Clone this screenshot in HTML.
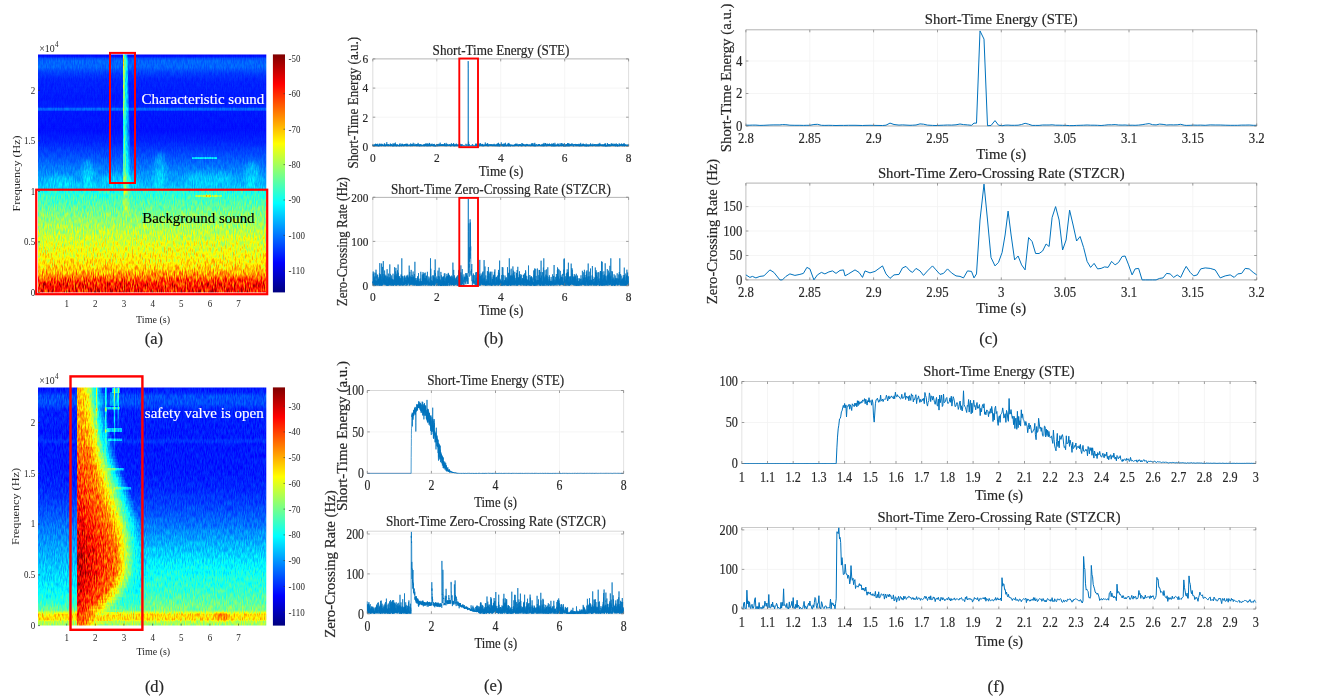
<!DOCTYPE html>
<html lang="en"><head><meta charset="utf-8"><title>Figure</title>
<style>
html,body{margin:0;padding:0;background:#fff;}
svg{display:block;font-family:"Liberation Serif","Times New Roman",serif;}
text{fill:#262626;stroke:#262626;stroke-width:.18px;}
text.s{stroke:none;}
</style></head><body>
<svg width="1320" height="700" viewBox="0 0 1320 700">
<rect width="1320" height="700" fill="#fff"/>

<defs>
<filter id="jet" x="0" y="0" width="1" height="1" color-interpolation-filters="sRGB">
<feTurbulence type="fractalNoise" baseFrequency="0.9 0.17" numOctaves="2" seed="5" result="n0"/>
<feColorMatrix in="n0" type="matrix" values="2 0 0 0 -0.5 2 0 0 0 -0.5 2 0 0 0 -0.5 0 0 0 0 1" result="n"/>
<feComposite in="SourceGraphic" in2="n" operator="arithmetic" k1="0.32" k2="0.84" k3="-0.03" k4="0.015" result="v"/>
<feComponentTransfer in="v">
<feFuncR type="table" tableValues="0 0 0 0 .5 1 1 1 .5"/>
<feFuncG type="table" tableValues="0 0 .5 1 1 1 .5 0 0"/>
<feFuncB type="table" tableValues=".5 1 1 1 .5 0 0 0 0"/>
<feFuncA type="discrete" tableValues="1 1"/>
</feComponentTransfer>
</filter>
<filter id="jetd" x="0" y="0" width="1" height="1" color-interpolation-filters="sRGB">
<feTurbulence type="fractalNoise" baseFrequency="0.9 0.17" numOctaves="2" seed="11" result="n0"/>
<feColorMatrix in="n0" type="matrix" values="2 0 0 0 -0.5 2 0 0 0 -0.5 2 0 0 0 -0.5 0 0 0 0 1" result="n"/>
<feComposite in="SourceGraphic" in2="n" operator="arithmetic" k1="0.20" k2="0.90" k3="0.02" k4="-0.01" result="v"/>
<feComponentTransfer in="v">
<feFuncR type="table" tableValues="0 0 0 0 .5 1 1 1 .5"/>
<feFuncG type="table" tableValues="0 0 .5 1 1 1 .5 0 0"/>
<feFuncB type="table" tableValues=".5 1 1 1 .5 0 0 0 0"/>
<feFuncA type="discrete" tableValues="1 1"/>
</feComponentTransfer>
</filter>
<filter id="bl2" x="-0.2" y="-0.2" width="1.4" height="1.4"><feGaussianBlur stdDeviation="2"/></filter>
<filter id="bl1" x="-0.2" y="-0.2" width="1.4" height="1.4"><feGaussianBlur stdDeviation="1"/></filter>
<linearGradient id="cbar" x1="0" y1="1" x2="0" y2="0">
<stop offset="0" stop-color="#00007f"/><stop offset=".125" stop-color="#0000ff"/><stop offset=".375" stop-color="#00ffff"/>
<stop offset=".625" stop-color="#ffff00"/><stop offset=".875" stop-color="#ff0000"/><stop offset="1" stop-color="#7f0000"/>
</linearGradient>

<linearGradient id="ga" gradientUnits="userSpaceOnUse" x1="0" y1="54.4" x2="0" y2="292.4"><stop offset="0.0000" stop-color="#212121"/><stop offset="0.0080" stop-color="#242424"/><stop offset="0.0172" stop-color="#333333"/><stop offset="0.0277" stop-color="#393939"/><stop offset="0.0529" stop-color="#393939"/><stop offset="0.0782" stop-color="#2f2f2f"/><stop offset="0.1076" stop-color="#292929"/><stop offset="0.1916" stop-color="#262626"/><stop offset="0.2210" stop-color="#282828"/><stop offset="0.2273" stop-color="#393939"/><stop offset="0.2336" stop-color="#393939"/><stop offset="0.2399" stop-color="#262626"/><stop offset="0.3176" stop-color="#242424"/><stop offset="0.3681" stop-color="#292929"/><stop offset="0.4227" stop-color="#333333"/><stop offset="0.4857" stop-color="#404040"/><stop offset="0.5361" stop-color="#4b4b4b"/><stop offset="0.5655" stop-color="#545454"/><stop offset="0.5718" stop-color="#666666"/><stop offset="0.6118" stop-color="#707070"/><stop offset="0.6622" stop-color="#7d7d7d"/><stop offset="0.7168" stop-color="#888888"/><stop offset="0.7714" stop-color="#939393"/><stop offset="0.8303" stop-color="#9c9c9c"/><stop offset="0.8723" stop-color="#a3a3a3"/><stop offset="0.8975" stop-color="#aaaaaa"/><stop offset="0.9185" stop-color="#b5b5b5"/><stop offset="0.9353" stop-color="#c2c2c2"/><stop offset="0.9521" stop-color="#d1d1d1"/><stop offset="0.9689" stop-color="#dbdbdb"/><stop offset="1.0000" stop-color="#dbdbdb"/></linearGradient>
<linearGradient id="gd" gradientUnits="userSpaceOnUse" x1="0" y1="387.4" x2="0" y2="625.6"><stop offset="0.0000" stop-color="#262626"/><stop offset="0.0193" stop-color="#282828"/><stop offset="0.0361" stop-color="#333333"/><stop offset="0.0697" stop-color="#333333"/><stop offset="0.0949" stop-color="#282828"/><stop offset="0.2124" stop-color="#262626"/><stop offset="0.2208" stop-color="#2c2c2c"/><stop offset="0.2292" stop-color="#2c2c2c"/><stop offset="0.2376" stop-color="#262626"/><stop offset="0.3468" stop-color="#262626"/><stop offset="0.4307" stop-color="#2a2a2a"/><stop offset="0.5147" stop-color="#333333"/><stop offset="0.5987" stop-color="#404040"/><stop offset="0.6826" stop-color="#4a4a4a"/><stop offset="0.7666" stop-color="#545454"/><stop offset="0.8505" stop-color="#5e5e5e"/><stop offset="0.9051" stop-color="#6b6b6b"/><stop offset="0.9345" stop-color="#787878"/><stop offset="0.9450" stop-color="#949494"/><stop offset="0.9534" stop-color="#a7a7a7"/><stop offset="0.9744" stop-color="#a7a7a7"/><stop offset="0.9828" stop-color="#8f8f8f"/><stop offset="1.0000" stop-color="#858585"/></linearGradient>
<clipPath id="cpa"><rect x="38.0" y="54.4" width="228.3" height="237.99999999999997"/></clipPath>
<clipPath id="cpd"><rect x="38.0" y="387.4" width="228.3" height="238.20000000000005"/></clipPath>
</defs>
<g clip-path="url(#cpa)"><g filter="url(#jet)"><rect x="36.0" y="52.4" width="232.3" height="241.99999999999997" fill="url(#ga)"/>
<g filter="url(#bl2)" fill="#fff">
<ellipse cx="88" cy="174" rx="6" ry="14" opacity="0.08"/>
<ellipse cx="160" cy="170" rx="6" ry="18" opacity="0.08"/>
<ellipse cx="252" cy="174" rx="7" ry="14" opacity="0.07"/>
<ellipse cx="120" cy="180" rx="20" ry="7" opacity="0.05"/>
<ellipse cx="210" cy="178" rx="25" ry="7" opacity="0.05"/>
<ellipse cx="60" cy="181" rx="14" ry="6" opacity="0.05"/>
</g>
<rect x="192" y="157.2" width="25" height="1.7" fill="#fff" opacity=".2"/>
<rect x="195" y="195" width="27" height="2" fill="#fff" opacity=".2"/><rect x="205.5" y="194.6" width="5" height="2.8" fill="#fff" opacity=".3"/>
<linearGradient id="stk" x1="0" y1="0" x2="1" y2="0"><stop offset="0" stop-color="#fff" stop-opacity=".34"/><stop offset=".45" stop-color="#fff" stop-opacity=".2"/><stop offset="1" stop-color="#fff" stop-opacity="0"/></linearGradient>
<linearGradient id="stkm" x1="0" y1="0" x2="0" y2="1"><stop offset="0" stop-color="#fff"/><stop offset=".75" stop-color="#fff"/><stop offset=".93" stop-color="#fff" stop-opacity=".5"/><stop offset="1" stop-color="#fff" stop-opacity="0"/></linearGradient>
<linearGradient id="stkl" x1="0" y1="0" x2="0" y2="1"><stop offset="0" stop-color="#fff" stop-opacity=".55"/><stop offset=".3" stop-color="#fff" stop-opacity=".48"/><stop offset=".42" stop-color="#fff" stop-opacity=".3"/><stop offset=".7" stop-color="#fff" stop-opacity=".24"/><stop offset="1" stop-color="#fff" stop-opacity=".12"/></linearGradient>
<mask id="mstk"><rect x="120" y="54" width="14" height="166" fill="url(#stkm)"/></mask>
<g mask="url(#mstk)"><path d="M123.9 54.4h3.4l3.6 110v56h-7z" fill="url(#stk)"/>
<rect x="123.1" y="54.4" width="1.1" height="166" fill="url(#stkl)"/></g>
</g></g>
<g clip-path="url(#cpd)"><g filter="url(#jetd)"><rect x="36.0" y="385.4" width="232.3" height="242.20000000000005" fill="url(#gd)"/>
<g filter="url(#bl2)" fill="#fff">
<rect x="216" y="613.5" width="13" height="7" opacity=".3"/>
</g>
<linearGradient id="lift" gradientUnits="userSpaceOnUse" x1="0" y1="525" x2="0" y2="613"><stop offset="0" stop-color="#fff" stop-opacity="0"/><stop offset=".55" stop-color="#fff" stop-opacity=".085"/><stop offset=".93" stop-color="#fff" stop-opacity=".085"/><stop offset="1" stop-color="#fff" stop-opacity="0"/></linearGradient><rect x="140" y="525" width="130" height="88" fill="url(#lift)"/>
<g shape-rendering="crispEdges">
<linearGradient id="r0" gradientUnits="userSpaceOnUse" x1="77.3" x2="104.2" y1="0" y2="0"><stop offset="0.000" stop-color="#b0b0b0"/><stop offset="0.145" stop-color="#a9a9a9"/><stop offset="0.368" stop-color="#9e9e9e"/><stop offset="0.626" stop-color="#666666"/><stop offset="1.000" stop-color="#272727"/></linearGradient><linearGradient id="r1" gradientUnits="userSpaceOnUse" x1="77.3" x2="104.6" y1="0" y2="0"><stop offset="0.000" stop-color="#b1b1b1"/><stop offset="0.158" stop-color="#a9a9a9"/><stop offset="0.377" stop-color="#9e9e9e"/><stop offset="0.628" stop-color="#666666"/><stop offset="1.000" stop-color="#272727"/></linearGradient><linearGradient id="r2" gradientUnits="userSpaceOnUse" x1="77.3" x2="105.0" y1="0" y2="0"><stop offset="0.000" stop-color="#b2b2b2"/><stop offset="0.170" stop-color="#aaaaaa"/><stop offset="0.386" stop-color="#9e9e9e"/><stop offset="0.630" stop-color="#666666"/><stop offset="1.000" stop-color="#2f2f2f"/></linearGradient><linearGradient id="r3" gradientUnits="userSpaceOnUse" x1="77.3" x2="105.4" y1="0" y2="0"><stop offset="0.000" stop-color="#b3b3b3"/><stop offset="0.181" stop-color="#ababab"/><stop offset="0.395" stop-color="#9e9e9e"/><stop offset="0.632" stop-color="#666666"/><stop offset="1.000" stop-color="#333333"/></linearGradient><linearGradient id="r4" gradientUnits="userSpaceOnUse" x1="77.3" x2="105.8" y1="0" y2="0"><stop offset="0.000" stop-color="#b3b3b3"/><stop offset="0.193" stop-color="#acacac"/><stop offset="0.404" stop-color="#9e9e9e"/><stop offset="0.633" stop-color="#666666"/><stop offset="1.000" stop-color="#333333"/></linearGradient><linearGradient id="r5" gradientUnits="userSpaceOnUse" x1="77.3" x2="106.2" y1="0" y2="0"><stop offset="0.000" stop-color="#b4b4b4"/><stop offset="0.204" stop-color="#adadad"/><stop offset="0.412" stop-color="#9e9e9e"/><stop offset="0.635" stop-color="#666666"/><stop offset="1.000" stop-color="#333333"/></linearGradient><linearGradient id="r6" gradientUnits="userSpaceOnUse" x1="77.3" x2="106.6" y1="0" y2="0"><stop offset="0.000" stop-color="#b5b5b5"/><stop offset="0.215" stop-color="#adadad"/><stop offset="0.420" stop-color="#9e9e9e"/><stop offset="0.637" stop-color="#666666"/><stop offset="1.000" stop-color="#2e2e2e"/></linearGradient><linearGradient id="r7" gradientUnits="userSpaceOnUse" x1="77.3" x2="107.0" y1="0" y2="0"><stop offset="0.000" stop-color="#b6b6b6"/><stop offset="0.226" stop-color="#aeaeae"/><stop offset="0.428" stop-color="#9e9e9e"/><stop offset="0.638" stop-color="#666666"/><stop offset="1.000" stop-color="#282828"/></linearGradient><linearGradient id="r8" gradientUnits="userSpaceOnUse" x1="77.3" x2="107.4" y1="0" y2="0"><stop offset="0.000" stop-color="#b6b6b6"/><stop offset="0.236" stop-color="#afafaf"/><stop offset="0.435" stop-color="#9e9e9e"/><stop offset="0.640" stop-color="#666666"/><stop offset="1.000" stop-color="#272727"/></linearGradient><linearGradient id="r9" gradientUnits="userSpaceOnUse" x1="77.3" x2="107.8" y1="0" y2="0"><stop offset="0.000" stop-color="#b7b7b7"/><stop offset="0.246" stop-color="#b0b0b0"/><stop offset="0.443" stop-color="#9e9e9e"/><stop offset="0.641" stop-color="#666666"/><stop offset="1.000" stop-color="#272727"/></linearGradient><linearGradient id="r10" gradientUnits="userSpaceOnUse" x1="77.3" x2="108.3" y1="0" y2="0"><stop offset="0.000" stop-color="#b8b8b8"/><stop offset="0.253" stop-color="#b0b0b0"/><stop offset="0.449" stop-color="#9e9e9e"/><stop offset="0.645" stop-color="#666666"/><stop offset="1.000" stop-color="#272727"/></linearGradient><linearGradient id="r11" gradientUnits="userSpaceOnUse" x1="77.3" x2="109.0" y1="0" y2="0"><stop offset="0.000" stop-color="#b9b9b9"/><stop offset="0.258" stop-color="#b2b2b2"/><stop offset="0.456" stop-color="#9e9e9e"/><stop offset="0.653" stop-color="#666666"/><stop offset="1.000" stop-color="#272727"/></linearGradient><linearGradient id="r12" gradientUnits="userSpaceOnUse" x1="77.3" x2="109.6" y1="0" y2="0"><stop offset="0.000" stop-color="#bababa"/><stop offset="0.263" stop-color="#b3b3b3"/><stop offset="0.461" stop-color="#9e9e9e"/><stop offset="0.660" stop-color="#666666"/><stop offset="1.000" stop-color="#272727"/></linearGradient><linearGradient id="r13" gradientUnits="userSpaceOnUse" x1="77.3" x2="110.3" y1="0" y2="0"><stop offset="0.000" stop-color="#bbbbbb"/><stop offset="0.268" stop-color="#b4b4b4"/><stop offset="0.467" stop-color="#9e9e9e"/><stop offset="0.666" stop-color="#666666"/><stop offset="1.000" stop-color="#272727"/></linearGradient><linearGradient id="r14" gradientUnits="userSpaceOnUse" x1="77.3" x2="110.9" y1="0" y2="0"><stop offset="0.000" stop-color="#bcbcbc"/><stop offset="0.272" stop-color="#b5b5b5"/><stop offset="0.473" stop-color="#9e9e9e"/><stop offset="0.673" stop-color="#666666"/><stop offset="1.000" stop-color="#272727"/></linearGradient><linearGradient id="r15" gradientUnits="userSpaceOnUse" x1="77.3" x2="111.6" y1="0" y2="0"><stop offset="0.000" stop-color="#bdbdbd"/><stop offset="0.277" stop-color="#b6b6b6"/><stop offset="0.478" stop-color="#9e9e9e"/><stop offset="0.679" stop-color="#666666"/><stop offset="1.000" stop-color="#262626"/></linearGradient><linearGradient id="r16" gradientUnits="userSpaceOnUse" x1="77.3" x2="112.2" y1="0" y2="0"><stop offset="0.000" stop-color="#bebebe"/><stop offset="0.281" stop-color="#b7b7b7"/><stop offset="0.483" stop-color="#9e9e9e"/><stop offset="0.685" stop-color="#666666"/><stop offset="1.000" stop-color="#262626"/></linearGradient><linearGradient id="r17" gradientUnits="userSpaceOnUse" x1="77.3" x2="112.9" y1="0" y2="0"><stop offset="0.000" stop-color="#bfbfbf"/><stop offset="0.285" stop-color="#b8b8b8"/><stop offset="0.488" stop-color="#9e9e9e"/><stop offset="0.691" stop-color="#666666"/><stop offset="1.000" stop-color="#2a2a2a"/></linearGradient><linearGradient id="r18" gradientUnits="userSpaceOnUse" x1="77.3" x2="113.5" y1="0" y2="0"><stop offset="0.000" stop-color="#c0c0c0"/><stop offset="0.289" stop-color="#b9b9b9"/><stop offset="0.492" stop-color="#9e9e9e"/><stop offset="0.696" stop-color="#666666"/><stop offset="1.000" stop-color="#2a2a2a"/></linearGradient><linearGradient id="r19" gradientUnits="userSpaceOnUse" x1="77.3" x2="114.2" y1="0" y2="0"><stop offset="0.000" stop-color="#c1c1c1"/><stop offset="0.292" stop-color="#bababa"/><stop offset="0.497" stop-color="#9e9e9e"/><stop offset="0.702" stop-color="#666666"/><stop offset="1.000" stop-color="#262626"/></linearGradient><linearGradient id="r20" gradientUnits="userSpaceOnUse" x1="77.3" x2="114.8" y1="0" y2="0"><stop offset="0.000" stop-color="#c2c2c2"/><stop offset="0.296" stop-color="#c2c2c2"/><stop offset="0.501" stop-color="#9e9e9e"/><stop offset="0.707" stop-color="#666666"/><stop offset="1.000" stop-color="#262626"/></linearGradient><linearGradient id="r21" gradientUnits="userSpaceOnUse" x1="77.3" x2="115.5" y1="0" y2="0"><stop offset="0.000" stop-color="#c3c3c3"/><stop offset="0.300" stop-color="#c2c2c2"/><stop offset="0.506" stop-color="#9e9e9e"/><stop offset="0.712" stop-color="#666666"/><stop offset="1.000" stop-color="#262626"/></linearGradient><linearGradient id="r22" gradientUnits="userSpaceOnUse" x1="77.3" x2="116.2" y1="0" y2="0"><stop offset="0.000" stop-color="#c5c5c5"/><stop offset="0.304" stop-color="#c2c2c2"/><stop offset="0.510" stop-color="#9e9e9e"/><stop offset="0.717" stop-color="#666666"/><stop offset="1.000" stop-color="#262626"/></linearGradient><linearGradient id="r23" gradientUnits="userSpaceOnUse" x1="77.3" x2="117.3" y1="0" y2="0"><stop offset="0.000" stop-color="#c6c6c6"/><stop offset="0.311" stop-color="#c2c2c2"/><stop offset="0.518" stop-color="#9e9e9e"/><stop offset="0.728" stop-color="#666666"/><stop offset="1.000" stop-color="#262626"/></linearGradient><linearGradient id="r24" gradientUnits="userSpaceOnUse" x1="77.3" x2="118.5" y1="0" y2="0"><stop offset="0.000" stop-color="#c7c7c7"/><stop offset="0.318" stop-color="#c2c2c2"/><stop offset="0.526" stop-color="#9e9e9e"/><stop offset="0.737" stop-color="#666666"/><stop offset="1.000" stop-color="#262626"/></linearGradient><linearGradient id="r25" gradientUnits="userSpaceOnUse" x1="77.3" x2="119.6" y1="0" y2="0"><stop offset="0.000" stop-color="#c9c9c9"/><stop offset="0.325" stop-color="#c2c2c2"/><stop offset="0.533" stop-color="#9e9e9e"/><stop offset="0.746" stop-color="#666666"/><stop offset="1.000" stop-color="#262626"/></linearGradient><linearGradient id="r26" gradientUnits="userSpaceOnUse" x1="77.3" x2="120.7" y1="0" y2="0"><stop offset="0.000" stop-color="#cacaca"/><stop offset="0.332" stop-color="#c2c2c2"/><stop offset="0.539" stop-color="#9e9e9e"/><stop offset="0.754" stop-color="#666666"/><stop offset="1.000" stop-color="#262626"/></linearGradient><linearGradient id="r27" gradientUnits="userSpaceOnUse" x1="77.3" x2="121.9" y1="0" y2="0"><stop offset="0.000" stop-color="#cccccc"/><stop offset="0.338" stop-color="#c2c2c2"/><stop offset="0.545" stop-color="#9e9e9e"/><stop offset="0.763" stop-color="#666666"/><stop offset="1.000" stop-color="#262626"/></linearGradient><linearGradient id="r28" gradientUnits="userSpaceOnUse" x1="77.3" x2="123.0" y1="0" y2="0"><stop offset="0.000" stop-color="#cdcdcd"/><stop offset="0.344" stop-color="#c2c2c2"/><stop offset="0.551" stop-color="#9e9e9e"/><stop offset="0.770" stop-color="#666666"/><stop offset="1.000" stop-color="#272727"/></linearGradient><linearGradient id="r29" gradientUnits="userSpaceOnUse" x1="77.3" x2="124.1" y1="0" y2="0"><stop offset="0.000" stop-color="#cfcfcf"/><stop offset="0.349" stop-color="#c2c2c2"/><stop offset="0.557" stop-color="#9e9e9e"/><stop offset="0.778" stop-color="#666666"/><stop offset="1.000" stop-color="#272727"/></linearGradient><linearGradient id="r30" gradientUnits="userSpaceOnUse" x1="77.3" x2="125.3" y1="0" y2="0"><stop offset="0.000" stop-color="#d0d0d0"/><stop offset="0.354" stop-color="#c2c2c2"/><stop offset="0.563" stop-color="#9e9e9e"/><stop offset="0.784" stop-color="#666666"/><stop offset="1.000" stop-color="#282828"/></linearGradient><linearGradient id="r31" gradientUnits="userSpaceOnUse" x1="77.3" x2="126.4" y1="0" y2="0"><stop offset="0.000" stop-color="#d2d2d2"/><stop offset="0.359" stop-color="#c2c2c2"/><stop offset="0.568" stop-color="#9e9e9e"/><stop offset="0.791" stop-color="#666666"/><stop offset="1.000" stop-color="#282828"/></linearGradient><linearGradient id="r32" gradientUnits="userSpaceOnUse" x1="77.3" x2="127.5" y1="0" y2="0"><stop offset="0.000" stop-color="#d3d3d3"/><stop offset="0.364" stop-color="#c2c2c2"/><stop offset="0.573" stop-color="#9e9e9e"/><stop offset="0.797" stop-color="#666666"/><stop offset="1.000" stop-color="#292929"/></linearGradient><linearGradient id="r33" gradientUnits="userSpaceOnUse" x1="77.3" x2="128.7" y1="0" y2="0"><stop offset="0.000" stop-color="#d5d5d5"/><stop offset="0.369" stop-color="#c2c2c2"/><stop offset="0.577" stop-color="#9e9e9e"/><stop offset="0.804" stop-color="#666666"/><stop offset="1.000" stop-color="#2a2a2a"/></linearGradient><linearGradient id="r34" gradientUnits="userSpaceOnUse" x1="77.3" x2="129.8" y1="0" y2="0"><stop offset="0.000" stop-color="#d6d6d6"/><stop offset="0.373" stop-color="#c2c2c2"/><stop offset="0.582" stop-color="#9e9e9e"/><stop offset="0.809" stop-color="#666666"/><stop offset="1.000" stop-color="#2a2a2a"/></linearGradient><linearGradient id="r35" gradientUnits="userSpaceOnUse" x1="77.3" x2="130.8" y1="0" y2="0"><stop offset="0.000" stop-color="#d7d7d7"/><stop offset="0.385" stop-color="#c2c2c2"/><stop offset="0.591" stop-color="#9e9e9e"/><stop offset="0.812" stop-color="#666666"/><stop offset="1.000" stop-color="#2c2c2c"/></linearGradient><linearGradient id="r36" gradientUnits="userSpaceOnUse" x1="77.3" x2="131.8" y1="0" y2="0"><stop offset="0.000" stop-color="#d8d8d8"/><stop offset="0.398" stop-color="#c2c2c2"/><stop offset="0.600" stop-color="#9e9e9e"/><stop offset="0.813" stop-color="#666666"/><stop offset="1.000" stop-color="#2d2d2d"/></linearGradient><linearGradient id="r37" gradientUnits="userSpaceOnUse" x1="77.3" x2="132.8" y1="0" y2="0"><stop offset="0.000" stop-color="#d9d9d9"/><stop offset="0.411" stop-color="#c2c2c2"/><stop offset="0.609" stop-color="#9e9e9e"/><stop offset="0.815" stop-color="#666666"/><stop offset="1.000" stop-color="#2e2e2e"/></linearGradient><linearGradient id="r38" gradientUnits="userSpaceOnUse" x1="77.3" x2="133.8" y1="0" y2="0"><stop offset="0.000" stop-color="#dadada"/><stop offset="0.423" stop-color="#c2c2c2"/><stop offset="0.618" stop-color="#9e9e9e"/><stop offset="0.816" stop-color="#666666"/><stop offset="1.000" stop-color="#303030"/></linearGradient><linearGradient id="r39" gradientUnits="userSpaceOnUse" x1="77.3" x2="134.8" y1="0" y2="0"><stop offset="0.000" stop-color="#dbdbdb"/><stop offset="0.435" stop-color="#c2c2c2"/><stop offset="0.626" stop-color="#9e9e9e"/><stop offset="0.818" stop-color="#666666"/><stop offset="1.000" stop-color="#313131"/></linearGradient><linearGradient id="r40" gradientUnits="userSpaceOnUse" x1="77.3" x2="135.8" y1="0" y2="0"><stop offset="0.000" stop-color="#dcdcdc"/><stop offset="0.446" stop-color="#c2c2c2"/><stop offset="0.634" stop-color="#9e9e9e"/><stop offset="0.819" stop-color="#666666"/><stop offset="1.000" stop-color="#323232"/></linearGradient><linearGradient id="r41" gradientUnits="userSpaceOnUse" x1="77.3" x2="136.8" y1="0" y2="0"><stop offset="0.000" stop-color="#dddddd"/><stop offset="0.457" stop-color="#c2c2c2"/><stop offset="0.642" stop-color="#9e9e9e"/><stop offset="0.821" stop-color="#666666"/><stop offset="1.000" stop-color="#343434"/></linearGradient><linearGradient id="r42" gradientUnits="userSpaceOnUse" x1="77.3" x2="137.8" y1="0" y2="0"><stop offset="0.000" stop-color="#dedede"/><stop offset="0.468" stop-color="#c2c2c2"/><stop offset="0.650" stop-color="#9e9e9e"/><stop offset="0.822" stop-color="#666666"/><stop offset="1.000" stop-color="#363636"/></linearGradient><linearGradient id="r43" gradientUnits="userSpaceOnUse" x1="77.3" x2="138.8" y1="0" y2="0"><stop offset="0.000" stop-color="#dfdfdf"/><stop offset="0.478" stop-color="#c2c2c2"/><stop offset="0.657" stop-color="#9e9e9e"/><stop offset="0.823" stop-color="#666666"/><stop offset="1.000" stop-color="#383838"/></linearGradient><linearGradient id="r44" gradientUnits="userSpaceOnUse" x1="77.3" x2="139.8" y1="0" y2="0"><stop offset="0.000" stop-color="#e0e0e0"/><stop offset="0.488" stop-color="#c2c2c2"/><stop offset="0.664" stop-color="#9e9e9e"/><stop offset="0.824" stop-color="#666666"/><stop offset="1.000" stop-color="#3a3a3a"/></linearGradient><linearGradient id="r45" gradientUnits="userSpaceOnUse" x1="77.3" x2="140.5" y1="0" y2="0"><stop offset="0.000" stop-color="#e2e2e2"/><stop offset="0.498" stop-color="#c2c2c2"/><stop offset="0.666" stop-color="#9e9e9e"/><stop offset="0.826" stop-color="#666666"/><stop offset="1.000" stop-color="#3c3c3c"/></linearGradient><linearGradient id="r46" gradientUnits="userSpaceOnUse" x1="77.3" x2="141.1" y1="0" y2="0"><stop offset="0.000" stop-color="#e3e3e3"/><stop offset="0.508" stop-color="#c2c2c2"/><stop offset="0.667" stop-color="#9e9e9e"/><stop offset="0.827" stop-color="#666666"/><stop offset="1.000" stop-color="#3e3e3e"/></linearGradient><linearGradient id="r47" gradientUnits="userSpaceOnUse" x1="77.3" x2="141.6" y1="0" y2="0"><stop offset="0.000" stop-color="#e5e5e5"/><stop offset="0.518" stop-color="#c2c2c2"/><stop offset="0.669" stop-color="#9e9e9e"/><stop offset="0.829" stop-color="#666666"/><stop offset="1.000" stop-color="#3f3f3f"/></linearGradient><linearGradient id="r48" gradientUnits="userSpaceOnUse" x1="77.3" x2="142.2" y1="0" y2="0"><stop offset="0.000" stop-color="#e6e6e6"/><stop offset="0.527" stop-color="#c2c2c2"/><stop offset="0.670" stop-color="#9e9e9e"/><stop offset="0.831" stop-color="#666666"/><stop offset="1.000" stop-color="#414141"/></linearGradient><linearGradient id="r49" gradientUnits="userSpaceOnUse" x1="77.3" x2="142.8" y1="0" y2="0"><stop offset="0.000" stop-color="#e8e8e8"/><stop offset="0.537" stop-color="#c2c2c2"/><stop offset="0.671" stop-color="#9e9e9e"/><stop offset="0.832" stop-color="#666666"/><stop offset="1.000" stop-color="#434343"/></linearGradient><linearGradient id="r50" gradientUnits="userSpaceOnUse" x1="77.3" x2="143.4" y1="0" y2="0"><stop offset="0.000" stop-color="#e9e9e9"/><stop offset="0.546" stop-color="#c2c2c2"/><stop offset="0.672" stop-color="#9e9e9e"/><stop offset="0.833" stop-color="#666666"/><stop offset="1.000" stop-color="#444444"/></linearGradient><linearGradient id="r51" gradientUnits="userSpaceOnUse" x1="77.3" x2="143.9" y1="0" y2="0"><stop offset="0.000" stop-color="#eaeaea"/><stop offset="0.555" stop-color="#c2c2c2"/><stop offset="0.673" stop-color="#9e9e9e"/><stop offset="0.835" stop-color="#666666"/><stop offset="1.000" stop-color="#464646"/></linearGradient><linearGradient id="r52" gradientUnits="userSpaceOnUse" x1="77.3" x2="144.5" y1="0" y2="0"><stop offset="0.000" stop-color="#ececec"/><stop offset="0.564" stop-color="#c2c2c2"/><stop offset="0.674" stop-color="#9e9e9e"/><stop offset="0.836" stop-color="#666666"/><stop offset="1.000" stop-color="#474747"/></linearGradient><linearGradient id="r53" gradientUnits="userSpaceOnUse" x1="77.3" x2="145.0" y1="0" y2="0"><stop offset="0.000" stop-color="#ededed"/><stop offset="0.572" stop-color="#c2c2c2"/><stop offset="0.675" stop-color="#9e9e9e"/><stop offset="0.837" stop-color="#666666"/><stop offset="1.000" stop-color="#494949"/></linearGradient><linearGradient id="r54" gradientUnits="userSpaceOnUse" x1="77.3" x2="145.1" y1="0" y2="0"><stop offset="0.000" stop-color="#ededed"/><stop offset="0.572" stop-color="#c2c2c2"/><stop offset="0.674" stop-color="#9e9e9e"/><stop offset="0.836" stop-color="#666666"/><stop offset="1.000" stop-color="#4a4a4a"/></linearGradient><linearGradient id="r55" gradientUnits="userSpaceOnUse" x1="77.3" x2="145.2" y1="0" y2="0"><stop offset="0.000" stop-color="#ededed"/><stop offset="0.573" stop-color="#c2c2c2"/><stop offset="0.673" stop-color="#9e9e9e"/><stop offset="0.834" stop-color="#666666"/><stop offset="1.000" stop-color="#4c4c4c"/></linearGradient><linearGradient id="r56" gradientUnits="userSpaceOnUse" x1="77.3" x2="145.4" y1="0" y2="0"><stop offset="0.000" stop-color="#ededed"/><stop offset="0.574" stop-color="#c2c2c2"/><stop offset="0.671" stop-color="#9e9e9e"/><stop offset="0.833" stop-color="#666666"/><stop offset="1.000" stop-color="#4d4d4d"/></linearGradient><linearGradient id="r57" gradientUnits="userSpaceOnUse" x1="77.3" x2="145.5" y1="0" y2="0"><stop offset="0.000" stop-color="#ededed"/><stop offset="0.575" stop-color="#c2c2c2"/><stop offset="0.670" stop-color="#9e9e9e"/><stop offset="0.832" stop-color="#666666"/><stop offset="1.000" stop-color="#4f4f4f"/></linearGradient><linearGradient id="r58" gradientUnits="userSpaceOnUse" x1="77.3" x2="145.6" y1="0" y2="0"><stop offset="0.000" stop-color="#ededed"/><stop offset="0.575" stop-color="#c2c2c2"/><stop offset="0.669" stop-color="#9e9e9e"/><stop offset="0.830" stop-color="#666666"/><stop offset="1.000" stop-color="#505050"/></linearGradient><linearGradient id="r59" gradientUnits="userSpaceOnUse" x1="77.3" x2="145.7" y1="0" y2="0"><stop offset="0.000" stop-color="#ededed"/><stop offset="0.576" stop-color="#c2c2c2"/><stop offset="0.668" stop-color="#9e9e9e"/><stop offset="0.829" stop-color="#666666"/><stop offset="1.000" stop-color="#525252"/></linearGradient><linearGradient id="r60" gradientUnits="userSpaceOnUse" x1="77.3" x2="145.8" y1="0" y2="0"><stop offset="0.000" stop-color="#ededed"/><stop offset="0.577" stop-color="#c2c2c2"/><stop offset="0.667" stop-color="#9e9e9e"/><stop offset="0.827" stop-color="#666666"/><stop offset="1.000" stop-color="#535353"/></linearGradient><linearGradient id="r61" gradientUnits="userSpaceOnUse" x1="77.3" x2="145.9" y1="0" y2="0"><stop offset="0.000" stop-color="#ededed"/><stop offset="0.578" stop-color="#c2c2c2"/><stop offset="0.666" stop-color="#9e9e9e"/><stop offset="0.826" stop-color="#666666"/><stop offset="1.000" stop-color="#555555"/></linearGradient><linearGradient id="r62" gradientUnits="userSpaceOnUse" x1="77.3" x2="145.5" y1="0" y2="0"><stop offset="0.000" stop-color="#ededed"/><stop offset="0.570" stop-color="#c2c2c2"/><stop offset="0.661" stop-color="#9e9e9e"/><stop offset="0.824" stop-color="#666666"/><stop offset="1.000" stop-color="#565656"/></linearGradient><linearGradient id="r63" gradientUnits="userSpaceOnUse" x1="77.3" x2="144.4" y1="0" y2="0"><stop offset="0.000" stop-color="#ececec"/><stop offset="0.553" stop-color="#c2c2c2"/><stop offset="0.652" stop-color="#9e9e9e"/><stop offset="0.821" stop-color="#666666"/><stop offset="1.000" stop-color="#585858"/></linearGradient><linearGradient id="r64" gradientUnits="userSpaceOnUse" x1="77.3" x2="143.4" y1="0" y2="0"><stop offset="0.000" stop-color="#ebebeb"/><stop offset="0.537" stop-color="#c2c2c2"/><stop offset="0.642" stop-color="#9e9e9e"/><stop offset="0.818" stop-color="#666666"/><stop offset="1.000" stop-color="#5a5a5a"/></linearGradient><linearGradient id="r65" gradientUnits="userSpaceOnUse" x1="77.3" x2="142.3" y1="0" y2="0"><stop offset="0.000" stop-color="#eaeaea"/><stop offset="0.519" stop-color="#c2c2c2"/><stop offset="0.632" stop-color="#9e9e9e"/><stop offset="0.816" stop-color="#666666"/><stop offset="1.000" stop-color="#5b5b5b"/></linearGradient><linearGradient id="r66" gradientUnits="userSpaceOnUse" x1="77.3" x2="141.3" y1="0" y2="0"><stop offset="0.000" stop-color="#e9e9e9"/><stop offset="0.501" stop-color="#c2c2c2"/><stop offset="0.622" stop-color="#9e9e9e"/><stop offset="0.813" stop-color="#666666"/><stop offset="1.000" stop-color="#5d5d5d"/></linearGradient><linearGradient id="r67" gradientUnits="userSpaceOnUse" x1="77.3" x2="140.3" y1="0" y2="0"><stop offset="0.000" stop-color="#e8e8e8"/><stop offset="0.482" stop-color="#c2c2c2"/><stop offset="0.612" stop-color="#9e9e9e"/><stop offset="0.809" stop-color="#666666"/><stop offset="1.000" stop-color="#5e5e5e"/></linearGradient><linearGradient id="r68" gradientUnits="userSpaceOnUse" x1="77.3" x2="139.2" y1="0" y2="0"><stop offset="0.000" stop-color="#e7e7e7"/><stop offset="0.463" stop-color="#c2c2c2"/><stop offset="0.601" stop-color="#9e9e9e"/><stop offset="0.806" stop-color="#666666"/><stop offset="1.000" stop-color="#616161"/></linearGradient><linearGradient id="r69" gradientUnits="userSpaceOnUse" x1="77.3" x2="138.2" y1="0" y2="0"><stop offset="0.000" stop-color="#e6e6e6"/><stop offset="0.443" stop-color="#c2c2c2"/><stop offset="0.590" stop-color="#9e9e9e"/><stop offset="0.803" stop-color="#666666"/><stop offset="1.000" stop-color="#646464"/></linearGradient><linearGradient id="r70" gradientUnits="userSpaceOnUse" x1="77.3" x2="135.1" y1="0" y2="0"><stop offset="0.000" stop-color="#e4e4e4"/><stop offset="0.421" stop-color="#c2c2c2"/><stop offset="0.577" stop-color="#9e9e9e"/><stop offset="0.799" stop-color="#676767"/><stop offset="1.000" stop-color="#676767"/></linearGradient><linearGradient id="r71" gradientUnits="userSpaceOnUse" x1="77.3" x2="131.7" y1="0" y2="0"><stop offset="0.000" stop-color="#e1e1e1"/><stop offset="0.397" stop-color="#c2c2c2"/><stop offset="0.562" stop-color="#9e9e9e"/><stop offset="0.794" stop-color="#6a6a6a"/><stop offset="1.000" stop-color="#6a6a6a"/></linearGradient><linearGradient id="r72" gradientUnits="userSpaceOnUse" x1="77.3" x2="128.3" y1="0" y2="0"><stop offset="0.000" stop-color="#dfdfdf"/><stop offset="0.369" stop-color="#c2c2c2"/><stop offset="0.545" stop-color="#9e9e9e"/><stop offset="0.788" stop-color="#6e6e6e"/><stop offset="1.000" stop-color="#6e6e6e"/></linearGradient><linearGradient id="r73" gradientUnits="userSpaceOnUse" x1="77.3" x2="124.9" y1="0" y2="0"><stop offset="0.000" stop-color="#dddddd"/><stop offset="0.337" stop-color="#c2c2c2"/><stop offset="0.526" stop-color="#9e9e9e"/><stop offset="0.782" stop-color="#737373"/><stop offset="1.000" stop-color="#737373"/></linearGradient><linearGradient id="r74" gradientUnits="userSpaceOnUse" x1="77.3" x2="121.5" y1="0" y2="0"><stop offset="0.000" stop-color="#dbdbdb"/><stop offset="0.304" stop-color="#c2c2c2"/><stop offset="0.508" stop-color="#9e9e9e"/><stop offset="0.778" stop-color="#7d7d7d"/><stop offset="1.000" stop-color="#7d7d7d"/></linearGradient><linearGradient id="r75" gradientUnits="userSpaceOnUse" x1="77.3" x2="118.5" y1="0" y2="0"><stop offset="0.000" stop-color="#d6d6d6"/><stop offset="0.290" stop-color="#c2c2c2"/><stop offset="0.508" stop-color="#9e9e9e"/><stop offset="0.791" stop-color="#9d9d9d"/><stop offset="1.000" stop-color="#9d9d9d"/></linearGradient><linearGradient id="r76" gradientUnits="userSpaceOnUse" x1="77.3" x2="115.5" y1="0" y2="0"><stop offset="0.000" stop-color="#d1d1d1"/><stop offset="0.274" stop-color="#c2c2c2"/><stop offset="0.509" stop-color="#a7a7a7"/><stop offset="0.806" stop-color="#a7a7a7"/><stop offset="1.000" stop-color="#a7a7a7"/></linearGradient><linearGradient id="r77" gradientUnits="userSpaceOnUse" x1="77.3" x2="112.5" y1="0" y2="0"><stop offset="0.000" stop-color="#cdcdcd"/><stop offset="0.254" stop-color="#c2c2c2"/><stop offset="0.510" stop-color="#a7a7a7"/><stop offset="0.824" stop-color="#a7a7a7"/><stop offset="1.000" stop-color="#a7a7a7"/></linearGradient><linearGradient id="r78" gradientUnits="userSpaceOnUse" x1="77.3" x2="109.5" y1="0" y2="0"><stop offset="0.000" stop-color="#c8c8c8"/><stop offset="0.244" stop-color="#c2c2c2"/><stop offset="0.511" stop-color="#9e9e9e"/><stop offset="0.814" stop-color="#8c8c8c"/><stop offset="1.000" stop-color="#8c8c8c"/></linearGradient><linearGradient id="r79" gradientUnits="userSpaceOnUse" x1="77.3" x2="106.5" y1="0" y2="0"><stop offset="0.000" stop-color="#c3c3c3"/><stop offset="0.235" stop-color="#c2c2c2"/><stop offset="0.512" stop-color="#9e9e9e"/><stop offset="0.795" stop-color="#858585"/><stop offset="1.000" stop-color="#858585"/></linearGradient>
<rect x="77.3" y="387" width="26.9" height="3" fill="url(#r0)"/><rect x="77.3" y="390" width="27.3" height="3" fill="url(#r1)"/><rect x="77.3" y="393" width="27.7" height="3" fill="url(#r2)"/><rect x="77.3" y="396" width="28.1" height="3" fill="url(#r3)"/><rect x="77.3" y="399" width="28.5" height="3" fill="url(#r4)"/><rect x="77.3" y="402" width="28.9" height="3" fill="url(#r5)"/><rect x="77.3" y="405" width="29.3" height="3" fill="url(#r6)"/><rect x="77.3" y="408" width="29.7" height="3" fill="url(#r7)"/><rect x="77.3" y="411" width="30.1" height="3" fill="url(#r8)"/><rect x="77.3" y="414" width="30.5" height="3" fill="url(#r9)"/><rect x="77.3" y="417" width="31.0" height="3" fill="url(#r10)"/><rect x="77.3" y="420" width="31.7" height="3" fill="url(#r11)"/><rect x="77.3" y="423" width="32.3" height="3" fill="url(#r12)"/><rect x="77.3" y="426" width="33.0" height="3" fill="url(#r13)"/><rect x="77.3" y="429" width="33.6" height="3" fill="url(#r14)"/><rect x="77.3" y="432" width="34.3" height="3" fill="url(#r15)"/><rect x="77.3" y="435" width="34.9" height="3" fill="url(#r16)"/><rect x="77.3" y="438" width="35.6" height="3" fill="url(#r17)"/><rect x="77.3" y="441" width="36.2" height="3" fill="url(#r18)"/><rect x="77.3" y="444" width="36.9" height="3" fill="url(#r19)"/><rect x="77.3" y="447" width="37.5" height="3" fill="url(#r20)"/><rect x="77.3" y="450" width="38.2" height="3" fill="url(#r21)"/><rect x="77.3" y="453" width="38.9" height="3" fill="url(#r22)"/><rect x="77.3" y="456" width="40.0" height="3" fill="url(#r23)"/><rect x="77.3" y="459" width="41.2" height="3" fill="url(#r24)"/><rect x="77.3" y="462" width="42.3" height="3" fill="url(#r25)"/><rect x="77.3" y="465" width="43.4" height="3" fill="url(#r26)"/><rect x="77.3" y="468" width="44.6" height="3" fill="url(#r27)"/><rect x="77.3" y="471" width="45.7" height="3" fill="url(#r28)"/><rect x="77.3" y="474" width="46.8" height="3" fill="url(#r29)"/><rect x="77.3" y="477" width="48.0" height="3" fill="url(#r30)"/><rect x="77.3" y="480" width="49.1" height="3" fill="url(#r31)"/><rect x="77.3" y="483" width="50.2" height="3" fill="url(#r32)"/><rect x="77.3" y="486" width="51.4" height="3" fill="url(#r33)"/><rect x="77.3" y="489" width="52.5" height="3" fill="url(#r34)"/><rect x="77.3" y="492" width="53.5" height="3" fill="url(#r35)"/><rect x="77.3" y="495" width="54.5" height="3" fill="url(#r36)"/><rect x="77.3" y="498" width="55.5" height="3" fill="url(#r37)"/><rect x="77.3" y="501" width="56.5" height="3" fill="url(#r38)"/><rect x="77.3" y="504" width="57.5" height="3" fill="url(#r39)"/><rect x="77.3" y="507" width="58.5" height="3" fill="url(#r40)"/><rect x="77.3" y="510" width="59.5" height="3" fill="url(#r41)"/><rect x="77.3" y="513" width="60.5" height="3" fill="url(#r42)"/><rect x="77.3" y="516" width="61.5" height="3" fill="url(#r43)"/><rect x="77.3" y="519" width="62.5" height="3" fill="url(#r44)"/><rect x="77.3" y="522" width="63.2" height="3" fill="url(#r45)"/><rect x="77.3" y="525" width="63.8" height="3" fill="url(#r46)"/><rect x="77.3" y="528" width="64.3" height="3" fill="url(#r47)"/><rect x="77.3" y="531" width="64.9" height="3" fill="url(#r48)"/><rect x="77.3" y="534" width="65.5" height="3" fill="url(#r49)"/><rect x="77.3" y="537" width="66.1" height="3" fill="url(#r50)"/><rect x="77.3" y="540" width="66.6" height="3" fill="url(#r51)"/><rect x="77.3" y="543" width="67.2" height="3" fill="url(#r52)"/><rect x="77.3" y="546" width="67.7" height="3" fill="url(#r53)"/><rect x="77.3" y="549" width="67.8" height="3" fill="url(#r54)"/><rect x="77.3" y="552" width="68.0" height="3" fill="url(#r55)"/><rect x="77.3" y="555" width="68.1" height="3" fill="url(#r56)"/><rect x="77.3" y="558" width="68.2" height="3" fill="url(#r57)"/><rect x="77.3" y="561" width="68.3" height="3" fill="url(#r58)"/><rect x="77.3" y="564" width="68.4" height="3" fill="url(#r59)"/><rect x="77.3" y="567" width="68.5" height="3" fill="url(#r60)"/><rect x="77.3" y="570" width="68.6" height="3" fill="url(#r61)"/><rect x="77.3" y="573" width="68.2" height="3" fill="url(#r62)"/><rect x="77.3" y="576" width="67.1" height="3" fill="url(#r63)"/><rect x="77.3" y="579" width="66.1" height="3" fill="url(#r64)"/><rect x="77.3" y="582" width="65.0" height="3" fill="url(#r65)"/><rect x="77.3" y="585" width="64.0" height="3" fill="url(#r66)"/><rect x="77.3" y="588" width="63.0" height="3" fill="url(#r67)"/><rect x="77.3" y="591" width="61.9" height="3" fill="url(#r68)"/><rect x="77.3" y="594" width="60.9" height="3" fill="url(#r69)"/><rect x="77.3" y="597" width="57.8" height="3" fill="url(#r70)"/><rect x="77.3" y="600" width="54.4" height="3" fill="url(#r71)"/><rect x="77.3" y="603" width="51.0" height="3" fill="url(#r72)"/><rect x="77.3" y="606" width="47.6" height="3" fill="url(#r73)"/><rect x="77.3" y="609" width="44.2" height="3" fill="url(#r74)"/><rect x="77.3" y="612" width="41.2" height="3" fill="url(#r75)"/><rect x="77.3" y="615" width="38.2" height="3" fill="url(#r76)"/><rect x="77.3" y="618" width="35.2" height="3" fill="url(#r77)"/><rect x="77.3" y="621" width="32.2" height="3" fill="url(#r78)"/><rect x="77.3" y="624" width="29.2" height="3" fill="url(#r79)"/>
</g>
<linearGradient id="vl" x1="0" y1="0" x2="0" y2="1"><stop offset="0" stop-color="#fff" stop-opacity=".36"/><stop offset=".45" stop-color="#fff" stop-opacity=".22"/><stop offset="1" stop-color="#fff" stop-opacity="0"/></linearGradient>
<rect x="96.0" y="387.4" width="1.3" height="70" fill="url(#vl)"/>
<rect x="105.2" y="387.4" width="1.3" height="100" fill="url(#vl)"/>
<rect x="113.8" y="387.4" width="1.3" height="70" fill="url(#vl)"/>
<rect x="117.6" y="387.4" width="1.3" height="45" fill="url(#vl)"/>
<rect x="95.8" y="408.5" width="1.8" height="3" fill="#fff" opacity=".3"/>
<rect x="105.0" y="408.5" width="1.8" height="3" fill="#fff" opacity=".3"/>
<rect x="105.0" y="429.5" width="1.8" height="3" fill="#fff" opacity=".3"/>
<rect x="95.8" y="429.5" width="1.8" height="3" fill="#fff" opacity=".3"/>
<rect x="112" y="388" width="8" height="5" fill="#fff" opacity="0.2"/>
<rect x="105" y="407" width="15" height="2.5" fill="#fff" opacity="0.2"/>
<rect x="107" y="428" width="15" height="4" fill="#fff" opacity="0.2"/>
<rect x="108" y="438.5" width="14" height="2.5" fill="#fff" opacity="0.18"/>
<rect x="107" y="468" width="17" height="2.5" fill="#fff" opacity="0.2"/>
<rect x="114" y="487" width="17" height="2.5" fill="#fff" opacity="0.16"/>
<rect x="110" y="392" width="8" height="14" fill="#fff" opacity="0.1"/>
</g></g>
<rect x="272.9" y="54.4" width="12.1" height="237.99999999999997" fill="url(#cbar)"/>
<rect x="272.9" y="387.4" width="12.1" height="238.20000000000005" fill="url(#cbar)"/>
<text class="s" x="64.4" y="307.3" font-size="10.3" textLength="4.5" lengthAdjust="spacingAndGlyphs">1</text>
<text class="s" x="93.1" y="307.3" font-size="10.3" textLength="4.5" lengthAdjust="spacingAndGlyphs">2</text>
<text class="s" x="121.7" y="307.3" font-size="10.3" textLength="4.5" lengthAdjust="spacingAndGlyphs">3</text>
<text class="s" x="150.4" y="307.3" font-size="10.3" textLength="4.5" lengthAdjust="spacingAndGlyphs">4</text>
<text class="s" x="179.0" y="307.3" font-size="10.3" textLength="4.5" lengthAdjust="spacingAndGlyphs">5</text>
<text class="s" x="207.7" y="307.3" font-size="10.3" textLength="4.5" lengthAdjust="spacingAndGlyphs">6</text>
<text class="s" x="236.3" y="307.3" font-size="10.3" textLength="4.5" lengthAdjust="spacingAndGlyphs">7</text>
<text class="s" x="30.8" y="295.7" font-size="10.3" textLength="4.5" lengthAdjust="spacingAndGlyphs">0</text>
<text class="s" x="24.1" y="245.2" font-size="10.3" textLength="11.2" lengthAdjust="spacingAndGlyphs">0.5</text>
<text class="s" x="30.8" y="194.7" font-size="10.3" textLength="4.5" lengthAdjust="spacingAndGlyphs">1</text>
<text class="s" x="24.1" y="144.2" font-size="10.3" textLength="11.2" lengthAdjust="spacingAndGlyphs">1.5</text>
<text class="s" x="30.8" y="93.7" font-size="10.3" textLength="4.5" lengthAdjust="spacingAndGlyphs">2</text>
<text class="s" x="288.6" y="61.7" font-size="10.3" textLength="11.9" lengthAdjust="spacingAndGlyphs">-50</text>
<text class="s" x="288.6" y="97.1" font-size="10.3" textLength="11.9" lengthAdjust="spacingAndGlyphs">-60</text>
<text class="s" x="288.6" y="132.6" font-size="10.3" textLength="11.9" lengthAdjust="spacingAndGlyphs">-70</text>
<text class="s" x="288.6" y="168.0" font-size="10.3" textLength="11.9" lengthAdjust="spacingAndGlyphs">-80</text>
<text class="s" x="288.6" y="203.4" font-size="10.3" textLength="11.9" lengthAdjust="spacingAndGlyphs">-90</text>
<text class="s" x="288.6" y="238.8" font-size="10.3" textLength="16.4" lengthAdjust="spacingAndGlyphs">-100</text>
<text class="s" x="288.6" y="274.3" font-size="10.3" textLength="16.1" lengthAdjust="spacingAndGlyphs">-110</text>
<path d="M66.7 292.4v-2M95.3 292.4v-2M123.9 292.4v-2M152.6 292.4v-2M181.2 292.4v-2M209.9 292.4v-2M238.5 292.4v-2M38 292.4h2M38 241.9h2M38 191.4h2M38 140.9h2M38 90.4h2M285 58.3h-1.5M285 93.7h-1.5M285 129.2h-1.5M285 164.6h-1.5M285 200.0h-1.5M285 235.4h-1.5M285 270.9h-1.5" stroke="#333" stroke-width="0.6" fill="none"/>
<text class="s" x="39.3" y="52.1" font-size="10.3" textLength="15.4" lengthAdjust="spacingAndGlyphs">×10</text>
<text class="s" x="54.9" y="46.5" font-size="7.4" textLength="3.5" lengthAdjust="spacingAndGlyphs">4</text>
<text class="s" x="64.4" y="640.6" font-size="10.3" textLength="4.5" lengthAdjust="spacingAndGlyphs">1</text>
<text class="s" x="93.1" y="640.6" font-size="10.3" textLength="4.5" lengthAdjust="spacingAndGlyphs">2</text>
<text class="s" x="121.7" y="640.6" font-size="10.3" textLength="4.5" lengthAdjust="spacingAndGlyphs">3</text>
<text class="s" x="150.4" y="640.6" font-size="10.3" textLength="4.5" lengthAdjust="spacingAndGlyphs">4</text>
<text class="s" x="179.0" y="640.6" font-size="10.3" textLength="4.5" lengthAdjust="spacingAndGlyphs">5</text>
<text class="s" x="207.7" y="640.6" font-size="10.3" textLength="4.5" lengthAdjust="spacingAndGlyphs">6</text>
<text class="s" x="236.3" y="640.6" font-size="10.3" textLength="4.5" lengthAdjust="spacingAndGlyphs">7</text>
<text class="s" x="30.8" y="628.9" font-size="10.3" textLength="4.5" lengthAdjust="spacingAndGlyphs">0</text>
<text class="s" x="24.1" y="578.1" font-size="10.3" textLength="11.2" lengthAdjust="spacingAndGlyphs">0.5</text>
<text class="s" x="30.8" y="527.4" font-size="10.3" textLength="4.5" lengthAdjust="spacingAndGlyphs">1</text>
<text class="s" x="24.1" y="476.6" font-size="10.3" textLength="11.2" lengthAdjust="spacingAndGlyphs">1.5</text>
<text class="s" x="30.8" y="425.9" font-size="10.3" textLength="4.5" lengthAdjust="spacingAndGlyphs">2</text>
<text class="s" x="288.6" y="409.5" font-size="10.3" textLength="11.9" lengthAdjust="spacingAndGlyphs">-30</text>
<text class="s" x="288.6" y="435.2" font-size="10.3" textLength="11.9" lengthAdjust="spacingAndGlyphs">-40</text>
<text class="s" x="288.6" y="461.0" font-size="10.3" textLength="11.9" lengthAdjust="spacingAndGlyphs">-50</text>
<text class="s" x="288.6" y="486.7" font-size="10.3" textLength="11.9" lengthAdjust="spacingAndGlyphs">-60</text>
<text class="s" x="288.6" y="512.5" font-size="10.3" textLength="11.9" lengthAdjust="spacingAndGlyphs">-70</text>
<text class="s" x="288.6" y="538.2" font-size="10.3" textLength="11.9" lengthAdjust="spacingAndGlyphs">-80</text>
<text class="s" x="288.6" y="564.0" font-size="10.3" textLength="11.9" lengthAdjust="spacingAndGlyphs">-90</text>
<text class="s" x="288.6" y="589.7" font-size="10.3" textLength="16.4" lengthAdjust="spacingAndGlyphs">-100</text>
<text class="s" x="288.6" y="615.5" font-size="10.3" textLength="16.1" lengthAdjust="spacingAndGlyphs">-110</text>
<path d="M66.7 625.6v-2M95.3 625.6v-2M123.9 625.6v-2M152.6 625.6v-2M181.2 625.6v-2M209.9 625.6v-2M238.5 625.6v-2M38 625.6h2M38 574.9h2M38 524.1h2M38 473.4h2M38 422.6h2M285 406.1h-1.5M285 431.9h-1.5M285 457.6h-1.5M285 483.4h-1.5M285 509.1h-1.5M285 534.9h-1.5M285 560.6h-1.5M285 586.4h-1.5M285 612.1h-1.5" stroke="#333" stroke-width="0.6" fill="none"/>
<text class="s" x="39.3" y="384.4" font-size="10.3" textLength="15.4" lengthAdjust="spacingAndGlyphs">×10</text>
<text class="s" x="54.9" y="379.3" font-size="7.4" textLength="3.5" lengthAdjust="spacingAndGlyphs">4</text>
<text class="s" x="-18.1" y="173.4" font-size="10.8" textLength="76.0" lengthAdjust="spacingAndGlyphs" transform="rotate(-90 19.9 173.4)">Frequency (Hz)</text>
<text class="s" x="-19.5" y="506.5" font-size="10.8" textLength="77.0" lengthAdjust="spacingAndGlyphs" transform="rotate(-90 19.0 506.5)">Frequency (Hz)</text>
<text class="s" x="136.1" y="322.5" font-size="10.8" textLength="33.9" lengthAdjust="spacingAndGlyphs">Time (s)</text>
<text class="s" x="136.4" y="655.2" font-size="10.8" textLength="33.8" lengthAdjust="spacingAndGlyphs">Time (s)</text>
<text x="144.7" y="343.7" font-size="16.5" textLength="18.3" lengthAdjust="spacingAndGlyphs">(a)</text>
<text x="144.9" y="692.0" font-size="16.5" textLength="19.2" lengthAdjust="spacingAndGlyphs">(d)</text>
<text x="141.4" y="103.5" font-size="15.6" textLength="122.8" lengthAdjust="spacingAndGlyphs" style="fill:#fff;stroke:#fff">Characteristic sound</text>
<text x="142.2" y="223.3" font-size="15.6" textLength="112.4" lengthAdjust="spacingAndGlyphs" style="fill:#000;stroke:#000">Background sound</text>
<text x="144.8" y="417.5" font-size="15.6" textLength="118.9" lengthAdjust="spacingAndGlyphs" style="fill:#fff;stroke:#fff">safety valve is open</text>
<g fill="none" stroke="#ff0000"><rect x="110" y="52.9" width="25" height="130.1" stroke-width="2"/><rect x="36.2" y="189.7" width="231" height="104.5" stroke-width="2.2"/><rect x="70.5" y="376.4" width="71.9" height="253.4" stroke-width="2.4"/></g>
<path d="M436.8 58.9V146.4M500.7 58.9V146.4M564.7 58.9V146.4M372.8 117.2H628.6M372.8 88.1H628.6" stroke="#f2f2f2" stroke-width="0.8" fill="none"/>
<path d="M372.8 58.9V146.4M628.6 58.9V146.4" fill="none" stroke="#d4d4d4" stroke-width="0.8"/>
<path d="M372.8 58.9H628.6M372.8 146.4H628.6" fill="none" stroke="#adadad" stroke-width="0.9"/>
<path d="M372.8 144.3L372.9 145.4L373 145.9L373 145L373.1 145.7L373.2 145L373.3 145.4L373.4 145.6L373.4 145.5L373.5 145L373.6 145.1L373.7 144.8L373.8 145.4L373.8 145.3L373.9 146.1L374 145.9L374.1 144.8L374.2 144.5L374.2 145.6L374.3 144.9L374.4 144.9L374.5 145.8L374.6 144.7L374.6 145.4L374.7 145.2L374.8 145.8L374.9 145L375 145.2L375 144.8L375.1 145.5L375.2 144.9L375.3 146.1L375.4 144.9L375.4 145.8L375.5 143.7L375.6 145L375.7 144.5L375.8 145.4L375.8 145.3L375.9 144.8L376 146L376.1 144.9L376.2 145.8L376.2 145.7L376.3 144.5L376.4 146.1L376.5 144.7L376.6 145.7L376.6 144.3L376.7 144.1L376.8 145.4L376.9 145.6L377 146.2L377 145.3L377.1 143.9L377.2 144.6L377.3 145.2L377.4 144.9L377.4 145.7L377.5 145.6L377.6 145.9L377.7 143.8L377.8 144.3L377.8 144.4L377.9 146.1L378 145.6L378.1 145.6L378.2 146.2L378.2 145.7L378.3 144.8L378.4 145.9L378.5 146.1L378.6 145.7L378.7 145.9L378.8 145L378.9 146.2L379 145.7L379 146.2L379.1 145.3L379.2 145L379.3 144.2L379.4 146.1L379.4 143.6L379.5 144.8L379.6 146L379.7 145.6L379.8 144L379.8 144.7L379.9 144.7L380 145.9L380.1 145.4L380.2 145.5L380.2 145.4L380.3 144.4L380.4 144.9L380.5 146L380.6 145.6L380.6 145.4L380.7 145.7L380.8 145.7L380.9 143.7L381 145.1L381 145.9L381.1 145.4L381.2 146.1L381.3 144.9L381.4 146L381.4 146.2L381.5 145.7L381.6 144.4L381.7 145.1L381.8 145.9L381.8 145.7L381.9 143.8L382 146L382.1 145.4L382.2 145.8L382.2 145.9L382.3 145L382.4 144.5L382.5 144.5L382.6 146L382.6 144.5L382.7 145L382.8 145.2L382.9 145.9L383 146L383.1 145.2L383.2 145.4L383.3 144.9L383.4 144.7L383.4 145.7L383.5 146.1L383.6 145.3L383.7 145.9L383.8 145.1L383.8 145.5L383.9 145.8L384 145.8L384.1 145.5L384.2 146.1L384.2 145.6L384.3 143.7L384.4 145.9L384.5 144.6L384.6 145.2L384.6 143.4L384.7 145.5L384.8 144.8L384.9 144.7L385 145.2L385 146.2L385.1 145.9L385.2 144.6L385.3 145.4L385.4 145.7L385.4 146.1L385.5 145L385.6 145.7L385.7 146.1L385.7 146L385.8 146L385.9 144.4L386 146L386.1 145.9L386.1 145.2L386.2 145.1L386.3 145L386.4 144.6L386.5 145.1L386.5 146L386.6 145.5L386.7 143.9L386.8 142.2L386.9 145.8L386.9 145.5L387 144.4L387.1 145.8L387.2 145.8L387.3 144.9L387.3 145.5L387.4 144.8L387.5 144.9L387.6 145L387.7 145.9L387.7 144.3L387.8 144.8L387.9 145.3L388 144.8L388.1 146.2L388.1 146L388.2 145.5L388.3 145.1L388.4 145L388.5 144.4L388.5 145.6L388.6 144.6L388.7 145.7L388.8 144.9L388.9 144.7L388.9 145.9L389 145.8L389.1 145.7L389.2 145.9L389.3 145L389.3 146L389.4 145.5L389.5 145.6L389.6 145.9L389.7 144.8L389.7 145.8L389.8 145.5L389.9 145.8L390 145.8L390.1 144.8L390.1 145.8L390.2 144.1L390.3 143.6L390.4 146.2L390.5 145.2L390.5 145L390.6 143.8L390.7 145.7L390.8 144.5L390.9 144L390.9 145.7L391 144.9L391.1 144.3L391.2 145L391.3 145.4L391.3 145.9L391.4 145.5L391.5 145.9L391.6 145.7L391.7 145.6L391.7 144.3L391.8 145.3L391.9 144.5L392 145.5L392.1 146.2L392.1 145.4L392.2 145.8L392.3 145.5L392.4 145.9L392.5 145.5L392.5 145.3L392.6 145.9L392.7 145.5L392.8 146.4L392.9 146.3L392.9 145.9L393 143.3L393.1 144.8L393.2 146L393.3 145.8L393.3 144.3L393.4 146.2L393.5 145.5L393.6 144.3L393.7 146.1L393.7 145.2L393.8 145.4L393.9 145.4L394 144.9L394.1 145.7L394.1 144.9L394.2 145.8L394.3 143.3L394.4 146.1L394.5 146L394.5 146.1L394.6 145.3L394.7 145.8L394.8 145.9L394.9 145.1L394.9 145.8L395 144.3L395.1 145.3L395.2 144.9L395.3 144.7L395.3 144.8L395.4 142.6L395.5 145.8L395.6 144L395.7 145.4L395.7 145L395.8 145.6L395.9 146.2L396 145.6L396.1 146.2L396.1 145.4L396.2 144.8L396.3 145.3L396.4 144.5L396.5 146.2L396.6 145.9L396.7 144.8L396.8 145.7L396.9 145.1L396.9 145.8L397 146.2L397.1 145.5L397.2 145.6L397.3 145.5L397.3 144.7L397.4 144.9L397.5 145.9L397.6 144.4L397.7 146L397.7 144.9L397.8 146L397.9 146L398 145L398.1 145.6L398.1 145L398.2 146L398.3 145.7L398.4 145.7L398.5 145.9L398.5 146.2L398.6 146L398.7 145.5L398.8 145.4L398.9 145.9L398.9 145.7L399 145.7L399.1 145.7L399.2 145L399.3 145.4L399.3 144.5L399.4 146.2L399.5 143.8L399.6 146.1L399.7 145L399.7 145.8L399.8 145.1L399.9 146.2L400 145.7L400.1 145.5L400.1 145.2L400.2 143.5L400.3 145.8L400.4 145L400.5 145.5L400.5 145.7L400.6 145.3L400.7 145L400.8 145.9L400.9 144.8L400.9 145.8L401 146.1L401.1 145.9L401.2 145.1L401.3 145.2L401.3 145.3L401.4 145.5L401.5 144.9L401.6 146.3L401.7 145.6L401.7 144.5L401.8 145L401.9 144.8L402 144.6L402.1 143.6L402.1 145.7L402.2 144.3L402.3 145.9L402.4 145.1L402.5 145.2L402.5 145.9L402.6 145.3L402.7 144.2L402.8 144.8L402.9 144.5L402.9 144.9L403 144.9L403.1 145.4L403.2 146.1L403.3 146.1L403.3 145.9L403.4 144.7L403.5 144.8L403.6 146.2L403.7 145.7L403.7 145.2L403.8 145.9L403.9 145.7L404 145.3L404.1 145.3L404.1 145.1L404.2 144.3L404.3 145.7L404.4 144L404.5 145.6L404.5 146L404.6 145.7L404.7 146.1L404.8 145.1L404.9 145.7L404.9 144.7L405 144.3L405.1 145.8L405.2 145.5L405.3 144.8L405.3 144.9L405.4 144.1L405.5 144.9L405.6 144.3L405.7 145.3L405.7 144.4L405.8 144.4L405.9 144.3L406 145.4L406.1 143.6L406.1 146L406.2 144.7L406.3 145.9L406.4 145.4L406.5 144L406.5 144.7L406.6 145.2L406.7 146.1L406.8 145.3L406.9 146.1L406.9 145.1L407 145.8L407.1 143.9L407.2 146.2L407.3 145.5L407.3 143.9L407.4 145.6L407.5 145.8L407.6 145.7L407.7 145.2L407.7 145.6L407.8 143.9L407.9 144.5L408 145.8L408.1 144.9L408.1 145.9L408.2 145.3L408.3 145.8L408.4 146L408.5 145.6L408.5 145.7L408.6 146.1L408.7 145.4L408.8 145.1L408.9 145.3L408.9 145.4L409 145.4L409.1 145.4L409.2 145L409.3 145.5L409.3 144.8L409.4 145.7L409.5 145.3L409.6 145.4L409.7 145.7L409.8 144.9L409.9 144.9L410 144.1L410.1 146.1L410.1 145.6L410.2 145.4L410.3 145.7L410.4 146.2L410.5 144.8L410.5 145.5L410.6 145L410.7 143.4L410.8 145.1L410.9 145.4L410.9 145.5L411 145.4L411.1 145L411.2 145L411.2 145.2L411.3 144.9L411.4 145.8L411.5 145.6L411.6 144.2L411.6 145.6L411.7 146L411.8 144.4L411.9 145.4L412 145.5L412 145.3L412.1 146.3L412.2 145.6L412.3 144.3L412.4 144.6L412.4 145.7L412.5 145L412.6 144.6L412.7 144.4L412.8 145.8L412.8 145.2L412.9 145.1L413 144.6L413.1 146L413.2 144.6L413.2 142.8L413.3 145.8L413.4 145.5L413.5 145.6L413.6 145.7L413.6 144.8L413.7 144.8L413.8 145.1L413.9 145.6L414 145.3L414 145.9L414.1 144.7L414.2 145.8L414.3 145.3L414.4 145.8L414.4 146L414.5 145L414.6 145.9L414.7 145.1L414.8 146.1L414.8 143.6L414.9 145.7L415 146L415.1 145.2L415.2 145.6L415.2 145.1L415.3 145.4L415.4 144.3L415.5 145.8L415.6 145.6L415.6 145.3L415.7 145.6L415.8 145.1L415.9 144.8L416 145.8L416 145.5L416.1 145.8L416.2 145.3L416.3 145.2L416.4 144.9L416.4 145.8L416.5 146.2L416.6 144.9L416.7 144.2L416.8 145.6L416.8 144L416.9 145.2L417 144.3L417.1 144.9L417.2 145.4L417.2 145L417.3 146.2L417.4 144.6L417.5 145.4L417.6 144.9L417.6 144.8L417.7 145.8L417.8 146L417.9 144.6L418 145.5L418 146L418.1 142.9L418.2 145.6L418.3 144.7L418.4 145.3L418.5 145.3L418.6 144.9L418.7 144.5L418.8 145L418.8 145.4L418.9 145.4L419 146.1L419.1 145.9L419.2 145.2L419.2 146.3L419.3 144.5L419.4 146.1L419.5 145L419.6 145.6L419.6 146.1L419.7 144.5L419.8 145.6L419.9 145.1L420 144.5L420 144.3L420.1 145.6L420.2 145.4L420.3 145.7L420.4 146.2L420.4 145.6L420.5 145.1L420.6 145.3L420.7 145.5L420.8 144L420.8 145.2L420.9 144.5L421 145.1L421.1 145.3L421.2 146.1L421.3 145.2L421.4 144.8L421.5 145.4L421.6 145.2L421.6 146L421.7 146.2L421.8 145.7L421.9 145.1L422 145.3L422 145.5L422.1 145.6L422.2 145.9L422.3 146.1L422.4 145L422.4 145.1L422.5 145.6L422.6 145.1L422.7 145.5L422.8 145.7L422.9 146L423 145.9L423.1 144.6L423.2 146.1L423.2 144.9L423.3 145.3L423.4 144.5L423.5 145.8L423.6 145.2L423.6 145.7L423.7 145.5L423.8 145.7L423.9 146.2L424 144.8L424.1 144.6L424.2 145.2L424.3 144.7L424.4 144.8L424.4 145.1L424.5 145.9L424.6 144.5L424.7 146.1L424.8 145.2L424.8 144.1L424.9 146.2L425 145.4L425.1 145.1L425.2 145.1L425.3 145.1L425.4 143.5L425.5 145.7L425.6 145.4L425.7 144.8L425.8 145.5L425.9 144.4L426 145.8L426 145.2L426.1 145.4L426.2 144.5L426.3 145.3L426.4 145.1L426.4 144.6L426.5 145L426.6 145.1L426.7 145.4L426.8 146.2L426.8 143.7L426.9 146.2L427 143.4L427.1 143.8L427.2 144.9L427.2 145L427.3 144.1L427.4 144.2L427.5 143.8L427.6 144.1L427.6 145.9L427.7 145.6L427.8 145.2L427.9 144.1L428 146.2L428 144.3L428.1 144L428.2 146.2L428.3 145.8L428.4 144.3L428.4 145L428.5 145.3L428.6 145.9L428.7 145.5L428.8 145.7L428.8 145.6L428.9 145.9L429 145L429.1 145.5L429.2 145.8L429.2 142.9L429.3 145.7L429.4 145.5L429.5 145.6L429.6 143.1L429.6 145.3L429.7 145.5L429.8 143.9L429.9 145.9L430 146.1L430 145.3L430.1 146.3L430.2 145.9L430.3 145.7L430.4 144.3L430.4 145.4L430.5 145.7L430.6 145L430.7 145.6L430.8 145.7L430.9 145.6L431 146L431.1 145.8L431.2 145.6L431.2 145.9L431.3 144.7L431.4 146L431.5 143.9L431.6 145.3L431.6 145.4L431.7 145.2L431.8 145.1L431.9 145.6L432 145L432 145.6L432.1 145.1L432.2 143.7L432.3 145.9L432.4 145.3L432.4 144.9L432.5 145.6L432.6 145L432.7 145.8L432.8 145.7L432.8 145.3L432.9 145.4L433 145.1L433.1 145.6L433.2 144.4L433.2 146.1L433.3 144.5L433.4 146L433.5 146.1L433.6 146.1L433.6 145.5L433.7 145.8L433.8 145.7L433.9 144.1L434 146.2L434 144.6L434.1 145.8L434.2 145.8L434.3 146.1L434.4 144.9L434.4 143.9L434.5 145.9L434.6 145.9L434.7 145.1L434.8 145.4L434.8 145.1L434.9 145.5L435 146.3L435.1 145.1L435.2 144.9L435.2 145.9L435.3 146.1L435.4 145.9L435.5 146.3L435.6 145.7L435.6 145.8L435.7 145.4L435.8 146.1L435.9 146L436 145.6L436 145.2L436.1 146L436.2 146L436.3 145.8L436.4 145.8L436.4 144.3L436.5 145.3L436.6 145.7L436.7 146.1L436.8 144.3L436.8 146L436.9 144.6L437 145.3L437.1 145.3L437.1 145.6L437.2 146.1L437.3 145.1L437.4 145.6L437.5 145.1L437.5 146.1L437.6 144.2L437.7 145.9L437.8 145.7L437.9 144.3L437.9 145.2L438 144.1L438.1 145L438.2 145.4L438.3 145.7L438.3 146.1L438.4 145.4L438.5 145.2L438.6 145.5L438.7 145.3L438.7 145.2L438.8 144.5L438.9 144.8L439 145.5L439.1 144.9L439.1 143.7L439.2 146.1L439.3 144.7L439.4 144.8L439.5 144.7L439.5 144.4L439.6 145.6L439.7 145.2L439.8 145.7L439.9 145.1L439.9 145.8L440 145.5L440.1 145.4L440.2 142.7L440.3 145.5L440.3 145L440.4 144.9L440.5 144.9L440.6 145L440.7 146L440.7 145.8L440.8 144.7L440.9 145.7L441 144.8L441.1 144.3L441.1 145.6L441.2 146L441.3 145.5L441.4 145.5L441.5 144.4L441.5 145.5L441.6 145.8L441.7 145.7L441.8 145L441.9 144.5L441.9 145.3L442 145.8L442.1 145.1L442.2 145.6L442.3 145L442.3 145.1L442.4 146L442.5 144.4L442.6 145.7L442.7 145.1L442.7 144.4L442.8 145.7L442.9 144.9L443 144.5L443.1 145.7L443.1 144.5L443.2 145.5L443.3 145.2L443.4 145.1L443.5 145.6L443.6 146L443.7 145.8L443.8 146L443.9 144.5L443.9 144.4L444 146L444.1 144.1L444.2 145.3L444.3 145.9L444.3 145.8L444.4 145.7L444.5 144L444.6 143L444.7 145.1L444.7 146.1L444.8 145L444.9 145.4L445 145.1L445.1 145.9L445.1 145.3L445.2 144.5L445.3 144.1L445.4 144.9L445.5 145L445.5 146.1L445.6 145.6L445.7 145.9L445.8 145.6L445.9 145.9L445.9 145.2L446 145.1L446.1 143.5L446.2 142.9L446.3 146.2L446.3 144.8L446.4 145.4L446.5 145.6L446.6 146L446.7 145L446.7 144.1L446.8 145.1L446.9 145.5L447 146.1L447.1 145.2L447.2 145.2L447.3 145.1L447.4 145.2L447.5 144.7L447.6 145.7L447.7 143.9L447.8 144.9L447.9 145.4L447.9 145.5L448 145.9L448.1 145.6L448.2 144.7L448.3 145.5L448.3 145.7L448.4 144.8L448.5 145.1L448.6 146L448.7 145.7L448.7 145.1L448.8 145.2L448.9 145.4L449 145.4L449.1 145.6L449.1 145.5L449.2 146L449.3 144.4L449.4 145.4L449.5 145.6L449.5 145.1L449.6 144.5L449.7 144.6L449.8 144.2L449.9 145.6L449.9 144.8L450 145.6L450.1 144.8L450.2 145.9L450.3 145.7L450.4 145.4L450.5 146.2L450.6 144.5L450.7 145.8L450.7 144.9L450.8 146L450.9 146.3L451 145.7L451.1 145.4L451.1 145.1L451.2 145.7L451.3 145.2L451.4 143.2L451.5 144.2L451.5 144.7L451.6 144.7L451.7 145.4L451.8 145.6L451.9 144.5L451.9 145.2L452 145.9L452.1 145.7L452.2 145.4L452.3 144.7L452.3 145.2L452.4 144.7L452.5 145.2L452.6 144.8L452.7 144.9L452.7 145.1L452.8 145.5L452.9 145.5L453 144.2L453.1 145L453.1 144.6L453.2 144.5L453.3 145.8L453.4 146.2L453.5 145.3L453.5 146L453.6 143L453.7 145.7L453.8 144.6L453.9 145.1L453.9 145.7L454 145.4L454.1 144.9L454.2 145.6L454.3 145L454.3 145.8L454.4 146.1L454.5 145.2L454.6 145.3L454.7 144.4L454.7 145.7L454.8 146.3L454.9 144.9L455 146.1L455.1 145.8L455.1 145.7L455.2 144.5L455.3 145.8L455.4 144.5L455.5 145.9L455.5 145.3L455.6 145.6L455.7 145.2L455.8 145.4L455.9 145.5L455.9 145.7L456 146L456.1 145.2L456.2 145.6L456.3 143.6L456.3 145.9L456.4 145.6L456.5 144.4L456.6 145.9L456.7 146.2L456.7 144.5L456.8 145.9L456.9 145.5L457 145.5L457.1 145.2L457.1 145.9L457.2 146.1L457.3 145.7L457.4 145.9L457.5 145.3L457.5 145.5L457.6 145.2L457.7 145.1L457.8 145.9L457.9 144L457.9 144.7L458 145.7L458.1 146.1L458.2 145.8L458.3 145.7L458.3 146L458.4 144.7L458.5 144.7L458.6 145.8L458.7 145.3L458.7 145.5L458.8 145.6L458.9 146.2L459 146.2L459.1 145.9L459.1 146.2L459.2 146L459.3 146.1L459.4 143.5L459.5 145.5L459.5 144.8L459.6 145.5L459.7 143.3L459.8 145.6L459.9 145.6L459.9 145L460 145.3L460.1 146.1L460.2 145.3L460.3 145.1L460.3 144.8L460.4 145.4L460.5 145L460.6 144.9L460.7 145L460.7 144L460.8 146.1L460.9 146.2L461 145.6L461.1 145.8L461.2 146.2L461.3 145.4L461.4 145.1L461.5 145.9L461.5 145.6L461.6 146.2L461.7 145.6L461.8 144.5L461.9 146.1L461.9 144.4L462 145L462.1 144.5L462.2 145.4L462.3 145.6L462.3 145.7L462.4 145.7L462.5 145.6L462.6 145.6L462.7 145.8L462.8 145.7L462.9 145.5L463 145.4L463.2 145.4L463.2 145.1L463.3 145.2L463.4 145.7L463.6 145.7L463.7 145.8L463.8 145.9L463.9 145.8L464 145L464.1 144.9L464.2 145.8L464.3 145.9L464.4 145.8L464.5 145.9L464.6 145.9L464.7 145.9L464.8 145.9L464.9 145.8L465.1 145.8L465.2 145.8L465.2 145.9L465.3 145.9L465.4 145.8L465.6 145.9L465.7 146L465.8 145.7L465.9 143.8L466 145L466.2 145.6L466.3 145.4L466.3 145.6L466.4 145.7L466.5 145.7L466.6 145.5L466.7 144.5L466.8 144.8L466.9 145.5L467 145.9L467.1 146L467.2 145.8L467.3 145.7L467.4 145.5L467.5 145.6L467.6 145.3L467.7 144.6L467.8 145.2L467.9 145.4L468 145.7L468 143.8L468.1 143.9L468.2 61.1L468.3 68.4L468.4 146.1L468.5 146L468.6 141.6L468.7 145.7L468.7 146.1L468.8 145.7L468.9 145.6L469 145.7L469.1 145.8L469.1 145.7L469.2 145.1L469.3 144L469.4 144.8L469.5 145.8L469.6 145.8L469.7 145.9L469.8 145.5L469.9 145.5L470 145.3L470.1 145.6L470.2 145.6L470.3 145.7L470.3 145.9L470.4 146L470.5 146L470.6 145.9L470.7 145.8L470.8 145.7L470.9 145.5L471 145.7L471 145.6L471.1 145.8L471.2 145.9L471.3 145.6L471.4 145.3L471.5 145.3L471.6 145.2L471.7 145.5L471.8 145.6L471.8 145.5L471.9 145.8L472 145.7L472.1 145.8L472.2 145.6L472.3 145.2L472.3 144.7L472.4 144.2L472.5 145.2L472.6 145.4L472.7 144.7L472.8 145L472.9 145.5L473 145.4L473.1 145.3L473.2 144.9L473.3 145.6L473.4 145.9L473.5 145.8L473.5 145.6L473.6 145.7L473.7 145.6L473.8 145.7L474 145.4L474.1 145.5L474.2 145.5L474.3 145.7L474.5 145.7L474.6 145.8L474.7 145.6L474.8 145.6L474.9 145.5L475 145.8L475.1 145.8L475.2 144.9L475.3 145.2L475.4 145.6L475.4 144.9L475.5 146L475.6 145.3L475.7 145.3L475.8 143.6L475.8 145.5L475.9 145L476 144.7L476.1 143.9L476.2 145.8L476.2 143.9L476.3 145.7L476.4 145L476.5 145.7L476.6 145.2L476.7 143.9L476.8 145.5L476.9 145.4L477 144.8L477 144.6L477.1 145.6L477.2 145.2L477.3 146.1L477.4 145.2L477.4 146L477.5 145.2L477.6 144.5L477.7 145.4L477.8 144.6L477.8 145.3L477.9 145.3L478 145.4L478.1 145.8L478.2 143.9L478.2 145.1L478.3 145.7L478.4 143.7L478.5 145.1L478.6 145.7L478.6 146.2L478.7 145.3L478.8 144.7L478.9 144.8L479 145.1L479 145.2L479.1 146L479.2 144.9L479.3 145.2L479.4 145.7L479.4 145.3L479.5 144.1L479.6 146.2L479.7 145.8L479.8 145.3L479.8 144.7L479.9 145.7L480 146L480.1 143.3L480.2 144.6L480.2 143.2L480.3 145.3L480.4 144.7L480.5 145.2L480.6 144.8L480.6 145.8L480.7 145.3L480.8 145.3L480.9 145.3L481 144.6L481 143.9L481.1 145.1L481.2 146L481.3 145.2L481.4 145.2L481.5 145.9L481.6 144.8L481.7 145.6L481.8 145.9L481.8 144.8L481.9 145.7L482 145.3L482.1 145.5L482.2 146.3L482.2 144.2L482.3 145L482.4 145.7L482.5 144.3L482.6 145.2L482.6 143.9L482.7 145.1L482.8 144.7L482.9 144.5L483 145.3L483 144.7L483.1 144.9L483.2 146.1L483.3 145.9L483.4 145.1L483.4 145.8L483.5 145.4L483.6 145.4L483.7 146.3L483.8 145.5L483.8 145.9L483.9 144.9L484 145L484.1 145.3L484.2 144.8L484.2 145.4L484.3 145.6L484.4 145.5L484.5 144.7L484.6 145.3L484.6 145.9L484.7 144.9L484.8 145.9L484.9 145L485 146L485 145L485.1 144.8L485.2 145.2L485.3 142.5L485.4 145.4L485.4 146L485.5 144.8L485.6 145.4L485.7 144.7L485.8 144.9L485.8 145.8L485.9 145L486 145L486.1 145.1L486.2 144.6L486.2 145.7L486.3 144.7L486.4 145.1L486.5 145.5L486.6 144.9L486.6 144.7L486.7 145.9L486.8 144.5L486.9 146L487 144.1L487 146L487.1 144.9L487.2 143.5L487.3 145.9L487.4 146.1L487.4 145L487.5 144.1L487.6 143.3L487.7 143.1L487.8 146.2L487.8 145.1L487.9 145.5L488 145.6L488.1 145.8L488.1 144L488.2 146.1L488.3 146L488.4 145.9L488.5 145L488.5 145.5L488.6 145.2L488.7 146.2L488.8 145.1L488.9 145.1L488.9 144.6L489 145L489.1 145L489.2 145.2L489.3 145.7L489.4 144.6L489.5 145.3L489.6 145.1L489.7 144.5L489.7 144.1L489.8 144.4L489.9 144.7L490 145.5L490.1 145.9L490.1 145.2L490.2 145.8L490.3 144.5L490.4 145.2L490.5 145.7L490.5 144.9L490.6 145.2L490.7 145.7L490.8 145.8L490.9 144.1L490.9 144.9L491 145.5L491.1 145.8L491.2 145L491.3 145.7L491.3 144.4L491.4 144.8L491.5 145.9L491.6 144.8L491.7 144.8L491.7 144.7L491.8 145.5L491.9 146L492 145.9L492.1 145.8L492.1 146.1L492.2 144.1L492.3 145.7L492.4 145.2L492.5 145.3L492.5 146.1L492.6 145L492.7 145.3L492.8 145.4L492.9 144.9L492.9 145.5L493 145.3L493.1 146L493.2 145.4L493.3 144.5L493.3 145.3L493.4 145.9L493.5 146.1L493.6 146.1L493.7 144.7L493.7 145.6L493.8 144.7L493.9 146L494 145.7L494.1 145.9L494.2 143.8L494.3 144.6L494.4 145.1L494.5 146L494.5 145.5L494.6 145L494.7 145.8L494.8 146.2L494.9 145.5L494.9 144.6L495 145.2L495.1 146L495.2 145.1L495.3 145.3L495.3 144.8L495.4 145.7L495.5 145.4L495.6 146.1L495.7 145.5L495.7 145.7L495.8 145.6L495.9 144.6L496 144.3L496.1 145L496.1 145.3L496.2 145L496.3 146.2L496.4 144.5L496.5 144.9L496.6 144.5L496.7 144.5L496.8 144.6L496.9 144.9L496.9 146L497 144.9L497.1 145.6L497.2 145.2L497.3 146.1L497.3 143.5L497.4 146.1L497.5 143.8L497.6 145.5L497.7 145.6L497.7 146L497.8 146.2L497.9 145L498 144.6L498.1 145L498.1 145.7L498.2 145.2L498.3 144.9L498.4 145L498.5 142.8L498.5 145.4L498.6 145.4L498.7 143.7L498.8 145.4L498.9 146.3L498.9 145.5L499 143.9L499.1 146L499.2 146.2L499.3 144.3L499.3 145.2L499.4 145.6L499.5 145.8L499.6 146.2L499.7 145.2L499.7 144.9L499.8 144.3L499.9 145.9L500 145.8L500.1 145.5L500.1 145.8L500.2 145.7L500.3 145.1L500.4 144.7L500.5 145.4L500.5 144.9L500.6 146.1L500.7 145.3L500.8 145.3L500.9 144.5L500.9 144.1L501 145.7L501.1 146L501.2 144.9L501.3 142.4L501.3 145.1L501.4 145.1L501.5 145.7L501.6 145.9L501.7 144.6L501.7 145.2L501.8 145.2L501.9 145.1L502 144.8L502.1 144.6L502.1 145.4L502.2 145L502.3 145.4L502.4 146.1L502.5 145.7L502.5 145.8L502.6 145.3L502.7 145.1L502.8 144.3L502.9 145.5L502.9 144L503 146.2L503.1 145.4L503.2 145L503.3 143.7L503.3 146.2L503.4 145.8L503.5 145.2L503.6 145.7L503.7 146.3L503.7 145.1L503.8 144.8L503.9 145.6L504 145.5L504.1 145.2L504.1 146L504.2 145.1L504.3 145.6L504.4 143.5L504.5 145.1L504.5 144.4L504.6 146.2L504.7 145.9L504.8 145.4L504.9 145.8L504.9 146.1L505 146.1L505.1 144.5L505.2 144.9L505.3 145.8L505.3 144.6L505.4 145.7L505.5 142.8L505.6 145L505.7 145.2L505.7 146L505.8 145L505.9 145.9L506 145.8L506.1 145.1L506.1 145.3L506.2 146.3L506.3 146L506.4 144.9L506.5 146.1L506.5 145.8L506.6 145.8L506.7 144.9L506.8 144.9L506.9 145.3L506.9 145.9L507 146L507.1 144.5L507.2 145.3L507.3 146L507.3 144.8L507.4 144.9L507.5 144.9L507.6 145.7L507.7 145.4L507.7 144.7L507.8 145.1L507.9 143.6L508 146.1L508.1 145.1L508.1 145.7L508.2 145.2L508.3 146.3L508.4 143.4L508.5 145.7L508.6 145.9L508.7 145.4L508.8 145.4L508.9 142.9L508.9 145.3L509 144.2L509.1 144.2L509.2 144L509.3 146.1L509.3 145.8L509.4 145.5L509.5 145.3L509.6 144.2L509.7 145.4L509.7 144.8L509.8 146.1L509.9 144.1L510 145.5L510.1 146L510.1 146.1L510.2 144.9L510.3 146.1L510.4 145L510.5 146.3L510.5 145.6L510.6 145.8L510.7 145.2L510.8 145.2L510.9 144.7L510.9 145.6L511 145.7L511.1 145.5L511.2 145.8L511.3 145.5L511.3 145.8L511.4 145.9L511.5 145.4L511.6 145.8L511.7 145.9L511.7 144.6L511.8 145.6L511.9 145.9L512 145.5L512.1 145.4L512.1 145.5L512.2 144.9L512.3 146.1L512.4 144.9L512.5 145.5L512.5 145.4L512.6 146.1L512.7 144.9L512.8 145.2L512.9 145.8L512.9 145.3L513 145.7L513.1 145.5L513.2 146.2L513.3 145.9L513.3 145.8L513.4 145.7L513.5 145.9L513.6 146L513.6 144.9L513.7 145.6L513.8 145.2L513.9 145.8L514 146.1L514 145L514.1 144.6L514.2 144.7L514.3 145.9L514.4 144.8L514.4 145.9L514.5 145.4L514.6 144.8L514.7 145.7L514.8 145.8L514.8 146.1L514.9 146L515 146.1L515.1 144L515.2 146L515.2 145.5L515.3 145.3L515.4 145.4L515.5 143.7L515.6 145.4L515.6 145.5L515.7 145.3L515.8 145.1L515.9 146L516 145.7L516 144L516.1 145.7L516.2 145.6L516.3 145.8L516.4 145.1L516.4 144.8L516.5 145.7L516.6 144.2L516.7 144.5L516.8 145.2L516.9 143.5L517 145.4L517.1 144.9L517.2 145L517.2 145.2L517.3 146L517.4 145.1L517.5 145.7L517.6 145.5L517.6 144.9L517.7 144.5L517.8 145.6L517.9 145.8L518 145.3L518 144.7L518.1 145.7L518.2 145.8L518.3 145.8L518.4 146.3L518.4 146L518.5 144.8L518.6 144.9L518.7 145.7L518.8 145.5L518.8 144.5L518.9 145.3L519 144.8L519.1 144.5L519.2 145.9L519.2 144.8L519.3 146L519.4 145.6L519.5 144.8L519.6 145.7L519.6 145.2L519.7 145.7L519.8 144.1L519.9 145.8L520 145.2L520 145L520.1 144.1L520.2 145.6L520.3 144.9L520.4 144.2L520.4 145.8L520.5 145L520.6 145.6L520.7 145.1L520.8 144.8L520.8 145.7L520.9 146L521 146.2L521.1 145.1L521.2 145.7L521.2 145L521.3 145.1L521.4 145.2L521.5 145.2L521.6 145.9L521.6 145.1L521.7 144.8L521.8 146.2L521.9 143L522 144.5L522 146.2L522.1 145.8L522.2 145.5L522.3 145.3L522.4 143.6L522.4 145L522.5 145L522.6 144.3L522.7 144.5L522.8 145.1L522.8 145.9L522.9 145.3L523 145.8L523.1 145.5L523.2 144.2L523.2 145.4L523.3 143.9L523.4 144.9L523.5 144.9L523.6 145.3L523.6 145.8L523.7 145.5L523.8 144.8L523.9 145.4L524 145.2L524 144.6L524.1 144.6L524.2 144.5L524.3 145L524.4 145.9L524.4 145.8L524.5 144.7L524.6 145.8L524.7 146L524.8 146.1L524.8 145.7L524.9 145.2L525 145.6L525.1 145.4L525.2 146.1L525.2 144.7L525.3 144.2L525.4 144.9L525.5 146.1L525.6 145L525.6 145.2L525.7 145.1L525.8 146.3L525.9 145L526 145.4L526 144.9L526.1 145.7L526.2 144.7L526.3 144.3L526.4 144.9L526.4 144.4L526.5 145.4L526.6 145.4L526.7 145L526.8 143.9L526.8 145.3L526.9 145.1L527 145.4L527.1 145.8L527.2 145.4L527.2 144.5L527.3 145.9L527.4 145.5L527.5 144.2L527.6 144.8L527.6 145.1L527.7 145.9L527.8 145.2L527.9 146L528 145.1L528 146L528.1 145L528.2 145.9L528.3 144.4L528.4 146L528.4 145.2L528.5 146.1L528.6 145.5L528.7 145.7L528.8 145.3L528.8 145.8L528.9 145L529 145.9L529.1 145.9L529.2 145.1L529.2 144.7L529.3 145.9L529.4 145.4L529.5 144.6L529.6 145.7L529.6 145L529.7 145.5L529.8 146.1L529.9 145.7L530 145.5L530 145.2L530.1 144.8L530.2 145.1L530.3 144.8L530.4 144.5L530.4 144.9L530.5 145.2L530.6 145.8L530.7 145.5L530.8 146.2L530.8 145.6L530.9 146.1L531 145.3L531.1 145.1L531.2 146L531.2 145.7L531.3 145.5L531.4 143.5L531.5 145.8L531.6 144.1L531.6 146L531.7 145.6L531.8 146L531.9 145.2L532 143.8L532 145.8L532.1 146L532.2 143.5L532.3 145.8L532.4 146.1L532.4 145.9L532.5 144.5L532.6 143.5L532.7 145.4L532.8 143.8L532.8 144.9L532.9 146L533 145.4L533.1 145.1L533.2 145.2L533.2 145.8L533.3 145.7L533.4 144.7L533.5 145.5L533.6 145.9L533.6 145.6L533.7 145.7L533.8 146L533.9 146.3L534 145.9L534 143.3L534.1 145.7L534.2 145.3L534.3 145.7L534.4 145.3L534.4 146.2L534.5 145.9L534.6 146L534.7 145.2L534.8 145.3L534.8 142.8L534.9 146.1L535 145.3L535.1 144.3L535.2 145.2L535.2 146.1L535.3 145.5L535.4 146.2L535.5 145.3L535.6 145.8L535.6 145L535.7 144.8L535.8 145.8L535.9 146.2L536 146L536 145.9L536.1 145.8L536.2 145.1L536.3 144.8L536.4 144.6L536.4 144.9L536.5 144.6L536.6 145.1L536.7 144.7L536.8 145.5L536.8 145.7L536.9 144.6L537 145.4L537.1 145.6L537.2 145.5L537.2 146.2L537.3 145.5L537.4 145.6L537.5 145.1L537.6 145.4L537.6 145.3L537.7 144.8L537.8 145.5L537.9 145.6L538 145.1L538 144.9L538.1 146L538.2 146.1L538.3 144.8L538.4 145L538.4 145.8L538.5 144.9L538.6 145.4L538.7 144.2L538.8 145L538.8 144L538.9 144.7L539 146L539.1 145.3L539.1 145.8L539.2 145.2L539.3 145.8L539.4 144L539.5 144.5L539.5 144.9L539.6 145.3L539.7 145.7L539.8 144.3L539.9 145.5L539.9 145.3L540 145.6L540.1 145.7L540.2 145.7L540.3 145.2L540.3 146.1L540.4 145.8L540.5 145.5L540.6 145.2L540.7 145.3L540.7 145.1L540.8 145.9L540.9 146.1L541 145.4L541.1 145.7L541.1 145.3L541.2 144.7L541.3 145.9L541.4 145.2L541.5 145.6L541.5 145.5L541.6 144.6L541.7 145.7L541.8 145.6L541.9 145L541.9 146.2L542 145.4L542.1 144.8L542.2 144.3L542.3 143.9L542.3 146L542.4 146.1L542.5 145.4L542.6 145.7L542.7 144.5L542.7 145.6L542.8 145.3L542.9 144.9L543 145.8L543.1 145.6L543.1 146.1L543.2 145.2L543.3 146.3L543.4 143.8L543.5 145.9L543.5 145L543.6 145.3L543.7 144.7L543.8 144.8L543.9 145.4L543.9 144.8L544 142.9L544.1 144.8L544.2 146.1L544.3 145L544.3 144.9L544.4 146.1L544.5 145L544.6 145.8L544.7 145.7L544.7 144.4L544.8 145.3L544.9 146.1L545 145.3L545.1 145.9L545.1 144.7L545.2 144.8L545.3 143L545.4 144.8L545.5 144.8L545.5 143.4L545.6 144.8L545.7 145.1L545.8 144.6L545.9 144.2L545.9 145.3L546 144.4L546.1 146.1L546.2 145.8L546.3 145.5L546.3 145.7L546.4 145L546.5 144.5L546.6 144.8L546.7 145.6L546.7 145.2L546.8 146.3L546.9 145.8L547 145.8L547.1 143.5L547.1 145.8L547.2 144.8L547.3 144.9L547.4 144.1L547.5 144L547.5 145.5L547.6 145.6L547.7 144.3L547.8 145L547.9 144.5L547.9 145.1L548 145.5L548.1 145.6L548.2 146L548.3 144.7L548.3 145.8L548.4 145.6L548.5 145.7L548.6 144.6L548.7 144.9L548.7 145.9L548.8 144.4L548.9 145.7L549 143.8L549.1 145.4L549.1 145.7L549.2 145.8L549.3 144L549.4 145.3L549.5 143.6L549.5 145.8L549.6 145.9L549.7 145.6L549.8 145.2L549.9 144.8L549.9 144.3L550 145.2L550.1 145.8L550.2 144.3L550.3 145.5L550.3 145.3L550.4 145.9L550.5 145.6L550.6 145.9L550.7 145.7L550.7 146L550.8 146L550.9 144.3L551 145.4L551.1 145.3L551.2 145.6L551.3 145.3L551.4 144.7L551.5 145.2L551.5 145L551.6 145.1L551.7 146.4L551.8 145.9L551.9 143.4L551.9 144.8L552 144L552.1 144.7L552.2 145.7L552.3 145.9L552.3 145.8L552.4 144.1L552.5 144.6L552.6 145.3L552.7 145.2L552.7 144.9L552.8 146.3L552.9 144.5L553 144.8L553.1 145.7L553.1 143.9L553.2 146.1L553.3 145.5L553.4 145.9L553.5 146.1L553.5 143.3L553.6 146L553.7 145.4L553.8 145.7L553.9 146.1L553.9 145.7L554 146.2L554.1 145L554.2 145.9L554.3 145.3L554.3 146.2L554.4 145L554.5 145.2L554.6 144.3L554.7 145.5L554.7 145.3L554.8 145.8L554.9 142.8L555 144.4L555.1 146.3L555.1 145.6L555.2 145.7L555.3 144.5L555.4 145.6L555.5 145.6L555.5 145.7L555.6 145.7L555.7 146L555.8 145.6L555.9 145L555.9 145.5L556 146.2L556.1 145.4L556.2 144.8L556.3 145.6L556.3 145.1L556.4 144.5L556.5 146.1L556.6 145.8L556.7 145.1L556.7 144.9L556.8 145.7L556.9 145L557 145.4L557.1 145.8L557.1 145.2L557.2 145.3L557.3 145.9L557.4 144.9L557.5 144.5L557.5 146.1L557.6 145.1L557.7 145.1L557.8 144.2L557.9 145.2L557.9 143.4L558 144.8L558.1 146L558.2 144L558.3 144.1L558.3 145.5L558.4 146L558.5 146.3L558.6 144.8L558.7 145.4L558.7 145.3L558.8 145.5L558.9 145.9L559 145.3L559.1 144.8L559.1 144.5L559.2 145.6L559.3 145.3L559.4 146.2L559.5 145.1L559.6 145.8L559.7 145.8L559.8 146.1L559.9 145.1L559.9 145.8L560 145.9L560.1 143.2L560.2 144.4L560.3 144.1L560.3 145.9L560.4 146L560.5 145.2L560.6 144.8L560.7 145.9L560.7 146L560.8 145.6L560.9 145.1L561 145.9L561.1 145.1L561.1 145.3L561.2 146.2L561.3 144.5L561.4 146L561.5 146.1L561.5 143L561.6 144.1L561.7 146L561.8 145.3L561.9 145.4L561.9 145.6L562 144.9L562.1 145.9L562.2 145L562.3 145.9L562.4 143.5L562.5 145.5L562.6 144.7L562.7 145.6L562.7 145.3L562.8 144.9L562.9 145.4L563 145.8L563.1 144.7L563.1 145.5L563.2 145.7L563.3 145.9L563.4 146.1L563.5 144.2L563.5 146.4L563.6 145.6L563.7 145.9L563.8 146L563.9 146L563.9 144.3L564 143.8L564.1 145.1L564.2 144.2L564.3 145.9L564.3 146.3L564.4 143.3L564.5 144.7L564.6 145.9L564.7 145.1L564.7 145.2L564.8 145.4L564.9 146.3L565 144.2L565 145.9L565.1 146.3L565.2 145.6L565.3 145.7L565.4 145.9L565.4 145.4L565.5 145.7L565.6 144.8L565.7 146.2L565.8 145L565.8 145.6L565.9 146L566 145.1L566.1 144.8L566.2 144.1L566.2 145.3L566.3 146.2L566.4 144.1L566.5 145.1L566.6 145.2L566.6 145.6L566.7 144.3L566.8 145.7L566.9 145.9L567 145.8L567.1 146.1L567.2 145.1L567.3 145L567.4 145.8L567.5 146.2L567.6 145L567.7 143.1L567.8 145.5L567.8 143.3L567.9 144.9L568 145.6L568.1 144.3L568.2 143.9L568.2 146.2L568.3 146.2L568.4 146.2L568.5 145.5L568.6 144.5L568.6 146.1L568.7 145.4L568.8 143.5L568.9 144.9L569 145.8L569 143.7L569.1 146L569.2 145.6L569.3 145.7L569.4 145.4L569.4 144.8L569.5 146.2L569.6 145.1L569.7 144.6L569.8 145.5L569.8 146.1L569.9 146L570 144.3L570.1 145.4L570.2 144.5L570.2 145.7L570.3 145.5L570.4 145.6L570.5 145L570.6 145.5L570.6 145.6L570.7 144.5L570.8 145.6L570.9 144.7L571 144.4L571 145.1L571.1 144.7L571.2 145.4L571.3 143.7L571.4 143.7L571.4 145.4L571.5 145.8L571.6 145.6L571.7 145.2L571.8 145.5L571.8 144.8L571.9 144.2L572 143.6L572.1 145.6L572.2 145.9L572.2 145.5L572.3 145.5L572.4 145.4L572.5 145.5L572.6 143.8L572.6 144.8L572.7 144.9L572.8 144.7L572.9 145L573 145.1L573.1 146.1L573.2 146.2L573.3 145.5L573.4 145.9L573.4 146.1L573.5 144.2L573.6 144.7L573.7 145.4L573.8 146.3L573.8 145.9L573.9 144.9L574 145.2L574.1 144.7L574.2 144.6L574.2 144L574.3 144.1L574.4 145L574.5 144.5L574.6 145.2L574.6 144.9L574.7 145.1L574.8 144.9L574.9 144.4L575 145.5L575 144.2L575.1 144.9L575.2 145.4L575.3 145.6L575.4 145.9L575.4 145.1L575.5 145.1L575.6 143.9L575.7 145.8L575.8 146.1L575.8 145.7L575.9 146L576 146.1L576.1 145.8L576.2 145.3L576.2 145L576.3 145L576.4 145.5L576.5 144.3L576.6 145.4L576.6 144.4L576.7 145.7L576.8 145.7L576.9 145L577 146.2L577 144.5L577.1 145.1L577.2 144.5L577.3 145.8L577.4 145.3L577.4 144.8L577.5 144.6L577.6 145.5L577.7 146L577.8 145.2L577.8 144.4L577.9 145.6L578 146L578.1 146L578.2 145.4L578.2 144.5L578.3 145.7L578.4 145.8L578.5 145.6L578.6 145.2L578.6 146.2L578.7 143.9L578.8 144.4L578.9 144.7L579 146L579 145.8L579.1 145.9L579.2 144.3L579.3 143.9L579.4 144.8L579.4 145.9L579.5 145.9L579.6 144.5L579.7 145.8L579.8 145.5L579.8 146.4L579.9 145.1L580 145.1L580.1 145.9L580.2 146.2L580.2 145.4L580.3 144.8L580.4 144.3L580.5 145.7L580.6 144.8L580.6 146L580.7 142.9L580.8 145.1L580.9 145.6L581 145.4L581 145.2L581.1 144.9L581.2 145.7L581.3 144.7L581.4 145.4L581.4 145.7L581.5 146.1L581.6 145.7L581.7 146.2L581.8 144.5L581.8 145.9L581.9 145.3L582 145.5L582.1 145.2L582.2 145.3L582.2 145.4L582.3 145.2L582.4 144.7L582.5 145.8L582.6 146.1L582.6 145L582.7 145.7L582.8 144.2L582.9 145.7L583 145.2L583 143.7L583.1 146L583.2 145.3L583.3 143.8L583.4 145.9L583.4 144.9L583.5 144.9L583.6 145.8L583.7 144.8L583.8 145.6L583.8 145.4L583.9 145.2L584 145.5L584.1 144.6L584.2 144L584.2 145L584.3 145.8L584.4 144.9L584.5 144.7L584.6 145.7L584.6 145.5L584.7 146.1L584.8 146.4L584.9 145.7L585 144.7L585 144.6L585.1 144.7L585.2 145.9L585.3 145.9L585.4 145.3L585.4 144.9L585.5 145.8L585.6 146.2L585.7 145.2L585.8 144.5L585.8 145.3L585.9 145.9L586 146.2L586.1 146.2L586.2 143.6L586.2 144.6L586.3 145.8L586.4 145.6L586.5 145.6L586.6 146.4L586.6 145.6L586.7 144.7L586.8 145.2L586.9 145L587 145.3L587 146L587.1 144.6L587.2 145.9L587.3 144.9L587.4 145.3L587.4 145.7L587.5 146.2L587.6 145.8L587.7 145.1L587.8 145.5L587.8 146L587.9 144.3L588 145.7L588.1 145.9L588.2 144.7L588.2 145.6L588.3 146.3L588.4 145L588.5 146.2L588.6 146.2L588.6 145.9L588.7 144.7L588.8 145.2L588.9 145.7L589 145.5L589 145.2L589.1 145.8L589.2 144.9L589.3 145.7L589.4 145.4L589.4 145.6L589.5 144.8L589.6 144.4L589.7 146L589.8 145L589.8 146.2L589.9 145.3L590 146L590.1 145.6L590.2 145.4L590.2 145.7L590.3 145.2L590.4 144.4L590.5 145.2L590.5 145.3L590.6 143.3L590.7 145.4L590.8 145.7L590.9 146.1L590.9 144.2L591 144.8L591.1 144.8L591.2 145.7L591.3 145.1L591.3 145.9L591.4 145L591.5 144.9L591.6 146L591.7 145.1L591.7 145.9L591.8 145.9L591.9 145.2L592 144.4L592.1 144.2L592.1 144.4L592.2 145L592.3 145.5L592.4 146.1L592.5 145.3L592.5 145.4L592.6 145L592.7 146.2L592.8 143.7L592.9 144.2L592.9 145.6L593 146L593.1 145.6L593.2 145.2L593.3 145.8L593.3 144.8L593.4 145.5L593.5 145.2L593.6 144.8L593.7 145.3L593.7 145.4L593.8 144.9L593.9 144.4L594 145.8L594.1 145.4L594.1 145.2L594.2 145.4L594.3 145L594.4 144.2L594.5 145.8L594.5 145.3L594.6 145.9L594.7 145.7L594.8 145.7L594.9 145.8L594.9 144.5L595 144L595.1 145.5L595.2 145L595.3 144.4L595.3 145.8L595.4 146.1L595.5 146.1L595.6 145.9L595.7 146.2L595.7 146.1L595.8 146L595.9 145.4L596 144.1L596.1 144.9L596.1 145.3L596.2 145.2L596.3 144.6L596.4 145.2L596.5 144.9L596.5 145.6L596.6 145.3L596.7 145L596.8 146.2L596.9 145.3L596.9 145.9L597 144.2L597.1 145.7L597.2 146L597.3 145.7L597.3 145.6L597.4 146L597.5 145.6L597.6 146L597.7 146.2L597.7 144.1L597.8 144.7L597.9 145.4L598 146L598.1 146L598.2 144.9L598.3 143.7L598.4 145.8L598.5 145.8L598.5 144.6L598.6 145.3L598.7 145.6L598.8 145.3L598.9 146.1L598.9 144.2L599 146.1L599.1 144.3L599.2 145.6L599.3 145.5L599.3 144.6L599.4 146.1L599.5 145.4L599.6 145.6L599.7 145.5L599.7 146L599.8 142.9L599.9 145.9L600 144.9L600.1 145.5L600.1 145.9L600.2 144.3L600.3 144.7L600.4 145.1L600.5 144.5L600.5 144.6L600.6 144.8L600.7 144.7L600.8 145.4L600.9 145.7L600.9 144.7L601 145.2L601.1 145.1L601.2 145.8L601.3 146L601.3 145.3L601.4 145.7L601.5 144.6L601.6 146.1L601.7 145.6L601.7 145.5L601.8 145.7L601.9 144.6L602 146L602.1 145L602.1 145.6L602.2 145.6L602.3 144.6L602.4 145.8L602.5 145.8L602.5 144.6L602.6 144.5L602.7 145L602.8 145.4L602.9 145.6L602.9 145.7L603 146.3L603.1 144.7L603.2 145.3L603.3 145.8L603.3 145L603.4 146.2L603.5 146.1L603.6 145.3L603.7 145.3L603.7 145.8L603.8 144.4L603.9 145.3L604 146L604.1 144.1L604.1 146L604.2 145.5L604.3 145.8L604.4 145.3L604.5 144.7L604.5 144.5L604.6 146.2L604.7 144.2L604.8 144.7L604.9 145.3L604.9 143.9L605 145.5L605.1 146.2L605.2 143.4L605.3 145.8L605.3 143.7L605.4 146.3L605.5 145L605.6 145.9L605.7 146.1L605.7 144.4L605.8 145L605.9 145.2L606 146.2L606.1 144.8L606.1 146.3L606.2 145.8L606.3 146.1L606.4 145.5L606.5 145.9L606.5 145.7L606.6 146.2L606.7 145.2L606.8 145.4L606.9 145.6L606.9 145.7L607 146L607.1 145L607.2 145.7L607.3 145.9L607.3 145.2L607.4 143L607.5 146.4L607.6 143.9L607.7 145.6L607.7 144.7L607.8 145.8L607.9 145.3L608 145.7L608.1 145.2L608.1 144.9L608.2 144.7L608.3 145.9L608.4 146L608.5 144.9L608.5 144.2L608.6 146L608.7 146L608.8 146.3L608.9 145.5L608.9 145.9L609 145.3L609.1 144.1L609.2 144.5L609.3 146.1L609.3 145.2L609.4 146.2L609.5 145.6L609.6 144.2L609.7 145.8L609.7 145.4L609.8 146L609.9 146L610 145.7L610.1 145.7L610.1 145.2L610.2 146L610.3 144.4L610.4 145.7L610.5 146.2L610.5 146L610.6 145.5L610.7 145.6L610.8 144.8L610.9 146.1L610.9 145.2L611 145L611.1 145.8L611.2 145.9L611.3 145L611.3 143.2L611.4 145.3L611.5 145.7L611.6 144.8L611.7 144.5L611.7 145.5L611.8 144.8L611.9 144.2L612 144.1L612.1 145.9L612.1 146L612.2 145.8L612.3 145.3L612.4 144.8L612.5 144.2L612.5 145L612.6 145.6L612.7 145.3L612.8 143.6L612.9 144.9L612.9 145.5L613 145.9L613.1 145.3L613.2 144.9L613.3 145.3L613.3 144.5L613.4 145.6L613.5 146L613.6 145.5L613.7 146.1L613.7 145.6L613.8 145.1L613.9 144.8L614 145.3L614.1 145.8L614.1 143.7L614.2 145.1L614.3 144.9L614.4 144.3L614.5 144.5L614.5 145.4L614.6 146L614.7 145.4L614.8 144.7L614.9 144.5L614.9 145.6L615 145L615.1 145.3L615.2 145.5L615.3 146.3L615.3 144.1L615.4 145.6L615.5 145.9L615.6 145.9L615.7 145.9L615.7 145.7L615.8 146.2L615.9 144.6L616 143.9L616 145.7L616.1 146L616.2 143.4L616.3 144.2L616.4 144.5L616.4 144.7L616.5 145.5L616.6 145.9L616.7 145.6L616.8 146L616.8 145.3L616.9 146L617 145.4L617.1 146.1L617.2 144L617.2 145.8L617.3 146.4L617.4 145.5L617.5 145L617.6 144.5L617.6 144.6L617.7 145.8L617.8 144.6L617.9 146.3L618 145.1L618 146.2L618.1 145.3L618.2 145.9L618.3 145.5L618.4 145.3L618.4 144.8L618.5 145.7L618.6 145.4L618.7 145.1L618.8 145.4L618.8 145.2L618.9 145L619 145.4L619.1 145L619.2 144.7L619.2 143.3L619.3 146.1L619.4 145.2L619.5 144.5L619.6 146.2L619.6 145.6L619.7 144.8L619.8 144.2L619.9 146L620 145L620 144.3L620.1 145.5L620.2 145.1L620.3 144.8L620.4 145.9L620.4 146L620.5 145.5L620.6 144.9L620.7 145.2L620.8 145.5L620.8 144.7L620.9 144.9L621 144.8L621.1 145.3L621.2 144.4L621.2 145.7L621.3 145.2L621.4 143.7L621.5 145.4L621.6 145.4L621.6 145.7L621.7 143.7L621.8 145.2L621.9 144.1L622 144.7L622 145.1L622.1 144.8L622.2 145.5L622.3 146.2L622.4 145.7L622.4 146.1L622.5 144.8L622.6 144.1L622.7 145L622.8 145.8L622.8 145.1L622.9 145.1L623 145.6L623.1 144.8L623.2 145.9L623.2 146L623.3 144.5L623.4 145.7L623.5 145.5L623.6 143.8L623.6 145.2L623.7 145.5L623.8 143.5L623.9 144.9L624 145.3L624 146.1L624.1 145.4L624.2 145.4L624.3 146.3L624.4 143.5L624.4 145.8L624.5 144.8L624.6 144.9L624.7 146.1L624.8 145.8L624.8 145.9L624.9 145.3L625 145.7L625.1 145.6L625.2 145.9L625.2 145.3L625.3 144.3L625.4 145.1L625.5 144.8L625.6 146L625.6 145.4L625.7 146L625.8 144.9L625.9 145.1L626 145.1L626 144.8L626.1 145.7L626.2 145.8L626.3 145.4L626.4 145L626.4 145.1L626.5 144.8L626.6 145.1L626.7 145.4L626.8 146L626.8 145.4L626.9 145.8L627 145.9L627.1 144.6L627.2 145.4L627.2 144.8L627.3 145.3L627.4 145.7L627.5 145.8L627.6 145.2L627.6 144.9L627.7 144.9L627.8 145.8L627.9 144.9L628 145.3L628 145.2L628.1 145.6L628.2 145.2L628.3 145.9L628.4 145.5L628.4 144.9L628.5 144.7L628.6 146" stroke="#0072bd" stroke-width="0.7" fill="none" stroke-linejoin="round"/>
<path d="M372.8 146.4v-2.5M372.8 58.9v2.5M436.8 146.4v-2.5M436.8 58.9v2.5M500.7 146.4v-2.5M500.7 58.9v2.5M564.7 146.4v-2.5M564.7 58.9v2.5M628.6 146.4v-2.5M628.6 58.9v2.5M372.8 146.4h2.5M628.6 146.4h-2.5M372.8 117.2h2.5M628.6 117.2h-2.5M372.8 88.1h2.5M628.6 88.1h-2.5M372.8 58.9h2.5M628.6 58.9h-2.5" stroke="#777" stroke-width="0.7" fill="none"/>
<text x="370.0" y="161.8" font-size="13" textLength="5.7" lengthAdjust="spacingAndGlyphs">0</text>
<text x="433.9" y="161.8" font-size="13" textLength="5.7" lengthAdjust="spacingAndGlyphs">2</text>
<text x="497.9" y="161.8" font-size="13" textLength="5.7" lengthAdjust="spacingAndGlyphs">4</text>
<text x="561.8" y="161.8" font-size="13" textLength="5.7" lengthAdjust="spacingAndGlyphs">6</text>
<text x="625.8" y="161.8" font-size="13" textLength="5.7" lengthAdjust="spacingAndGlyphs">8</text>
<text x="362.6" y="150.7" font-size="13" textLength="5.7" lengthAdjust="spacingAndGlyphs">0</text>
<text x="362.6" y="121.5" font-size="13" textLength="5.7" lengthAdjust="spacingAndGlyphs">2</text>
<text x="362.6" y="92.4" font-size="13" textLength="5.7" lengthAdjust="spacingAndGlyphs">4</text>
<text x="362.6" y="63.2" font-size="13" textLength="5.7" lengthAdjust="spacingAndGlyphs">6</text>
<text x="432.6" y="54.9" font-size="13.8" textLength="136.8" lengthAdjust="spacingAndGlyphs">Short-Time Energy (STE)</text>
<text x="478.7" y="176.4" font-size="13.8" textLength="44.6" lengthAdjust="spacingAndGlyphs">Time (s)</text>
<text x="292.4" y="102.7" font-size="13.6" textLength="131.8" lengthAdjust="spacingAndGlyphs" transform="rotate(-90 358.3 102.7)">Short-Time Energy (a.u.)</text>
<path d="M436.8 197.4V285.7M500.7 197.4V285.7M564.7 197.4V285.7M372.8 241.4H628.6" stroke="#f2f2f2" stroke-width="0.8" fill="none"/>
<path d="M372.8 197.4V285.7M628.6 197.4V285.7" fill="none" stroke="#d4d4d4" stroke-width="0.8"/>
<path d="M372.8 197.4H628.6M372.8 285.7H628.6" fill="none" stroke="#adadad" stroke-width="0.9"/>
<path d="M372.8 282.7L372.9 281.4L373 283.3L373 281.9L373.1 284.8L373.2 271.5L373.3 285.7L373.4 273.9L373.4 283.3L373.5 284.4L373.6 283.4L373.7 284.4L373.8 281.9L373.8 281.2L373.9 277.8L374 284.8L374.1 272.5L374.2 282.6L374.2 284.2L374.3 282L374.4 285.4L374.5 285.4L374.6 280.6L374.6 282.5L374.7 276.5L374.8 283.7L374.9 283.5L375 280.7L375 283.5L375.1 285.6L375.2 284.5L375.3 281.4L375.4 283L375.4 279.8L375.5 285.7L375.6 281.9L375.7 284.6L375.8 284.2L375.8 272.8L375.9 279.8L376 269.7L376.1 278.3L376.2 276.3L376.2 285.1L376.3 284.4L376.4 284.7L376.5 280.9L376.6 280.6L376.6 285.2L376.7 284.1L376.8 281.2L376.9 285.4L377 285.3L377 282L377.1 277.8L377.2 274.4L377.3 282.7L377.4 280.2L377.4 282.5L377.5 281.8L377.6 285.1L377.7 275.2L377.8 282L377.9 285.6L378 281.1L378.1 281.2L378.2 281.2L378.2 283.3L378.3 280L378.4 279.1L378.5 283L378.6 284.2L378.6 278.6L378.7 282.9L378.8 282.5L378.9 285.2L379 284.7L379 277.1L379.1 282.6L379.2 285.6L379.3 280.1L379.4 283.6L379.4 273.3L379.5 282.2L379.6 281.6L379.7 283.9L379.8 285.6L379.8 263.1L379.9 283.7L380 277L380.1 285.1L380.2 274.2L380.2 285.6L380.3 282.1L380.4 285.3L380.5 284.9L380.6 279L380.6 274.6L380.7 282.8L380.8 279.6L380.9 281.1L381 283.7L381 276.3L381.1 278L381.2 284.3L381.3 282.7L381.4 280.9L381.5 285.4L381.6 263.5L381.7 285.7L381.8 279.8L381.8 280.3L381.9 284.5L382 282.8L382.1 284.1L382.2 285.6L382.2 282.3L382.3 280.7L382.4 280.9L382.5 266.9L382.6 285L382.6 284.9L382.7 283.2L382.8 284.8L382.9 283.4L383 274L383 280.1L383.1 283.2L383.2 282.6L383.3 261.1L383.4 283.4L383.4 280.9L383.5 277.8L383.6 280.5L383.7 280.6L383.8 278.8L383.8 284.7L383.9 283.2L384 279.9L384.1 282.9L384.2 276.4L384.2 285.2L384.3 283.4L384.4 284.2L384.5 281.2L384.6 283.7L384.6 270.5L384.7 281.9L384.8 274.4L384.9 278.6L385 280.9L385 280.6L385.1 283.2L385.2 284.3L385.3 284.6L385.4 285.2L385.4 276L385.5 283L385.6 284.4L385.7 280.1L385.7 283.4L385.8 281.8L385.9 275.3L386 284.7L386.1 282L386.1 285.3L386.2 284L386.3 283L386.4 284.5L386.5 285.7L386.5 284.3L386.6 278.3L386.7 280.3L386.8 283.4L386.9 284.8L386.9 276.4L387 280L387.1 269.2L387.2 283.7L387.3 276.6L387.3 285.5L387.4 285.5L387.5 285.6L387.6 285.5L387.7 283.8L387.7 285.4L387.8 279.2L387.9 285.6L388 283.6L388.1 284.8L388.1 282.2L388.2 285.6L388.3 283.4L388.4 273.6L388.5 281L388.5 284.1L388.6 279L388.7 282.7L388.8 285L388.9 278.4L388.9 285.4L389 278.9L389.1 277.3L389.2 281.5L389.3 284.2L389.3 277.3L389.4 285.2L389.5 283.8L389.6 279.9L389.7 281.6L389.7 282.2L389.8 264.4L389.9 282.4L390 284.7L390.1 283L390.1 279.4L390.2 285.1L390.3 279.4L390.4 273.9L390.5 282.2L390.5 285.3L390.6 284.5L390.7 283.9L390.8 282.6L390.9 283.5L390.9 277.7L391 281.7L391.1 284.6L391.2 285.6L391.3 284.6L391.4 279.4L391.5 284.1L391.6 275.4L391.7 281.8L391.7 280.8L391.8 278.9L391.9 285.6L392 281.8L392.1 285.1L392.1 281.9L392.2 278.9L392.3 283.4L392.4 284.3L392.5 279.9L392.5 283.3L392.6 284.7L392.7 283.8L392.8 283.1L392.9 285.3L392.9 281.8L393 273.7L393.1 283.7L393.2 285.6L393.3 279.7L393.3 284.7L393.4 285.3L393.5 285.2L393.6 285.6L393.7 283.7L393.7 282.3L393.8 284.5L393.9 279.7L394 282.3L394.1 284.1L394.1 282.7L394.2 279.9L394.3 284.3L394.4 283.2L394.5 284.9L394.5 284.3L394.6 267.2L394.7 282L394.8 282.9L394.9 274.9L394.9 285.2L395 277.8L395.1 276.2L395.2 284.4L395.3 279.7L395.3 277.5L395.4 276.6L395.5 281.2L395.6 285.4L395.7 285.2L395.7 271.4L395.8 278.6L395.9 267.9L396 282L396.1 278.8L396.1 285.5L396.2 280.6L396.3 284.1L396.4 282.8L396.5 285.2L396.5 275.7L396.6 282.4L396.7 283.1L396.8 283.1L396.9 285.6L396.9 273.8L397 283.2L397.1 284.1L397.2 284.2L397.3 278.6L397.3 283.4L397.4 284.6L397.5 270.3L397.6 283.1L397.7 284.8L397.7 279.9L397.8 279.4L397.9 283.6L398 284.5L398.1 264.5L398.1 284.3L398.2 283.8L398.3 272.7L398.4 283.9L398.5 284.3L398.5 276.3L398.6 282.6L398.7 281.5L398.8 283.7L398.9 278.6L398.9 285.2L399 277.9L399.1 284.7L399.2 284.2L399.3 285.6L399.3 277.6L399.4 278.3L399.5 276.2L399.6 284.3L399.7 284.9L399.7 278.4L399.8 283.6L399.9 278.8L400 283.7L400.1 283.5L400.1 285.6L400.2 279.2L400.3 284.1L400.4 285.3L400.5 280.7L400.5 282.9L400.6 284L400.7 277.9L400.8 284L400.9 281.8L400.9 284.5L401 280.1L401.1 274.4L401.2 279.5L401.3 283.5L401.3 275.5L401.4 281.3L401.5 284.9L401.6 284.7L401.7 285L401.7 278.8L401.8 258.3L401.9 278.5L402 285.5L402.1 282.2L402.1 275.8L402.2 283L402.3 285.6L402.4 284.3L402.5 284.3L402.5 284.9L402.6 284.4L402.7 276.8L402.8 280.5L402.9 283L402.9 277.1L403 276.3L403.1 283.3L403.2 281.8L403.3 284.2L403.3 284.8L403.4 282.9L403.5 285.4L403.6 282.8L403.7 285.2L403.7 283.2L403.8 281.9L403.9 283.5L404 278.2L404.1 283.3L404.1 283.2L404.2 285L404.3 282L404.4 275.7L404.5 276.6L404.5 285.2L404.6 278.3L404.7 280.1L404.8 277.6L404.9 275.7L404.9 281.1L405 282.1L405.1 277.6L405.2 279.9L405.3 284L405.3 280.3L405.4 284L405.5 280.6L405.6 283L405.7 284.2L405.7 283.9L405.8 285.7L405.9 277.5L406 283.1L406.1 284L406.1 283L406.2 280.1L406.3 282.5L406.4 283.9L406.5 281L406.5 281.7L406.6 275.6L406.7 285.3L406.8 281.6L406.9 282.1L406.9 280.4L407 285.5L407.1 284.2L407.2 285L407.3 283.6L407.3 276.9L407.4 284.8L407.5 280.7L407.6 276.1L407.7 281.6L407.7 282L407.8 274.8L407.9 278.5L408 282.8L408.1 277.7L408.1 282.8L408.2 283.5L408.3 281.1L408.4 278.8L408.5 283.4L408.5 280.4L408.6 282.1L408.7 282.8L408.8 277.5L408.9 284.8L408.9 285.2L409 280.6L409.1 282.2L409.2 265.6L409.3 281.6L409.3 276.4L409.4 282.9L409.5 285.5L409.6 281.2L409.7 284.6L409.7 283.5L409.8 271.9L409.9 283.2L410 283.1L410.1 283.3L410.1 275.7L410.2 285.1L410.3 283.3L410.4 284.6L410.5 283.9L410.5 280.9L410.6 283.3L410.7 277.1L410.8 280.5L410.9 283.8L410.9 283.3L411 283.7L411.1 282.1L411.2 278.9L411.2 269.9L411.3 284.9L411.4 279.6L411.5 284.5L411.6 277.5L411.6 280.8L411.7 283.6L411.8 282L411.9 277.4L412 284.1L412 277.3L412.1 281.9L412.2 274.8L412.3 278.8L412.4 281.6L412.4 283.1L412.5 278.5L412.6 277.8L412.7 285.1L412.8 278.8L412.8 283.8L412.9 282.2L413 285.5L413.1 271.5L413.2 283.1L413.2 281.3L413.3 276.4L413.4 282.1L413.5 284.1L413.6 284.2L413.6 277.7L413.7 284L413.8 284.7L413.9 277.3L414 285L414 279.6L414.1 284.2L414.2 285.5L414.3 276.7L414.4 274L414.4 278.6L414.5 283.4L414.6 285.3L414.7 284.4L414.8 283.4L414.8 278L414.9 261.8L415 283.9L415.1 284.1L415.2 284.4L415.2 280.7L415.3 283.5L415.4 284.6L415.5 284L415.6 278.1L415.6 284.2L415.7 281.8L415.8 285.3L415.9 285L416 284.8L416 284.7L416.1 284.8L416.2 279.9L416.3 285.5L416.4 285.2L416.4 283.8L416.5 281L416.6 285.7L416.7 282.5L416.8 283.6L416.8 284.2L416.9 278.1L417 284.9L417.1 283.6L417.2 283.7L417.2 280.9L417.3 279.9L417.4 283.7L417.5 276.3L417.6 280L417.6 284.4L417.7 285.7L417.8 278.1L417.9 279.4L418 281.5L418 285.3L418.1 281.2L418.2 283.6L418.3 285L418.4 281.5L418.4 285.6L418.5 273.1L418.6 281.7L418.7 283.3L418.8 284L418.8 284.2L418.9 279L419 280.6L419.1 283.9L419.2 280.9L419.2 285.5L419.3 283.3L419.4 283.6L419.5 282.5L419.6 284.1L419.6 285.5L419.7 284.9L419.8 284.8L419.9 281.9L420 284.8L420 285L420.1 281.2L420.2 278.4L420.3 280.1L420.4 284.8L420.4 285.7L420.5 282.3L420.6 280.7L420.7 284.7L420.8 280.8L420.8 271.8L420.9 283.3L421 282.8L421.1 281.1L421.2 281.8L421.2 281.7L421.3 284.5L421.4 284.5L421.5 284.9L421.6 284.3L421.6 285.6L421.7 281.3L421.8 283.8L421.9 284.6L422 282.1L422 283.9L422.1 285.2L422.2 282.8L422.3 274.7L422.4 285L422.4 278.4L422.5 283.1L422.6 283.7L422.7 282.4L422.8 276.3L422.8 279.3L422.9 284.3L423 272.1L423.1 277.7L423.2 285.5L423.2 274.1L423.3 282.4L423.4 284.3L423.5 273.6L423.6 282.2L423.6 278.2L423.7 282.8L423.8 279.7L423.9 281.9L424 285.4L424 284.5L424.1 284.7L424.2 283.1L424.3 284.2L424.4 284.4L424.4 277.8L424.5 284.2L424.6 274.1L424.7 273.3L424.8 282.3L424.8 283.8L424.9 283.4L425 284.5L425.1 284.1L425.2 272.6L425.2 283.6L425.3 280.8L425.4 284.6L425.5 282.9L425.6 278.2L425.6 281.3L425.7 285.7L425.8 283.4L425.9 283.9L426 281L426 284.3L426.1 282.6L426.2 276.1L426.3 283L426.4 284L426.4 275.6L426.5 283.3L426.6 284.7L426.7 279.3L426.8 284.6L426.8 285.1L426.9 282.6L427 281.8L427.1 282.2L427.2 281.4L427.2 282.4L427.3 281L427.4 271.8L427.5 282.3L427.6 283.5L427.6 282.7L427.7 285.5L427.8 283.5L427.9 281.1L428 282.9L428 280.3L428.1 281.7L428.2 283.3L428.3 283L428.4 284.1L428.4 281.9L428.5 283.9L428.6 285.2L428.7 278.8L428.8 277.1L428.8 276.5L428.9 285.5L429 278.5L429.1 281.4L429.2 285L429.2 284.1L429.3 283.9L429.4 285.4L429.5 283.2L429.6 284L429.7 281.8L429.8 285L429.9 284.7L430 284.4L430 283.9L430.1 277.5L430.2 281.9L430.3 285L430.4 281.3L430.4 280.6L430.5 258.3L430.6 285.3L430.7 280.4L430.8 282.3L430.8 268.7L430.9 285.7L431 276.4L431.1 284.5L431.2 280.7L431.2 282.9L431.3 282.5L431.4 284.8L431.5 285.3L431.6 284.7L431.6 285.5L431.7 280.3L431.8 284.5L431.9 281.7L432 282.6L432 284.5L432.1 284.2L432.2 285.3L432.3 281L432.4 283.4L432.4 284.9L432.5 284.5L432.6 284L432.7 283.1L432.8 283.3L432.8 275.4L432.9 284.9L433 281.8L433.1 282.9L433.2 284.2L433.2 280.5L433.3 278.7L433.4 275.5L433.5 284.3L433.6 276.9L433.6 283.8L433.7 285.4L433.8 277.6L433.9 279.1L434 284.6L434 282.4L434.1 285.5L434.2 283.2L434.3 280.3L434.4 270.2L434.4 285.5L434.5 278.3L434.6 280.9L434.7 285.4L434.8 281.3L434.8 283.2L434.9 284L435 277.3L435.1 281.2L435.2 279.1L435.2 259.4L435.3 275.9L435.4 275.8L435.5 272.9L435.6 277.7L435.6 284.8L435.7 282.6L435.8 282.8L435.9 282.6L436 279.3L436 281.8L436.1 282.9L436.2 278.4L436.3 283.6L436.4 282.5L436.4 282.3L436.5 282L436.6 285.5L436.7 284.7L436.8 285.4L436.8 276.5L436.9 282.7L437 280.7L437.1 282.3L437.1 283.1L437.2 283.3L437.3 283.2L437.4 281L437.5 279.1L437.5 284.5L437.6 284L437.7 285L437.8 284.4L437.9 285.3L437.9 275L438 270.6L438.1 283.8L438.2 281L438.3 285.5L438.3 282.2L438.4 275.9L438.5 284.9L438.6 285.3L438.7 282.4L438.7 279.9L438.8 285.1L438.9 283.6L439 285.3L439.1 267.7L439.1 285.2L439.2 284.2L439.3 285L439.4 276.5L439.5 282.8L439.5 283.4L439.6 279.5L439.7 280.4L439.8 285.2L439.9 282.7L439.9 279.2L440 283.8L440.1 283.2L440.2 285.5L440.3 285.7L440.3 285.5L440.4 284.8L440.5 285.5L440.6 281.4L440.7 280.1L440.7 285.1L440.8 285.6L440.9 271.9L441 278.6L441.1 285.4L441.1 281.7L441.2 285.5L441.3 283.6L441.4 275.3L441.5 282.3L441.5 284.1L441.6 285.6L441.7 284.9L441.8 285.6L441.9 285.5L441.9 284.6L442 285.5L442.1 285L442.2 277.7L442.3 282.3L442.3 281.6L442.4 284.9L442.5 284L442.6 280.9L442.7 283.5L442.7 277.2L442.8 285.1L442.9 284.9L443 283.3L443.1 276.4L443.1 282.3L443.2 285.7L443.3 280.6L443.4 285.3L443.5 285L443.5 276.6L443.6 282.8L443.7 278.5L443.8 285.3L443.9 283.7L443.9 285.6L444 283.1L444.1 281.2L444.2 284.4L444.3 273.5L444.3 284.6L444.4 283.3L444.5 281.3L444.6 285.6L444.7 284.6L444.7 283.5L444.8 282.4L444.9 273.3L445 274.6L445.1 281.8L445.1 284.8L445.2 283.6L445.3 284.3L445.4 283.5L445.5 285.7L445.5 284.9L445.6 279L445.7 278.4L445.8 285.4L445.9 281.6L445.9 284.6L446 279.6L446.1 277.1L446.2 280.1L446.3 284.2L446.3 285.5L446.4 282L446.5 278.9L446.6 283.7L446.7 276.5L446.7 276.2L446.8 284.4L446.9 273.9L447 285.7L447.1 281L447.1 283.9L447.2 285.1L447.3 281.1L447.4 276.2L447.5 285L447.5 282.3L447.6 281.2L447.7 285.7L447.8 284.1L447.9 285.1L447.9 275.5L448 282.8L448.1 285.2L448.2 283.9L448.3 272.9L448.3 283.1L448.4 281.9L448.5 273.8L448.6 281.9L448.7 282.4L448.7 281.1L448.8 282.5L448.9 274.7L449 283L449.1 275.2L449.1 280.8L449.2 283.4L449.3 275.6L449.4 285.4L449.5 279.2L449.5 281.1L449.6 283.2L449.7 285.6L449.8 281.3L449.9 281.1L449.9 282.9L450 284.5L450.1 282.6L450.2 281.4L450.3 279.9L450.3 277.2L450.4 283.6L450.5 276.5L450.6 284.5L450.7 276.9L450.7 283.1L450.8 283.2L450.9 280.9L451 285.3L451.1 277.3L451.1 283.1L451.2 284.6L451.3 281.6L451.4 275.6L451.5 277.6L451.5 285.2L451.6 285.4L451.7 280.9L451.8 284.1L451.9 281.9L451.9 278.1L452 284.5L452.1 280.6L452.2 284.5L452.3 285L452.3 282.1L452.4 276.5L452.5 281.6L452.6 278.6L452.7 282.4L452.7 284.8L452.8 283.8L452.9 262.6L453 284.8L453.1 281.7L453.1 283.6L453.2 279.6L453.3 283.3L453.4 284.8L453.5 278.9L453.5 285.3L453.6 279.6L453.7 269.9L453.8 285.6L453.9 283.8L453.9 284.9L454 285.1L454.1 277.2L454.2 281.6L454.3 283.7L454.3 285.5L454.4 280.3L454.5 275.4L454.6 283.5L454.7 283.7L454.7 282.6L454.8 283.6L454.9 282.4L455 278.6L455.1 282.6L455.1 283.3L455.2 283.8L455.3 285.1L455.4 280.7L455.5 280.3L455.5 285L455.6 283.3L455.7 279.5L455.8 283.2L455.9 283.8L455.9 281.4L456 278.2L456.1 281.9L456.2 278.2L456.3 282L456.3 276.9L456.4 282.5L456.5 280.3L456.6 283.1L456.7 283.5L456.7 284.1L456.8 281.1L456.9 284.2L457 285.4L457.1 276.3L457.1 285.3L457.2 280.3L457.3 285L457.4 283.9L457.5 285.5L457.5 282.6L457.6 281.2L457.7 283.8L457.8 275.2L457.9 280.8L457.9 283.8L458 279.9L458.1 285.7L458.2 282L458.3 283.6L458.3 285.2L458.4 283.1L458.5 283.8L458.6 283.1L458.7 285.3L458.7 269.9L458.8 285.6L458.9 284.4L459 271.1L459.1 284.4L459.1 285.1L459.2 278.5L459.3 282.4L459.4 275.2L459.5 280.3L459.5 279.7L459.6 285.1L459.7 276.9L459.8 277.2L459.9 275.1L459.9 281.9L460 284.8L460.1 273.3L460.2 281.3L460.3 272.4L460.3 285.6L460.4 274.5L460.5 284.2L460.6 284.7L460.7 282.8L460.7 283.7L460.8 281.5L460.9 265.4L461 285.6L461.1 284.1L461.1 272.5L461.2 282.2L461.3 279.3L461.4 283.7L461.5 281.5L461.5 284.8L461.6 279.4L461.7 275.4L461.8 276.1L461.9 285.5L461.9 278L462 280.3L462.1 280.3L462.2 282.9L462.3 269.1L462.3 281.2L462.4 283.4L462.5 282.5L462.6 283.9L462.7 282.5L462.8 282.1L462.9 276.7L463 278.9L463.2 285.7L463.3 282.5L463.4 280.3L463.6 281.6L463.7 280.7L463.8 279.8L463.9 274.4L463.9 275.8L464 285.7L464.1 281.2L464.2 278.9L464.3 280.3L464.4 278.5L464.5 277.6L464.6 279.8L464.7 277.1L464.8 276.7L464.8 282.1L464.9 280.3L465.1 276.7L465.2 278.9L465.2 283.4L465.3 277.6L465.4 279.4L465.6 278L465.7 273.1L465.8 280.3L465.9 284.3L466 281.2L466.2 280.7L466.3 274.9L466.3 273.5L466.4 277.6L466.5 278.9L466.6 275.3L466.7 277.6L466.8 281.6L466.9 277.6L467 273.1L467.1 276.7L467.2 280.7L467.3 279.8L467.4 275.8L467.5 279.4L467.6 282.1L467.7 282.5L467.8 283.9L467.9 277.6L468 278L468 283.9L468.1 280.3L468.2 231.5L468.3 199L468.4 231.5L468.5 265.4L468.6 273.1L468.7 269.9L468.7 260.9L468.8 245.1L468.9 223.4L469 245.1L469.1 267.6L469.1 264L469.2 272.2L469.3 276.7L469.4 247.3L469.5 250.9L469.6 261.8L469.7 261.8L469.8 259.5L469.8 253.2L469.9 255.4L470 229.2L470.1 219.3L470.2 231.5L470.3 258.6L470.3 249.6L470.4 222.5L470.5 236L470.6 250.5L470.7 246.4L470.8 256.3L470.9 269L471 274.4L471 270.8L471.1 275.8L471.2 275.3L471.3 274L471.4 274.4L471.5 269L471.6 272.2L471.7 269.9L471.8 264.5L471.8 264L471.9 272.2L472 281.2L472.1 275.8L472.2 275.3L472.3 285.7L472.4 285.7L472.5 285.7L472.6 285.7L472.7 284.3L472.8 283.9L472.9 279.8L473 280.3L473 283.4L473.1 281.2L473.2 283.4L473.3 276.7L473.4 273.5L473.5 278.9L473.5 282.1L473.6 281.2L473.7 275.8L473.8 274.9L474 275.3L474.1 276.7L474.2 283.9L474.3 282.1L474.5 281.2L474.6 283.4L474.6 280.3L474.7 279.8L474.8 275.3L474.9 275.8L475 278.9L475.1 281.2L475.2 285.4L475.3 283.8L475.4 283.5L475.4 284.9L475.5 280.6L475.6 279.3L475.7 272.4L475.8 282.6L475.8 280.1L475.9 279.7L476 280.1L476.1 284.4L476.2 278.2L476.2 281.5L476.3 283.2L476.4 285.7L476.5 272.1L476.6 282.1L476.6 283.7L476.7 285.1L476.8 282.8L476.9 278.5L477 278.8L477 284.3L477.1 277.3L477.2 285.5L477.3 282.7L477.4 285.3L477.4 281.4L477.5 284.5L477.6 284.3L477.7 285L477.8 284.2L477.8 281.4L477.9 281.3L478 284.5L478.1 283L478.2 280.6L478.2 282.1L478.3 271.2L478.4 272.5L478.5 285.1L478.6 279.2L478.6 276.8L478.7 276.6L478.8 275.9L478.9 283.1L479 282.9L479 284.1L479.1 284.9L479.2 274.1L479.3 279.9L479.4 283.1L479.4 284.5L479.5 285.6L479.6 281.9L479.7 281.7L479.8 259.9L479.8 281.4L479.9 284.9L480 285.3L480.1 275.8L480.2 285L480.2 283.6L480.3 285.5L480.4 285.3L480.5 280.3L480.6 283.2L480.6 281.2L480.7 276.2L480.8 283.1L480.9 279.8L481 279.2L481 284.2L481.1 273.5L481.2 277.7L481.3 279.2L481.4 283.2L481.4 275.1L481.5 281.2L481.6 279.9L481.7 283.5L481.8 283.6L481.8 283.3L481.9 285.1L482 282.3L482.1 284.8L482.2 282.2L482.2 278.5L482.3 283.3L482.4 282L482.5 272.4L482.6 283.9L482.6 281.2L482.7 285.1L482.8 283.4L482.9 281.9L483 284.8L483 284.5L483.1 271.4L483.2 273.1L483.3 278.6L483.4 284.6L483.4 282.9L483.5 284.3L483.6 285.3L483.7 282.6L483.8 284L483.8 278.4L483.9 283.5L484 283.7L484.1 260.1L484.2 284L484.2 277.5L484.3 277.8L484.4 280.8L484.5 282.9L484.6 285L484.6 283.8L484.7 285.2L484.8 283.8L484.9 280.2L485 266.5L485 281.9L485.1 284.7L485.2 283L485.3 285.5L485.4 285.7L485.4 281.6L485.5 283.8L485.6 284L485.7 285L485.8 281.4L485.8 275.4L485.9 285.6L486 281.4L486.1 285.2L486.2 279.3L486.2 282.7L486.3 282L486.4 282.9L486.5 282.4L486.6 280.8L486.6 283.9L486.7 285.3L486.8 281.8L486.9 284.9L487 284.9L487 285.1L487.1 284L487.2 281.9L487.3 275.9L487.4 271.1L487.4 282.9L487.5 282.9L487.6 281.2L487.7 284L487.8 282.6L487.8 285.2L487.9 276.1L488 285.5L488.1 284.6L488.1 283.1L488.2 272.2L488.3 277.3L488.4 267L488.5 283.8L488.5 284.7L488.6 283.7L488.7 284.3L488.8 281.1L488.9 276.3L488.9 285L489 283.9L489.1 274.9L489.2 273.5L489.3 280.3L489.3 284.7L489.4 284.3L489.5 283.7L489.6 284.8L489.7 284.9L489.7 283.2L489.8 285.6L489.9 284.8L490 271.7L490.1 281.5L490.1 284L490.2 284.7L490.3 281.1L490.4 273.6L490.5 284.9L490.5 284.3L490.6 271.8L490.7 278.2L490.8 281.8L490.9 285.5L490.9 277.4L491 282.2L491.1 284.2L491.2 284.3L491.3 285.1L491.3 283.6L491.4 285.5L491.5 283L491.6 285.2L491.7 282.5L491.7 285.3L491.8 285.2L491.9 271.7L492 285.6L492.1 284L492.1 280.7L492.2 279.9L492.3 279L492.4 282.5L492.5 278.9L492.5 283.4L492.6 283.8L492.7 281.6L492.8 281.7L492.9 285.2L492.9 280.7L493 285.3L493.1 280.4L493.2 276.7L493.3 284.1L493.3 283.6L493.4 274.8L493.5 275.1L493.6 280.4L493.7 284.2L493.7 281.8L493.8 284.5L493.9 276.3L494 281.4L494.1 283L494.1 284.1L494.2 283.8L494.3 284.5L494.4 271.8L494.5 282.5L494.5 282.4L494.6 284.2L494.7 274.8L494.8 285.7L494.9 269.4L494.9 283.8L495 285L495.1 284.5L495.2 283.6L495.3 284.3L495.3 285.6L495.4 282.6L495.5 283.9L495.6 283.3L495.7 283.4L495.7 277.5L495.8 283L495.9 284.7L496 284L496.1 282.5L496.1 283L496.2 280.8L496.3 285.3L496.4 276.8L496.5 280.1L496.5 281.6L496.6 277.5L496.7 284.8L496.8 282.7L496.9 283.6L496.9 284.2L497 284.2L497.1 283.2L497.2 284.4L497.3 281.9L497.3 280.5L497.4 280L497.5 283.7L497.6 275.5L497.7 279.4L497.7 280.4L497.8 285.4L497.9 278.8L498 282.1L498.1 284.7L498.1 284.4L498.2 284.6L498.3 285.6L498.4 272.3L498.5 283.2L498.5 269.9L498.6 284.9L498.7 278.3L498.8 277.2L498.9 285.2L498.9 280.9L499 284L499.1 284.8L499.2 283.9L499.3 283.9L499.3 284.1L499.4 273.1L499.5 276.6L499.6 260.6L499.7 284.6L499.7 280.8L499.8 283.6L499.9 278.7L500 284.2L500.1 282.6L500.1 282.2L500.2 282.1L500.3 282.9L500.4 279.7L500.5 281.2L500.5 281.8L500.6 284.5L500.7 280.8L500.8 282.2L500.9 281.5L500.9 285.6L501 281.2L501.1 281.9L501.2 285.7L501.3 281.5L501.3 283.7L501.4 282.7L501.5 284.1L501.6 285.5L501.7 275.1L501.7 279.5L501.8 284.5L501.9 284.4L502 284.9L502.1 284.1L502.1 278.9L502.2 267.1L502.3 268.2L502.4 276.9L502.5 285.7L502.5 285.2L502.6 281.5L502.7 284.1L502.8 279.9L502.9 280.4L502.9 267.4L503 285.3L503.1 285L503.2 284.1L503.3 274.9L503.3 284.9L503.4 283.2L503.5 283.7L503.6 284.3L503.7 282.3L503.7 285L503.8 283.5L503.9 285.6L504 283.6L504.1 284.6L504.1 281.6L504.2 280.8L504.3 284.9L504.4 285.5L504.5 283.8L504.5 283.3L504.6 280L504.7 283L504.8 282.2L504.9 284.1L504.9 284L505 275.5L505.1 281.6L505.2 284.8L505.3 283.9L505.3 283.8L505.4 284.8L505.5 279.2L505.6 285.3L505.7 283.8L505.8 278L505.9 283.3L506 284.7L506.1 281.1L506.1 277L506.2 282.9L506.3 282.9L506.4 285.1L506.5 283.1L506.5 280.9L506.6 285.5L506.7 282.2L506.8 282.8L506.9 278.2L506.9 283.5L507 280.9L507.1 285L507.2 283.3L507.3 285.5L507.3 285.3L507.4 281.9L507.5 267.2L507.6 283L507.7 282L507.7 284.3L507.8 285.2L507.9 285.6L508 279L508.1 285.5L508.1 281.8L508.2 282.2L508.3 285.6L508.4 272.8L508.5 284.8L508.5 282.1L508.6 284.5L508.7 281.8L508.8 285L508.9 273.3L508.9 283.2L509 283.2L509.1 282.8L509.2 282.5L509.3 283.7L509.3 258.3L509.4 283.3L509.5 284.6L509.6 285.3L509.7 273.9L509.7 269.9L509.8 284.9L509.9 282.8L510 281.3L510.1 277.8L510.1 283L510.2 283.8L510.3 285.3L510.4 278.6L510.5 275.8L510.5 285.4L510.6 281.5L510.7 277.2L510.8 285.6L510.9 284.7L510.9 275.4L511 284.9L511.1 278.8L511.2 268.7L511.3 285.4L511.3 277.7L511.4 276.4L511.5 278.9L511.6 283.1L511.7 280.4L511.7 284.3L511.8 283L511.9 285.1L512 274.6L512.1 284.8L512.1 284.1L512.2 280.4L512.3 276.1L512.4 282L512.5 285.3L512.5 281.8L512.6 281.4L512.7 282.4L512.8 282.5L512.9 284.1L512.9 266.4L513 282.9L513.1 276.8L513.2 283L513.3 273L513.3 275.7L513.4 270.6L513.5 282.6L513.6 284.8L513.6 283L513.7 284.2L513.8 285.3L513.9 280.9L514 283.4L514 283.8L514.1 285.4L514.2 275.2L514.3 285.2L514.4 282.5L514.4 276.3L514.5 278.9L514.6 282.2L514.7 284.8L514.8 282.1L514.8 271.8L514.9 283L515 283L515.1 281L515.2 284.6L515.2 281.3L515.3 280.8L515.4 281.1L515.5 283.3L515.6 282.8L515.6 283.3L515.7 284L515.8 277.9L515.9 285L516 285.6L516 280.2L516.1 279.6L516.2 285.4L516.3 280.5L516.4 280.4L516.4 282.9L516.5 272.9L516.6 282.5L516.7 285.3L516.8 282.4L516.8 281L516.9 273L517 283.2L517.1 282.7L517.2 270L517.2 284.6L517.3 280.6L517.4 284.6L517.5 285.7L517.6 285.4L517.6 284.1L517.7 285.2L517.8 266.8L517.9 281L518 281L518 284.5L518.1 284.1L518.2 277.2L518.3 284.9L518.4 281.3L518.4 280L518.5 283.3L518.6 278.1L518.7 283.6L518.8 283.3L518.8 284.3L518.9 285.2L519 277.4L519.1 280.1L519.2 281L519.2 283.4L519.3 274.6L519.4 281.6L519.5 271.3L519.6 284.9L519.6 284L519.7 281.2L519.8 279.6L519.9 283.3L520 284.3L520 282.5L520.1 283L520.2 281.9L520.3 274.2L520.4 284.9L520.4 284.2L520.5 276.2L520.6 285.4L520.7 279.3L520.8 282.9L520.8 283.4L520.9 283L521 282.4L521.1 285L521.2 285.6L521.2 284.8L521.3 280.9L521.4 284.1L521.5 283.5L521.6 274.7L521.6 283.8L521.7 283.9L521.8 284.6L521.9 281.9L522 282.8L522 279.7L522.1 281.6L522.2 282.4L522.3 284.7L522.4 278L522.4 278.2L522.5 278.3L522.6 281.2L522.7 280.1L522.8 285.2L522.8 284.6L522.9 278.6L523 283.8L523.1 282.6L523.2 279.5L523.2 285.3L523.3 281L523.4 275L523.5 285.4L523.6 281.4L523.6 282.4L523.7 281.8L523.8 274.6L523.9 280.9L524 284.9L524 281.3L524.1 283.4L524.2 281.1L524.3 285.2L524.4 285.2L524.4 284.5L524.5 285.4L524.6 279.5L524.7 283.2L524.8 273.2L524.8 279.5L524.9 281.5L525 274.1L525.1 276.3L525.2 281.5L525.2 281.1L525.3 277.4L525.4 282.9L525.5 272.5L525.6 270.2L525.6 280.3L525.7 271.6L525.8 285.4L525.9 277.5L526 285.4L526 281.7L526.1 285.4L526.2 283.6L526.3 280.5L526.4 285.5L526.4 281.1L526.5 279.4L526.6 280.6L526.7 275.8L526.8 284.3L526.8 284L526.9 279L527 284.6L527.1 285.5L527.2 282.6L527.2 284.9L527.3 282.8L527.4 281.3L527.5 284L527.6 279.9L527.6 283L527.7 284.2L527.8 284.5L527.9 285.1L528 284.8L528 280.3L528.1 282.1L528.2 281.9L528.3 285.3L528.4 276.6L528.4 283L528.5 265.5L528.6 282.6L528.7 284.7L528.8 282.7L528.8 282.9L528.9 280.2L529 285.4L529.1 284.4L529.2 282.9L529.2 284.5L529.3 284.4L529.4 280.9L529.5 281.9L529.6 284.8L529.6 285.4L529.7 285.6L529.8 275L529.9 283.3L530 284.3L530 284.5L530.1 284.3L530.2 282.3L530.3 285.5L530.4 277.6L530.4 281.6L530.5 280.2L530.6 281.3L530.7 282.1L530.8 284.3L530.8 276.7L530.9 285.7L531 278.9L531.1 281.8L531.2 285.7L531.2 285L531.3 276.3L531.4 279.8L531.5 283.5L531.6 276.6L531.6 281.7L531.7 279.6L531.8 285.5L531.9 277L532 284.5L532 283.9L532.1 281L532.2 283.7L532.3 282.6L532.4 281L532.4 278.4L532.5 284L532.6 281.1L532.7 284.6L532.8 281.9L532.8 284.4L532.9 284.4L533 284.5L533.1 285.4L533.2 283.8L533.2 284L533.3 284.5L533.4 282L533.5 283.8L533.6 282.6L533.6 285.7L533.7 276.1L533.8 270.5L533.9 280.3L534 275.4L534 284.2L534.1 284.3L534.2 277.7L534.3 270.4L534.4 284.8L534.4 284.3L534.5 285.6L534.6 268.5L534.7 283.2L534.8 285.6L534.8 279.8L534.9 279.1L535 285.7L535.1 278.9L535.2 284.6L535.2 281.5L535.3 282.1L535.4 280.9L535.5 281.9L535.6 285.5L535.6 285.4L535.7 268.8L535.8 284.2L535.9 280.2L536 282.7L536 283.2L536.1 275.9L536.2 278.6L536.3 284.1L536.4 284.8L536.4 284.3L536.5 281.9L536.6 284.7L536.7 285.7L536.8 285.2L536.8 284.6L536.9 280.5L537 282.2L537.1 285.2L537.2 284.4L537.2 282.4L537.3 280.5L537.4 268.5L537.5 283.8L537.6 282.8L537.6 282.1L537.7 280.1L537.8 280.9L537.9 284.2L538 280L538 285.4L538.1 282.5L538.2 284.6L538.3 280.1L538.4 283.9L538.4 284.2L538.5 282.3L538.6 282.3L538.7 283.3L538.8 281.3L538.8 275.2L538.9 282.1L539 280.1L539.1 269.9L539.1 276.9L539.2 282.1L539.3 281.8L539.4 276.8L539.5 284.3L539.5 270L539.6 285.5L539.7 283.2L539.8 281.3L539.9 279.7L539.9 285.2L540 278L540.1 281.6L540.2 282.6L540.3 283L540.3 284.8L540.4 285.5L540.5 280.4L540.6 278.2L540.7 281.6L540.7 285.5L540.8 271.9L540.9 282.4L541 277.4L541.1 260.7L541.1 285.5L541.2 284.6L541.3 277.2L541.4 278.7L541.5 280.9L541.5 275.6L541.6 277.5L541.7 284.1L541.8 280.5L541.9 281L541.9 284.3L542 281.5L542.1 285.1L542.2 284.1L542.3 283.4L542.3 284.8L542.4 281.7L542.5 285.2L542.6 284.6L542.7 281.1L542.7 272L542.8 285.6L542.9 282.9L543 283.5L543.1 285.6L543.1 284.6L543.2 273.2L543.3 285L543.4 267.5L543.5 281.4L543.5 284.6L543.6 277.2L543.7 269.1L543.8 258.3L543.9 284.5L543.9 285.5L544 277L544.1 276.5L544.2 284.8L544.3 285.2L544.3 278.4L544.4 283.9L544.5 282.6L544.6 283.5L544.7 283.2L544.8 284.6L544.9 285.3L545 270.2L545.1 285.7L545.1 279.8L545.2 277.2L545.3 278.3L545.4 284L545.5 283L545.5 281L545.6 281.2L545.7 283.3L545.8 284.1L545.9 274.6L545.9 278.1L546 283.8L546.1 284.3L546.2 282.3L546.3 275.8L546.3 283.5L546.4 269.4L546.5 284.6L546.6 280.6L546.7 285.3L546.7 283.2L546.8 285.3L546.9 283.9L547 284.7L547.1 285.2L547.1 282.4L547.2 283.5L547.3 275.8L547.4 285.1L547.5 282.9L547.5 278.3L547.6 284.3L547.7 280.1L547.8 267.3L547.9 281.1L547.9 279.1L548 279.9L548.1 281.7L548.2 285.4L548.3 284.9L548.3 281.4L548.4 281.6L548.5 280.8L548.6 285.7L548.7 283.6L548.7 284.2L548.8 284.2L548.9 282.2L549 276.9L549.1 284.1L549.1 282L549.2 285.2L549.3 284.6L549.4 275.3L549.5 285.1L549.5 281.2L549.6 281.2L549.7 281L549.8 278.8L549.9 285L549.9 284.6L550 280.9L550.1 285L550.2 284.7L550.3 280.8L550.3 281.2L550.4 285L550.5 285.6L550.6 281.9L550.7 284.6L550.7 281.5L550.8 284.6L550.9 283.2L551 285.4L551.1 284.6L551.1 277L551.2 276.9L551.3 282.7L551.4 281.2L551.5 282.9L551.5 282.6L551.6 284.5L551.7 282.8L551.8 285.5L551.9 285.6L551.9 280.8L552 282.3L552.1 281.9L552.2 284.6L552.3 283L552.3 282L552.4 284.7L552.5 278.6L552.6 274.3L552.7 283.4L552.7 282.5L552.8 282.4L552.9 284L553 283L553.1 284.7L553.1 280.2L553.2 285.6L553.3 285.7L553.4 281.2L553.5 284L553.5 276.4L553.6 280.4L553.7 279.4L553.8 276L553.9 284.4L553.9 279.7L554 276L554.1 265L554.2 285.5L554.3 285.3L554.3 285.1L554.4 283.6L554.5 284L554.6 279.6L554.7 285.1L554.7 284.4L554.8 282.4L554.9 284.2L555 283.4L555.1 284.2L555.1 284.5L555.2 284.3L555.3 281.4L555.4 276.9L555.5 277.6L555.5 285L555.6 284.4L555.7 281.8L555.8 280.3L555.9 283L555.9 285.1L556 285.6L556.1 285.3L556.2 282.1L556.3 281.3L556.3 283.5L556.4 274L556.5 284.6L556.6 283.8L556.7 282.8L556.7 279L556.8 280.4L556.9 276.3L557 283.3L557.1 284L557.1 284.1L557.2 284.3L557.3 285.4L557.4 270.1L557.5 283.2L557.5 267.4L557.6 282.9L557.7 283.3L557.8 281.2L557.9 283.6L557.9 281.5L558 284.8L558.1 282.4L558.2 268.8L558.3 282.3L558.3 279.8L558.4 276.5L558.5 284L558.6 282L558.7 284.1L558.7 282.2L558.8 280.5L558.9 285.1L559 282.6L559.1 280.6L559.1 269.7L559.2 284.5L559.3 278.7L559.4 284L559.5 284.7L559.5 283.1L559.6 281.5L559.7 285.4L559.8 284.8L559.9 285.5L559.9 280.6L560 284.5L560.1 280.8L560.2 283.2L560.3 283.9L560.3 270.9L560.4 284.9L560.5 277.9L560.6 284.7L560.7 284.3L560.7 278.2L560.8 280.9L560.9 284.5L561 275.3L561.1 283.6L561.1 276.8L561.2 285L561.3 284L561.4 278.7L561.5 280.9L561.5 277.3L561.6 284.3L561.7 279.5L561.8 277.1L561.9 280.7L561.9 281L562 283.9L562.1 279.6L562.2 277.8L562.3 282.1L562.3 281.1L562.4 273.9L562.5 285L562.6 281.8L562.7 283.6L562.7 284.8L562.8 283.8L562.9 277.4L563 284.7L563.1 281.3L563.1 281.5L563.2 283.9L563.3 285.3L563.4 282L563.5 281.9L563.5 285.2L563.6 282.3L563.7 282.8L563.8 283.3L563.9 269.6L563.9 275.4L564 259.3L564.1 285.4L564.2 285.5L564.3 283L564.3 258.4L564.4 278L564.5 281.9L564.6 278.6L564.7 282.7L564.7 283L564.8 285.2L564.9 285.2L565 279.4L565 283.9L565.1 285.3L565.2 285.2L565.3 285.4L565.4 276.3L565.4 283L565.5 283.4L565.6 283.3L565.7 283.4L565.8 285.4L565.8 283.1L565.9 280L566 281.5L566.1 284.2L566.2 285.7L566.2 283.5L566.3 273.6L566.4 279.8L566.5 281.6L566.6 278.9L566.6 278.4L566.7 284.7L566.8 281.4L566.9 272.8L567 283.7L567.1 284.2L567.2 269.3L567.3 276.9L567.4 283.7L567.4 280.3L567.5 274.7L567.6 272.3L567.7 285.4L567.8 283.2L567.8 273.8L567.9 283.1L568 284.9L568.1 279.8L568.2 285.4L568.2 272.2L568.3 279.3L568.4 262.7L568.5 285L568.6 281.8L568.6 284.7L568.7 282.7L568.8 282.2L568.9 284.9L569 284.4L569 285.7L569.1 284.9L569.2 281.8L569.3 284.7L569.4 285.7L569.4 282.8L569.5 283.6L569.6 282.8L569.7 276.9L569.8 282.4L569.8 283.9L569.9 284.4L570 276.1L570.1 285.2L570.2 279.9L570.2 283.7L570.3 278.6L570.4 284.5L570.5 276.6L570.6 284.9L570.6 278.8L570.7 284.5L570.8 280.6L570.9 283.4L571 282.8L571 282.9L571.1 285.2L571.2 263.6L571.3 281.6L571.4 284.2L571.4 284L571.5 282.5L571.6 282L571.7 280.4L571.8 283.5L571.8 283.3L571.9 268L572 279.4L572.1 281.5L572.2 282.5L572.2 283.8L572.3 269.6L572.4 283.9L572.5 273.7L572.6 276.1L572.6 284.6L572.7 283.8L572.8 283.3L572.9 284.9L573 279.4L573 283L573.1 283.4L573.2 285L573.3 285.2L573.4 283L573.4 283.7L573.5 284.9L573.6 278.9L573.7 278L573.8 276.7L573.8 282.3L573.9 276.6L574 285.4L574.1 278.3L574.2 282.8L574.2 283.6L574.3 274.1L574.4 285.1L574.5 285.4L574.6 279.9L574.6 278.9L574.7 283.2L574.8 282.6L574.9 282.3L575 277.1L575 281.8L575.1 285.3L575.2 284.6L575.3 275.4L575.4 281.7L575.4 283.4L575.5 285.5L575.6 285.6L575.7 285.5L575.8 282.5L575.8 276.4L575.9 281L576 284.8L576.1 281.3L576.2 285.6L576.2 277.7L576.3 273.8L576.4 285.2L576.5 284.6L576.6 285.7L576.6 285.4L576.7 283.8L576.8 283.3L576.9 284.8L577 279.2L577 280.9L577.1 285.4L577.2 284.1L577.3 282.9L577.4 285.6L577.4 283.9L577.5 275.6L577.6 283.3L577.7 280.8L577.8 278.7L577.8 281.6L577.9 278L578 284.3L578.1 285.4L578.2 285.5L578.2 281L578.3 285.2L578.4 285L578.5 283.8L578.6 281.9L578.6 281.1L578.7 285.4L578.8 284.2L578.9 285L579 285.5L579 284.6L579.1 285.5L579.2 282.5L579.3 282.8L579.4 282.6L579.4 284.6L579.5 278.4L579.6 283.6L579.7 279.9L579.8 283L579.8 283.7L579.9 284.5L580 283.3L580.1 285.7L580.2 285.1L580.2 284.8L580.3 284.6L580.4 281.6L580.5 278.9L580.6 284.9L580.6 284.7L580.7 282.8L580.8 284.4L580.9 285.2L581 275.3L581 280.9L581.1 280.9L581.2 283.6L581.3 284.8L581.4 282.7L581.4 284.5L581.5 285.5L581.6 283.5L581.7 283.5L581.8 283L581.8 278.6L581.9 284.2L582 280.5L582.1 281.9L582.2 283.9L582.2 284.4L582.3 280.1L582.4 270.8L582.5 277.5L582.6 277.2L582.6 283.5L582.7 283.4L582.8 284.5L582.9 282.4L583 285.1L583 280.3L583.1 283.8L583.2 285.1L583.3 284.3L583.4 281.8L583.4 278.2L583.5 282.4L583.6 278.2L583.7 272.3L583.8 284.8L583.8 277.6L583.9 284.3L584 282.4L584.1 284.6L584.2 283.6L584.2 283.1L584.3 284.2L584.4 269.8L584.5 279.5L584.6 285.4L584.6 285.5L584.7 285.6L584.8 280.9L584.9 284.7L585 275L585 281.8L585.1 280.6L585.2 285.1L585.3 282.1L585.4 285.6L585.4 277.4L585.5 281.7L585.6 283.2L585.7 285.1L585.8 282.2L585.8 282.5L585.9 282.8L586 284.2L586.1 281.1L586.2 281.8L586.2 282.3L586.3 271.5L586.4 280.1L586.5 279.8L586.6 281.6L586.6 273.8L586.7 281.6L586.8 278.7L586.9 285.5L587 284.5L587 270.3L587.1 285.3L587.2 285L587.3 279.3L587.4 280.9L587.4 285.1L587.5 279.2L587.6 280.7L587.7 284.3L587.8 276.6L587.8 284.8L587.9 285L588 285.1L588.1 281.8L588.2 272.7L588.2 263.5L588.3 285.7L588.4 285.6L588.5 283.9L588.6 281.4L588.6 283.3L588.7 278.4L588.8 276.4L588.9 277.8L589 281.8L589 285.7L589.1 285.1L589.2 271.7L589.3 279.5L589.4 284.4L589.4 283.9L589.5 284.9L589.6 280L589.7 284.4L589.8 282.3L589.8 284.3L589.9 285L590 276.3L590.1 282.9L590.2 283.7L590.2 283.3L590.3 282.3L590.4 284.6L590.5 268.5L590.5 285.1L590.6 281.2L590.7 279.7L590.8 281.9L590.9 282.8L590.9 285.3L591 285.5L591.1 282L591.2 285.3L591.3 282.7L591.3 284.7L591.4 280.1L591.5 284.2L591.6 280.5L591.7 285.2L591.7 282.7L591.8 283.4L591.9 279.8L592 280.2L592.1 275.4L592.1 281.3L592.2 284.5L592.3 272.1L592.4 266L592.5 273.6L592.5 279.6L592.6 284.2L592.7 280.9L592.8 276.6L592.9 284.1L592.9 281.8L593 285.1L593.1 285.3L593.2 283L593.3 285.3L593.3 284.8L593.4 284L593.5 279.3L593.6 279.9L593.7 279.1L593.7 283.9L593.8 282.3L593.9 284.7L594 285.5L594.1 282.7L594.1 285L594.2 284L594.3 281.9L594.4 277.5L594.5 283.2L594.5 281.4L594.6 281.5L594.7 285.3L594.8 285.5L594.9 283.7L594.9 282.8L595 284.7L595.1 284.8L595.2 283.2L595.3 283.5L595.3 267.5L595.4 285.4L595.5 280.2L595.6 279L595.7 284.5L595.7 272.1L595.8 282.9L595.9 277L596 285.4L596.1 284.1L596.1 276.5L596.2 270.3L596.3 284.3L596.4 275L596.5 285.3L596.5 285.6L596.6 283.5L596.7 282.8L596.8 279.7L596.9 285L596.9 272.9L597 274.8L597.1 277.9L597.2 276.7L597.3 283.7L597.3 285.2L597.4 281.8L597.5 285.1L597.6 284.7L597.7 283L597.7 281.3L597.8 278.3L597.9 283.3L598 280.9L598.1 274.8L598.1 272L598.2 280.5L598.3 279.9L598.4 282.4L598.5 281.5L598.5 279.6L598.6 281.8L598.7 284.7L598.8 285L598.9 282.3L598.9 272.5L599 281.8L599.1 285.4L599.2 278.5L599.3 285.5L599.3 281L599.4 281.2L599.5 281.3L599.6 285.7L599.7 285.6L599.7 283.4L599.8 284.4L599.9 283L600 282L600.1 285.5L600.1 284.9L600.2 282.8L600.3 271.2L600.4 284.7L600.5 280.9L600.5 271L600.6 284.8L600.7 281.5L600.8 283.7L600.9 280.3L600.9 278.6L601 285L601.1 280.4L601.2 284.3L601.3 273.2L601.3 285.5L601.4 283.1L601.5 261.4L601.6 285.6L601.7 282.7L601.7 284.2L601.8 283.3L601.9 285.1L602 272.1L602.1 285.1L602.1 281.4L602.2 261.8L602.3 284.7L602.4 284.1L602.5 279.6L602.5 285.6L602.6 281.2L602.7 284.2L602.8 284.2L602.9 280L602.9 285.4L603 285.2L603.1 282.5L603.2 275.1L603.3 285L603.3 283.5L603.4 285.6L603.5 283.2L603.6 283.9L603.7 279.1L603.7 278.3L603.8 282.1L603.9 271.3L604 282.1L604.1 284.2L604.1 283.3L604.2 282.7L604.3 277.1L604.4 278.8L604.5 274.5L604.5 279.1L604.6 285.1L604.7 283.7L604.8 285.5L604.9 276.1L604.9 285.6L605 283.5L605.1 281.4L605.2 263.3L605.3 270.6L605.3 285L605.4 283.5L605.5 283.3L605.6 285.1L605.7 278.8L605.7 280.3L605.8 282.8L605.9 275.6L606 283.5L606.1 282L606.1 280.9L606.2 284.4L606.3 284.2L606.4 283.2L606.5 283.8L606.5 285.1L606.6 280.9L606.7 284.7L606.8 282.4L606.9 285.3L606.9 280.2L607 280.9L607.1 276.5L607.2 282.4L607.3 269.1L607.3 285.4L607.4 282.3L607.5 283L607.6 283.3L607.7 282.5L607.7 274.9L607.8 281.9L607.9 283.7L608 282.9L608.1 283.2L608.1 285.6L608.2 283L608.3 273.1L608.4 270.6L608.5 277L608.5 283.2L608.6 275.5L608.7 283.1L608.8 281.6L608.9 282.3L608.9 284.9L609 273.8L609.1 281.1L609.2 276.9L609.3 284.9L609.3 272.5L609.4 279.3L609.5 285L609.6 285.2L609.7 277L609.7 284.2L609.8 285L609.9 265.8L610 284.3L610.1 276.6L610.1 279L610.2 280.8L610.3 282.5L610.4 284.5L610.5 281L610.5 281.7L610.6 277L610.7 284.5L610.8 258.3L610.9 280.8L610.9 275.6L611 278.9L611.1 281.6L611.2 282.7L611.3 280.7L611.3 285.3L611.4 285.6L611.5 284.3L611.6 283.1L611.7 285.7L611.7 284.7L611.8 284.8L611.9 271L612 281.6L612.1 283.1L612.1 279.6L612.2 281.8L612.3 271.7L612.4 284.9L612.5 279.9L612.5 285.4L612.6 285.7L612.7 279L612.8 285.3L612.9 283.8L612.9 284.5L613 284.9L613.1 284.6L613.2 277.5L613.3 283.2L613.3 284.3L613.4 283.5L613.5 284.3L613.6 284.8L613.7 280.6L613.7 282.1L613.8 283.1L613.9 278.6L614 285.4L614.1 282.8L614.1 274.3L614.2 284.6L614.3 285.7L614.4 285L614.5 279.9L614.5 285.4L614.6 285.4L614.7 281.2L614.8 285.6L614.9 285.4L614.9 281.5L615 282.5L615.1 285.6L615.2 275.5L615.3 284.9L615.3 283.1L615.4 282.4L615.5 285.1L615.6 282.5L615.7 279.2L615.7 277.8L615.8 284.7L615.9 278.3L616 283.3L616 280.4L616.1 282L616.2 284.5L616.3 283.8L616.4 280.5L616.4 284.2L616.5 278.7L616.6 278.7L616.7 282.9L616.8 283.3L616.8 281.5L616.9 278.7L617 285.2L617.1 285.4L617.2 273.3L617.2 282.6L617.3 284.3L617.4 282.8L617.5 284L617.6 285.1L617.6 284.5L617.7 285L617.8 278.2L617.9 285.4L618 283.8L618 284L618.1 283.6L618.2 285.1L618.3 279.3L618.4 283.1L618.4 284.2L618.5 281.2L618.6 278.6L618.7 274.5L618.8 274.7L618.8 284.9L618.9 284.5L619 283.6L619.1 278.6L619.2 282.3L619.2 278.4L619.3 272L619.4 275.6L619.5 280.1L619.6 284.8L619.6 284.2L619.7 281.8L619.8 258.3L619.9 277.7L620 281.7L620 281.5L620.1 282.6L620.2 282.6L620.3 285.2L620.4 281.9L620.4 285.6L620.5 281.4L620.6 274L620.7 284.9L620.8 280.6L620.8 282.6L620.9 284.3L621 281.3L621.1 285.2L621.2 282.7L621.2 275.6L621.3 277L621.4 284L621.5 282.8L621.6 282.4L621.6 285.6L621.7 283.8L621.8 279.7L621.9 283.6L622 285.4L622 279.3L622.1 280.6L622.2 283.2L622.3 281.9L622.4 282.8L622.4 278.7L622.5 280.5L622.6 285.7L622.7 281.5L622.8 284.9L622.8 283.5L622.9 282.2L623 279.5L623.1 277.7L623.2 283.7L623.2 278.1L623.3 275.1L623.4 283.8L623.5 280.1L623.6 285.1L623.6 285.7L623.7 277.2L623.8 282.3L623.9 283.5L624 283.8L624 285.5L624.1 278.6L624.2 284.7L624.3 267.6L624.4 283.9L624.4 282.2L624.5 275L624.6 285.4L624.7 279.5L624.8 284.3L624.8 283.2L624.9 277.3L625 281.7L625.1 285.5L625.2 284.2L625.2 285.3L625.3 285.6L625.4 283.3L625.5 284.3L625.6 280.7L625.6 283.5L625.7 285.2L625.8 273.5L625.9 285L626 281.9L626 284.1L626.1 285.1L626.2 283.2L626.3 283.5L626.4 285.7L626.4 275.8L626.5 277.7L626.6 284.2L626.7 283.2L626.8 278.2L626.8 274.9L626.9 269.7L627 282.8L627.1 280L627.2 280.2L627.2 275.3L627.3 283.7L627.4 280.9L627.5 279.8L627.6 272.5L627.6 284.4L627.7 282.7L627.8 276.8L627.9 282.8L628 281.2L628 284.6L628.1 284.1L628.2 285.4L628.3 276.3L628.4 285.1L628.4 283.6L628.5 283.7L628.6 284.3" stroke="#0072bd" stroke-width="0.7" fill="none" stroke-linejoin="round"/>
<path d="M372.8 285.7v-2.5M372.8 197.4v2.5M436.8 285.7v-2.5M436.8 197.4v2.5M500.7 285.7v-2.5M500.7 197.4v2.5M564.7 285.7v-2.5M564.7 197.4v2.5M628.6 285.7v-2.5M628.6 197.4v2.5M372.8 285.7h2.5M628.6 285.7h-2.5M372.8 241.4h2.5M628.6 241.4h-2.5M372.8 197.2h2.5M628.6 197.2h-2.5" stroke="#777" stroke-width="0.7" fill="none"/>
<text x="370.0" y="301.1" font-size="13" textLength="5.7" lengthAdjust="spacingAndGlyphs">0</text>
<text x="433.9" y="301.1" font-size="13" textLength="5.7" lengthAdjust="spacingAndGlyphs">2</text>
<text x="497.9" y="301.1" font-size="13" textLength="5.7" lengthAdjust="spacingAndGlyphs">4</text>
<text x="561.8" y="301.1" font-size="13" textLength="5.7" lengthAdjust="spacingAndGlyphs">6</text>
<text x="625.8" y="301.1" font-size="13" textLength="5.7" lengthAdjust="spacingAndGlyphs">8</text>
<text x="362.6" y="290.0" font-size="13" textLength="5.7" lengthAdjust="spacingAndGlyphs">0</text>
<text x="351.3" y="245.7" font-size="13" textLength="17.0" lengthAdjust="spacingAndGlyphs">100</text>
<text x="351.3" y="201.5" font-size="13" textLength="17.0" lengthAdjust="spacingAndGlyphs">200</text>
<text x="391.0" y="193.6" font-size="13.8" textLength="220.0" lengthAdjust="spacingAndGlyphs">Short-Time Zero-Crossing Rate (STZCR)</text>
<text x="478.7" y="315.0" font-size="13.8" textLength="44.6" lengthAdjust="spacingAndGlyphs">Time (s)</text>
<text x="282.1" y="241.6" font-size="13.6" textLength="129.1" lengthAdjust="spacingAndGlyphs" transform="rotate(-90 346.7 241.6)">Zero-Crossing Rate (Hz)</text>
<rect x="459.3" y="58.5" width="18.7" height="88.7" fill="none" stroke="#ff0000" stroke-width="1.9"/>
<rect x="459.3" y="197.9" width="18.7" height="88.1" fill="none" stroke="#ff0000" stroke-width="1.9"/>
<text x="483.9" y="344.4" font-size="16.6" textLength="19.4" lengthAdjust="spacingAndGlyphs">(b)</text>
<path d="M809.8 29.8V126.0M873.6 29.8V126.0M937.5 29.8V126.0M1001.3 29.8V126.0M1065.1 29.8V126.0M1129.0 29.8V126.0M1192.8 29.8V126.0M745.9 93.5H1256.7M745.9 61.0H1256.7" stroke="#f2f2f2" stroke-width="0.8" fill="none"/>
<path d="M745.9 29.8V126.0M1256.7 29.8V126.0" fill="none" stroke="#b0b0b0" stroke-width="0.8"/>
<path d="M745.9 29.8H1256.7M745.9 126.0H1256.7" fill="none" stroke="#a8a8a8" stroke-width="0.9"/>
<path d="M745.9 125.2L749.9 125.2L752.4 125.1L755.9 125.1L759.9 125.4L763.9 125.3L769.9 125L773.9 124.9L779.9 124.9L782.4 124.6L785.9 124.7L789.9 125.2L794.9 125.3L799.9 125.3L803.4 125.4L806.9 125.3L809.9 125.3L813.9 124.5L817.4 124.3L821.4 125.3L824.9 125.4L828.9 125.3L832.5 125.4L836 125.5L840 125.4L843.5 125.4L845 125.4L848.5 125.3L855 125.3L859 125.4L862.5 125.5L865 125.4L870 125.3L875 125.4L882.5 125.5L886 125.2L890 123.1L894 124.5L899 125.1L902.5 124.9L906 125.1L910 125.3L912.5 125.2L916 125L920 123.9L923.5 124.2L927.5 125.1L932.5 125.4L936 125.5L940 125.3L943.5 125.2L947.5 125L951.5 125.1L956 124.8L960 124L963.5 124.6L967.5 124.9L971.5 125.3L974 123.1L976.5 123.2L980 30.9L984 39.1L987.5 125.7L991 125.5L995 120.6L998.5 125.2L1002.1 125.7L1005.1 125.2L1008.1 125.1L1011.1 125.3L1014.6 125.3L1018.1 125.2L1021.6 124.5L1025.1 123.3L1028.6 124.2L1032.1 125.4L1035.6 125.4L1039.1 125.4L1042.6 125L1046.1 125L1049.1 125L1052.1 124.8L1055.6 125.2L1059.1 125.2L1062.6 125.3L1066.1 125.4L1069.6 125.6L1073.1 125.6L1076.6 125.4L1080.1 125.3L1083.6 125.2L1087.1 125L1090.6 125.2L1094.1 125.2L1097.6 125.3L1101.1 125.5L1104.6 125.2L1108.1 124.8L1111.6 124.8L1115.1 124.6L1118.6 125L1122.1 125.1L1125.1 125L1128.6 125.3L1132.1 125.2L1135.1 125.3L1138.6 125.1L1142.1 124.7L1145.6 124.1L1149.1 123.6L1152.6 124.7L1156.1 124.9L1159.6 124.1L1163.1 124.4L1166.6 125L1170.1 124.8L1173.7 124.9L1177.2 124.8L1180.7 124.3L1184.2 125.2L1186.2 125.4L1190.2 125.3L1193.7 125.1L1197.2 125.2L1200.7 125.1L1205.2 125.3L1210.2 124.9L1215.2 125L1220.2 125L1225.2 125.2L1230.2 125.3L1234.2 125.3L1237.7 125.3L1241.7 125.1L1245.2 125.1L1249.2 125L1253.2 125.3L1256.7 125.3" stroke="#0072bd" stroke-width="1.0" fill="none" stroke-linejoin="round"/>
<path d="M745.9 126.0v-2.5M745.9 29.8v2.5M809.8 126.0v-2.5M809.8 29.8v2.5M873.6 126.0v-2.5M873.6 29.8v2.5M937.5 126.0v-2.5M937.5 29.8v2.5M1001.3 126.0v-2.5M1001.3 29.8v2.5M1065.1 126.0v-2.5M1065.1 29.8v2.5M1129.0 126.0v-2.5M1129.0 29.8v2.5M1192.8 126.0v-2.5M1192.8 29.8v2.5M1256.7 126.0v-2.5M1256.7 29.8v2.5M745.9 126.0h2.5M1256.7 126.0h-2.5M745.9 93.5h2.5M1256.7 93.5h-2.5M745.9 61.0h2.5M1256.7 61.0h-2.5" stroke="#777" stroke-width="0.7" fill="none"/>
<text x="738.0" y="142.9" font-size="14.6" textLength="15.9" lengthAdjust="spacingAndGlyphs">2.8</text>
<text x="798.6" y="142.9" font-size="14.6" textLength="22.2" lengthAdjust="spacingAndGlyphs">2.85</text>
<text x="865.7" y="142.9" font-size="14.6" textLength="15.9" lengthAdjust="spacingAndGlyphs">2.9</text>
<text x="926.3" y="142.9" font-size="14.6" textLength="22.2" lengthAdjust="spacingAndGlyphs">2.95</text>
<text x="998.1" y="142.9" font-size="14.6" textLength="6.4" lengthAdjust="spacingAndGlyphs">3</text>
<text x="1054.0" y="142.9" font-size="14.6" textLength="22.2" lengthAdjust="spacingAndGlyphs">3.05</text>
<text x="1121.1" y="142.9" font-size="14.6" textLength="15.9" lengthAdjust="spacingAndGlyphs">3.1</text>
<text x="1181.7" y="142.9" font-size="14.6" textLength="22.2" lengthAdjust="spacingAndGlyphs">3.15</text>
<text x="1248.8" y="142.9" font-size="14.6" textLength="15.9" lengthAdjust="spacingAndGlyphs">3.2</text>
<text x="735.9" y="130.8" font-size="14.6" textLength="6.4" lengthAdjust="spacingAndGlyphs">0</text>
<text x="735.9" y="98.3" font-size="14.6" textLength="6.4" lengthAdjust="spacingAndGlyphs">2</text>
<text x="735.9" y="65.8" font-size="14.6" textLength="6.4" lengthAdjust="spacingAndGlyphs">4</text>
<text x="924.8" y="24.2" font-size="15.2" textLength="152.9" lengthAdjust="spacingAndGlyphs">Short-Time Energy (STE)</text>
<text x="976.3" y="159.3" font-size="15.2" textLength="49.9" lengthAdjust="spacingAndGlyphs">Time (s)</text>
<text x="656.8" y="77.9" font-size="15.2" textLength="148.6" lengthAdjust="spacingAndGlyphs" transform="rotate(-90 731.1 77.9)">Short-Time Energy (a.u.)</text>
<path d="M809.8 183.1V279.9M873.6 183.1V279.9M937.5 183.1V279.9M1001.3 183.1V279.9M1065.1 183.1V279.9M1129.0 183.1V279.9M1192.8 183.1V279.9M745.9 255.5H1256.7M745.9 231.0H1256.7M745.9 206.6H1256.7" stroke="#f2f2f2" stroke-width="0.8" fill="none"/>
<path d="M745.9 183.1V279.9M1256.7 183.1V279.9" fill="none" stroke="#b0b0b0" stroke-width="0.8"/>
<path d="M745.9 183.1H1256.7M745.9 279.9H1256.7" fill="none" stroke="#a8a8a8" stroke-width="0.9"/>
<path d="M745.9 274.9L749.9 277.4L752.4 276.4L755.9 277.9L759.9 276.4L763.9 275.9L769.9 269.9L773.9 272.4L779.9 279.9L782.4 279.9L785.9 276.4L789.9 273.9L794.9 275.4L799.9 274.4L803.4 273.4L806.9 267.4L809.9 268.9L813.9 279.9L817.4 274.9L821.4 272.4L824.9 273.9L828.9 271.9L832.5 270.9L836 273.4L840 270.4L843.5 269.9L845 275.9L848.5 273.9L855 269.9L859 272.4L862.5 277.4L865 270.9L870 272.9L875 271.4L882.5 265.9L886 273.9L890 278.4L894 274.9L899 274.4L902.5 267.9L906 266.4L910 270.9L912.5 272.4L916 268.4L920 270.9L923.5 275.4L927.5 270.9L932.5 265.9L936 269.9L940 274.4L943.5 273.4L947.5 268.9L951.5 272.9L956 275.9L960 276.4L963.5 277.9L967.5 270.9L971.5 271.4L974 277.9L976.5 273.9L980 220L984 184.1L987.5 220L991 257.5L995 265.9L998.5 262.4L1002.1 252.5L1005.1 235L1008.1 211.1L1011.1 235L1014.6 259.9L1018.1 256L1021.6 264.9L1025.1 269.9L1028.6 237.5L1032.1 241.5L1035.6 253.5L1039.1 253.5L1042.6 251L1046.1 244L1049.1 246.5L1052.1 217.5L1055.6 206.6L1059.1 220L1062.6 250L1066.1 240L1069.6 210.1L1073.1 225L1076.6 241L1080.1 236.5L1083.6 247.5L1087.1 261.4L1090.6 267.4L1094.1 263.4L1097.6 268.9L1101.1 268.4L1104.6 266.9L1108.1 267.4L1111.6 261.4L1115.1 264.9L1118.6 262.4L1122.1 256.5L1125.1 256L1128.6 264.9L1132.1 274.9L1135.1 268.9L1138.6 268.4L1142.1 279.9L1145.6 279.9L1149.1 279.9L1152.6 279.9L1156.1 279.9L1159.6 278.4L1163.1 277.9L1166.6 273.4L1170.1 273.9L1173.7 277.4L1177.2 274.9L1180.7 277.4L1184.2 269.9L1186.2 266.4L1190.2 272.4L1193.7 275.9L1197.2 274.9L1200.7 268.9L1205.2 267.9L1210.2 268.4L1215.2 269.9L1220.2 277.9L1225.2 275.9L1230.2 274.9L1234.2 277.4L1237.7 273.9L1241.7 273.4L1245.2 268.4L1249.2 268.9L1253.2 272.4L1256.7 274.9" stroke="#0072bd" stroke-width="1.0" fill="none" stroke-linejoin="round"/>
<path d="M745.9 279.9v-2.5M745.9 183.1v2.5M809.8 279.9v-2.5M809.8 183.1v2.5M873.6 279.9v-2.5M873.6 183.1v2.5M937.5 279.9v-2.5M937.5 183.1v2.5M1001.3 279.9v-2.5M1001.3 183.1v2.5M1065.1 279.9v-2.5M1065.1 183.1v2.5M1129.0 279.9v-2.5M1129.0 183.1v2.5M1192.8 279.9v-2.5M1192.8 183.1v2.5M1256.7 279.9v-2.5M1256.7 183.1v2.5M745.9 279.9h2.5M1256.7 279.9h-2.5M745.9 255.5h2.5M1256.7 255.5h-2.5M745.9 231.0h2.5M1256.7 231.0h-2.5M745.9 206.6h2.5M1256.7 206.6h-2.5" stroke="#777" stroke-width="0.7" fill="none"/>
<text x="738.0" y="296.8" font-size="14.6" textLength="15.9" lengthAdjust="spacingAndGlyphs">2.8</text>
<text x="798.6" y="296.8" font-size="14.6" textLength="22.2" lengthAdjust="spacingAndGlyphs">2.85</text>
<text x="865.7" y="296.8" font-size="14.6" textLength="15.9" lengthAdjust="spacingAndGlyphs">2.9</text>
<text x="926.3" y="296.8" font-size="14.6" textLength="22.2" lengthAdjust="spacingAndGlyphs">2.95</text>
<text x="998.1" y="296.8" font-size="14.6" textLength="6.4" lengthAdjust="spacingAndGlyphs">3</text>
<text x="1054.0" y="296.8" font-size="14.6" textLength="22.2" lengthAdjust="spacingAndGlyphs">3.05</text>
<text x="1121.1" y="296.8" font-size="14.6" textLength="15.9" lengthAdjust="spacingAndGlyphs">3.1</text>
<text x="1181.7" y="296.8" font-size="14.6" textLength="22.2" lengthAdjust="spacingAndGlyphs">3.15</text>
<text x="1248.8" y="296.8" font-size="14.6" textLength="15.9" lengthAdjust="spacingAndGlyphs">3.2</text>
<text x="735.9" y="284.7" font-size="14.6" textLength="6.4" lengthAdjust="spacingAndGlyphs">0</text>
<text x="729.6" y="260.3" font-size="14.6" textLength="12.7" lengthAdjust="spacingAndGlyphs">50</text>
<text x="723.2" y="235.8" font-size="14.6" textLength="19.1" lengthAdjust="spacingAndGlyphs">100</text>
<text x="723.2" y="211.4" font-size="14.6" textLength="19.1" lengthAdjust="spacingAndGlyphs">150</text>
<text x="877.9" y="178.4" font-size="15.2" textLength="246.7" lengthAdjust="spacingAndGlyphs">Short-Time Zero-Crossing Rate (STZCR)</text>
<text x="976.3" y="313.2" font-size="15.2" textLength="49.9" lengthAdjust="spacingAndGlyphs">Time (s)</text>
<text x="644.3" y="231.5" font-size="15.2" textLength="145.4" lengthAdjust="spacingAndGlyphs" transform="rotate(-90 717.0 231.5)">Zero-Crossing Rate (Hz)</text>
<text x="979.3" y="344.4" font-size="16.6" textLength="18.4" lengthAdjust="spacingAndGlyphs">(c)</text>
<path d="M431.4 390.5V473.4M495.5 390.5V473.4M559.5 390.5V473.4M367.3 431.9H623.6" stroke="#f2f2f2" stroke-width="0.8" fill="none"/>
<path d="M367.3 390.5V473.4M623.6 390.5V473.4" fill="none" stroke="#dadada" stroke-width="0.8"/>
<path d="M367.3 390.5H623.6M367.3 473.4H623.6" fill="none" stroke="#d2d2d2" stroke-width="0.9"/>
<path d="M367.3 473.4L367.4 473.4L367.5 473.4L367.6 473.4L367.7 473.4L367.8 473.4L367.9 473.4L368 473.4L368.1 473.4L368.2 473.4L368.3 473.4L368.4 473.4L368.5 473.4L368.6 473.4L368.7 473.4L368.8 473.4L368.9 473.4L369 473.4L369.1 473.4L369.2 473.4L369.3 473.4L369.4 473.4L369.5 473.4L369.6 473.4L369.7 473.4L369.8 473.4L369.9 473.4L370 473.4L370.1 473.4L370.2 473.4L370.3 473.4L370.4 473.4L370.5 473.4L370.6 473.4L370.7 473.4L370.8 473.4L370.9 473.4L371 473.4L371.1 473.4L371.2 473.4L371.3 473.4L371.4 473.4L371.5 473.4L371.6 473.4L371.7 473.4L371.8 473.4L371.9 473.4L372 473.4L372.1 473.4L372.2 473.4L372.3 473.4L372.4 473.4L372.5 473.4L372.6 473.4L372.7 473.4L372.8 473.4L372.9 473.4L373 473.4L373.1 473.4L373.2 473.4L373.3 473.4L373.4 473.4L373.5 473.4L373.6 473.4L373.7 473.4L373.8 473.4L373.9 473.4L374 473.4L374.1 473.4L374.2 473.4L374.3 473.4L374.4 473.4L374.5 473.4L374.6 473.4L374.7 473.4L374.8 473.4L374.9 473.4L375 473.4L375.1 473.4L375.2 473.4L375.3 473.4L375.4 473.4L375.5 473.4L375.6 473.4L375.7 473.4L375.8 473.4L375.9 473.4L376 473.4L376.1 473.4L376.2 473.4L376.3 473.4L376.4 473.4L376.5 473.4L376.6 473.4L376.7 473.4L376.8 473.4L376.9 473.4L377 473.4L377.1 473.4L377.2 473.4L377.3 473.4L377.4 473.4L377.5 473.4L377.6 473.4L377.7 473.4L377.8 473.4L377.9 473.4L378 473.4L378.1 473.4L378.2 473.4L378.3 473.4L378.4 473.4L378.5 473.4L378.6 473.4L378.7 473.4L378.8 473.4L378.9 473.4L379 473.4L379.1 473.4L379.2 473.4L379.3 473.4L379.4 473.4L379.5 473.4L379.6 473.4L379.7 473.4L379.8 473.4L379.9 473.4L380 473.4L380.1 473.4L380.2 473.4L380.3 473.4L380.4 473.4L380.5 473.4L380.6 473.4L380.7 473.4L380.8 473.4L380.9 473.4L381 473.4L381.1 473.4L381.2 473.4L381.3 473.4L381.4 473.4L381.5 473.4L381.6 473.4L381.7 473.4L381.8 473.4L381.9 473.4L382 473.4L382.1 473.4L382.2 473.4L382.3 473.4L382.4 473.4L382.5 473.4L382.6 473.4L382.7 473.4L382.8 473.4L382.9 473.4L383 473.4L383.1 473.4L383.2 473.4L383.3 473.4L383.4 473.4L383.5 473.4L383.6 473.4L383.7 473.4L383.8 473.4L383.9 473.4L384 473.4L384.1 473.4L384.2 473.4L384.3 473.4L384.4 473.4L384.5 473.4L384.6 473.4L384.7 473.4L384.8 473.4L384.9 473.4L385 473.4L385.1 473.4L385.2 473.4L385.3 473.4L385.4 473.4L385.5 473.4L385.6 473.4L385.7 473.4L385.8 473.4L385.9 473.4L386 473.4L386.1 473.4L386.2 473.4L386.3 473.4L386.4 473.4L386.5 473.4L386.6 473.4L386.7 473.4L386.8 473.4L386.9 473.4L387 473.4L387.1 473.4L387.2 473.4L387.3 473.4L387.4 473.4L387.5 473.4L387.6 473.4L387.7 473.4L387.8 473.4L387.9 473.4L388 473.4L388.1 473.4L388.2 473.4L388.3 473.4L388.4 473.4L388.5 473.4L388.6 473.4L388.7 473.4L388.8 473.4L388.9 473.4L389 473.4L389.1 473.4L389.2 473.4L389.3 473.4L389.4 473.4L389.5 473.4L389.6 473.4L389.7 473.4L389.8 473.4L389.9 473.4L390 473.4L390.1 473.4L390.2 473.4L390.3 473.4L390.4 473.4L390.5 473.4L390.6 473.4L390.7 473.4L390.8 473.4L390.9 473.4L391 473.4L391.1 473.4L391.2 473.4L391.3 473.4L391.4 473.4L391.5 473.4L391.6 473.4L391.7 473.4L391.8 473.4L391.9 473.4L392 473.4L392.1 473.4L392.2 473.4L392.3 473.4L392.4 473.4L392.5 473.4L392.6 473.4L392.7 473.4L392.8 473.4L392.9 473.4L393 473.4L393.1 473.4L393.2 473.4L393.3 473.4L393.4 473.4L393.5 473.4L393.6 473.4L393.7 473.4L393.8 473.4L393.9 473.4L394 473.4L394.1 473.4L394.2 473.4L394.3 473.4L394.4 473.4L394.5 473.4L394.6 473.4L394.7 473.4L394.8 473.4L394.9 473.4L395 473.4L395.1 473.4L395.2 473.4L395.3 473.4L395.4 473.4L395.5 473.4L395.6 473.4L395.7 473.4L395.8 473.4L395.9 473.4L396 473.4L396.1 473.4L396.2 473.4L396.3 473.4L396.4 473.4L396.5 473.4L396.6 473.4L396.7 473.4L396.8 473.4L396.9 473.4L397 473.4L397.1 473.4L397.2 473.4L397.3 473.4L397.4 473.4L397.5 473.4L397.6 473.4L397.7 473.4L397.8 473.4L397.9 473.4L398 473.4L398.1 473.4L398.2 473.4L398.3 473.4L398.4 473.4L398.5 473.4L398.6 473.4L398.7 473.4L398.8 473.4L398.9 473.4L399 473.4L399.1 473.4L399.2 473.4L399.3 473.4L399.4 473.4L399.5 473.4L399.6 473.4L399.7 473.4L399.8 473.4L399.9 473.4L400 473.4L400.1 473.4L400.2 473.4L400.3 473.4L400.4 473.4L400.5 473.4L400.6 473.4L400.7 473.4L400.8 473.4L400.9 473.4L401 473.4L401.1 473.4L401.2 473.4L401.3 473.4L401.4 473.4L401.5 473.4L401.6 473.4L401.7 473.4L401.8 473.4L401.9 473.4L402 473.4L402.1 473.4L402.2 473.4L402.3 473.4L402.4 473.4L402.5 473.4L402.6 473.4L402.7 473.4L402.8 473.4L402.9 473.4L403 473.4L403.1 473.4L403.2 473.4L403.3 473.4L403.4 473.4L403.5 473.4L403.6 473.4L403.7 473.4L403.8 473.4L403.9 473.4L404 473.4L404.1 473.4L404.2 473.4L404.3 473.4L404.4 473.4L404.5 473.4L404.6 473.4L404.7 473.4L404.8 473.4L404.9 473.4L405 473.4L405.1 473.4L405.2 473.4L405.3 473.4L405.4 473.4L405.5 473.4L405.6 473.4L405.7 473.4L405.8 473.4L405.9 473.4L406 473.4L406.1 473.4L406.2 473.4L406.3 473.4L406.4 473.4L406.5 473.4L406.6 473.4L406.7 473.4L406.8 473.4L406.9 473.4L407 473.4L407.1 473.4L407.2 473.4L407.3 473.4L407.4 473.4L407.5 473.4L407.6 473.4L407.7 473.4L407.8 473.4L407.9 473.4L408 473.4L408.1 473.4L408.2 473.4L408.3 473.4L408.4 473.4L408.5 473.4L408.6 473.4L408.7 473.4L408.8 473.4L408.9 473.4L409 473.4L409.1 473.4L409.2 473.4L409.3 473.4L409.4 473.4L409.5 473.4L409.6 473.4L409.7 473.4L409.8 473.4L409.9 473.4L410 473.4L410.1 473.4L410.2 473.4L410.3 473.4L410.4 473.4L410.5 473.4L410.6 473.4L410.7 473.4L410.8 473.4L410.9 473.4L411 473.4L411.1 473.4L411.2 457.6L411.3 446.7L411.4 438.4L411.4 434.7L411.5 428.4L411.6 428L411.7 426.2L411.8 421.2L411.8 420.2L411.9 417.2L412 414.6L412.1 417L412.2 412.7L412.2 417.2L412.3 414.1L412.4 426.4L412.5 414.9L412.6 415.7L412.6 415.3L412.7 413.4L412.8 418.5L412.9 414.1L413 415.9L413 419.8L413.1 413.1L413.2 414.6L413.3 414.5L413.4 416L413.4 412.2L413.5 414.7L413.6 412.2L413.7 416.1L413.8 409.9L413.8 415L413.9 410.1L414 413.5L414.1 411.2L414.2 412.6L414.2 410.7L414.3 412L414.4 409.1L414.5 410.3L414.6 410.2L414.6 407.8L414.7 413L414.8 408.4L414.9 411L415 414.4L415 409.8L415.1 411.2L415.2 406.9L415.3 411.6L415.4 410.3L415.4 409.8L415.5 414.5L415.6 408.9L415.7 412.2L415.8 425.3L415.8 431.5L415.9 422.3L416 413.1L416.1 408.9L416.2 408.8L416.2 407.4L416.3 409.6L416.4 411.6L416.5 409L416.6 410.7L416.6 404.3L416.7 409.9L416.8 409.7L416.9 408.2L417 410.8L417 408.8L417.1 408L417.2 408.7L417.3 408L417.4 404.3L417.4 406.1L417.5 410.2L417.6 407.9L417.7 405L417.8 408.2L417.8 406.3L417.9 406.5L418 405L418.1 406.6L418.2 406.4L418.2 408L418.3 404.9L418.4 407.9L418.5 401.3L418.6 405.5L418.6 406L418.7 403.9L418.8 405.8L418.9 405.5L419 405.9L419 407.4L419.1 408L419.2 407.6L419.3 403.5L419.4 407.6L419.4 407.1L419.5 407.3L419.6 404.7L419.7 401.7L419.8 408.7L419.8 405.2L419.9 406.3L420 407.4L420.1 405.5L420.2 410L420.2 404.8L420.3 406.4L420.4 409.6L420.5 403L420.6 404.9L420.6 404.2L420.7 411.1L420.8 408.1L420.9 408.8L421 405.8L421 403.9L421.1 412.8L421.2 407.6L421.3 408.1L421.4 405L421.4 408L421.5 411.6L421.6 408.6L421.7 411.1L421.8 410.4L421.8 408.1L421.9 409.7L422 407.6L422.1 413L422.2 401.6L422.2 404.8L422.3 406.5L422.4 412.7L422.5 415.4L422.6 411.5L422.6 409.7L422.7 402.1L422.8 405L422.9 410.8L423 405.4L423.1 409.3L423.2 405.5L423.3 408.4L423.4 411.7L423.4 413.5L423.5 410.2L423.6 406.6L423.7 414.5L423.8 415.4L423.8 408.3L423.9 419.4L424 404.2L424.1 411.9L424.2 408L424.2 404.2L424.3 415.7L424.4 414.5L424.5 403.1L424.6 412L424.6 411.6L424.7 410.4L424.8 407.6L424.9 406.7L425 411.1L425 412.8L425.1 411.8L425.2 410.7L425.3 407.1L425.4 411.5L425.4 405.4L425.5 415.3L425.6 410.3L425.7 405.8L425.8 407.7L425.8 411.3L425.9 416L426 415.5L426.1 413.4L426.2 411.8L426.2 414L426.3 418.7L426.4 416.1L426.5 411.3L426.6 410.2L426.6 419L426.7 415.1L426.8 420.3L426.9 416L427 399.9L427 413.8L427.1 415.5L427.2 416.6L427.3 419.2L427.4 421.9L427.5 414.7L427.5 415.7L427.6 408.7L427.7 421.5L427.8 413.1L427.9 409.5L427.9 423.1L428 412.5L428.1 421.9L428.2 413.2L428.3 409.4L428.3 415.8L428.4 414.8L428.5 419.2L428.6 415.2L428.7 411.7L428.7 417.6L428.8 417.6L428.9 415.5L429 413.8L429.1 424.9L429.1 417.6L429.2 421.2L429.3 416L429.4 413.7L429.5 417.3L429.5 412.9L429.6 423.7L429.7 421.2L429.8 424.1L429.9 419.4L429.9 419.5L430 421.1L430.1 426.1L430.2 420.9L430.3 422.9L430.3 418L430.4 422.5L430.5 415.7L430.6 420.4L430.7 430.9L430.7 422.9L430.8 429.3L430.9 417.6L431 415.5L431.1 423L431.1 420.8L431.2 430.5L431.3 434.9L431.4 426.5L431.5 425.2L431.5 431.9L431.6 423.9L431.7 423L431.8 421.6L431.9 417.2L431.9 421.2L432 427.5L432.1 425.3L432.2 423L432.3 431.8L432.3 419.7L432.4 422.2L432.5 428.3L432.6 430.7L432.7 407.7L432.7 423.5L432.8 423.2L432.9 418.9L433 423.4L433.1 427.8L433.1 425.4L433.2 434.2L433.3 425.8L433.4 438L433.5 427.9L433.5 427.4L433.6 438.9L433.7 420.7L433.8 437.2L433.9 425.8L433.9 434.4L434 430.2L434.1 435.6L434.2 419.1L434.3 427.1L434.3 423.2L434.4 428.9L434.5 429.6L434.6 432.7L434.7 435.1L434.7 430.9L434.8 433.6L434.9 435.6L435 442.3L435.1 437L435.1 432.5L435.2 438.4L435.3 434.5L435.4 437.4L435.5 442.2L435.5 441.9L435.6 441.3L435.7 439.3L435.8 439.5L435.9 432.8L435.9 444.3L436 449.4L436.1 436L436.2 442L436.3 440.6L436.3 427.7L436.4 433.4L436.5 438.1L436.6 436.6L436.7 441L436.7 437.2L436.8 445.1L436.9 445.9L437 445L437.1 435.6L437.1 436.1L437.2 446.6L437.3 438.6L437.4 445.1L437.5 439.7L437.5 446.4L437.6 440.9L437.7 446.1L437.8 447.2L437.9 446.3L437.9 445.7L438 449.3L438.1 453.1L438.2 439.7L438.3 449.3L438.3 455.8L438.4 458L438.5 460.6L438.6 451.3L438.7 443L438.7 456.2L438.8 450.8L438.9 457.5L439 445.2L439.1 448.7L439.1 449.1L439.2 445.1L439.3 444.2L439.4 447L439.5 453.9L439.5 457.2L439.6 456.3L439.7 459.4L439.8 445.4L439.9 453.7L439.9 452.7L440 452.7L440.1 445.8L440.2 456.2L440.3 449.7L440.3 453.4L440.4 455.4L440.5 462.2L440.6 451.9L440.7 458.3L440.7 457.5L440.8 455.3L440.9 456.1L441 452.7L441.1 459.2L441.1 456.5L441.2 456.3L441.3 457.4L441.4 455.4L441.5 458.8L441.5 454.1L441.6 460.7L441.7 463.3L441.8 458.9L441.9 455.2L441.9 460.8L442 461.4L442.1 460.7L442.2 459.3L442.3 460.5L442.3 459.3L442.4 465.6L442.5 456.2L442.6 459.1L442.7 463.6L442.7 457.3L442.8 460.2L442.9 457.6L443 465.1L443.1 457.6L443.1 462.2L443.2 468L443.3 460.8L443.4 463.7L443.5 465.7L443.5 463.9L443.6 468.3L443.7 462.4L443.8 464.5L443.9 464.8L443.9 461.2L444 464.5L444.1 466.3L444.2 467.1L444.3 465.3L444.4 463L444.4 466.6L444.5 467.6L444.6 463.7L444.7 465.6L444.8 465.9L444.8 461.8L444.9 468.4L445 465.8L445.1 469.7L445.2 467L445.2 465.4L445.3 464.5L445.4 469.1L445.5 465.3L445.6 465.6L445.6 467.3L445.7 462.9L445.8 467.3L445.9 468.9L446 466.8L446 470.7L446.1 465.3L446.2 466.3L446.3 468.6L446.4 467.2L446.4 467.4L446.5 465.5L446.6 469.4L446.7 470.4L446.8 471.5L446.8 469.2L446.9 471L447 469.3L447.1 468.6L447.2 469.8L447.2 470.5L447.3 468.1L447.4 469.9L447.5 469.4L447.6 468.7L447.6 471.2L447.7 470.8L447.8 467.2L447.9 470.1L448 471.1L448 470.3L448.1 470.7L448.2 471.4L448.3 470.6L448.4 470.3L448.5 469.8L448.6 472L448.7 471.8L448.8 469.8L448.8 471L448.9 469.6L449 470.4L449.1 471.9L449.2 470.3L449.2 471.7L449.3 470.7L449.4 470L449.5 469.4L449.6 471.1L449.6 470.6L449.7 470.9L449.8 470.6L449.9 473L450 471.6L450 471.2L450.1 471.1L450.2 471.9L450.3 471L450.4 470.9L450.4 471.6L450.5 471.8L450.6 471.9L450.7 471.7L450.8 471.1L450.8 471L450.9 472.1L451 472.3L451.1 472.3L451.2 471.4L451.2 471.8L451.3 471.8L451.4 471.7L451.5 471.8L451.6 472.1L451.6 472.5L451.7 472.3L451.8 472L451.9 472L452 472.3L452.1 471.6L452.2 472.4L452.3 472.2L452.4 472.4L452.4 472.6L452.5 472.9L452.6 472.5L452.7 472.7L452.8 472.1L452.8 472.8L452.9 472.6L453 472.3L453.1 472.5L453.2 472.4L453.2 472.3L453.3 473L453.4 472.7L453.5 472.9L453.6 472.3L453.6 472.7L453.7 472.6L453.8 472.3L453.9 472.8L454 472.7L454.1 472.8L454.2 472.5L454.3 472.6L454.4 472.6L454.4 472.8L454.5 472.9L454.6 472.9L454.7 472.9L454.8 473.2L454.8 472.8L454.9 472.7L455 472.9L455.1 473L455.2 472.9L455.2 472.8L455.3 472.8L455.4 472.6L455.5 473.1L455.6 472.8L455.7 472.9L455.8 473L455.9 473.1L456 473L456 472.9L456.1 472.8L456.2 473.1L456.3 472.9L456.4 472.9L456.5 473L456.6 473L456.7 472.9L456.8 473.2L456.8 473L456.9 473.3L457 473.3L457.1 473.2L457.2 473.3L457.2 473L457.3 473L457.4 473.1L457.5 473.1L457.6 473.1L457.6 473.2L457.7 473.1L457.8 473.1L457.9 473.2L458 473.2L458.1 473.1L458.2 473.2L458.3 473.1L458.4 473.2L458.4 473.1L458.5 473.3L458.6 473.3L458.7 473.2L458.8 473.2L458.9 473.1L459 473.2L459.1 473.2L459.2 473.3L459.2 473.1L459.3 473.2L459.4 473.2L459.5 473.3L459.6 473.2L459.6 473.3L459.7 473.2L459.8 473.2L459.9 473.3L460 473.2L460.1 473.2L460.2 473.3L460.3 473.3L460.4 473.3L460.5 473.2L460.6 473.2L460.7 473.3L460.8 473.2L460.8 473.3L460.9 473.4L461 473.2L461.1 473.2L461.2 473.3L461.3 473.2L461.4 473.3L461.5 473.3L461.6 473.3L461.7 473.2L461.7 473.3L461.8 473.2L461.9 473.2L462 473.3L462.1 473.2L462.1 473.3L462.2 473.1L462.3 473.3L462.4 473.2L462.5 473.2L462.6 473.2L462.7 473.2L462.8 473.3L462.9 473.2L463 473.3L463.1 473.3L463.2 473.2L463.3 473.3L463.4 473.3L463.5 473.2L463.6 473.2L463.7 473.2L463.8 473.2L463.9 473.2L464 473.1L464.1 473.3L464.1 473.1L464.2 473.3L464.3 473.2L464.4 473.2L464.5 473.3L464.5 473.4L464.6 473.1L464.7 473.3L464.8 473.3L464.9 473.2L465 473.1L465.1 473.1L465.2 473.2L465.3 473.2L465.4 473.3L465.5 473.2L465.6 473.2L465.7 473.3L465.7 473.2L465.8 473.3L465.9 473.2L466 473.2L466.1 473.3L466.1 473.2L466.2 473.1L466.3 473.2L466.4 473.3L466.5 473.3L466.5 473.2L466.6 473.1L466.7 473.3L466.8 473.2L466.9 473.3L467 473.2L467.1 473.2L467.2 473.3L467.3 473.1L467.3 473.2L467.4 473.2L467.5 473.2L467.6 473.2L467.7 473.3L467.7 473.2L467.8 473.3L467.9 473.2L468 473.2L468.1 473.2L468.2 473.2L468.3 473.3L468.4 473.2L468.5 473.2L468.6 473.2L468.7 473.3L468.8 473.3L468.9 473.2L469 473.2L469.1 473.2L469.2 473.3L469.3 473.2L469.3 473.3L469.4 473.3L469.5 473.4L469.6 473.3L469.7 473.3L469.7 473.2L469.8 473.2L469.9 473.2L470 473.2L470.1 473.3L470.1 473.2L470.2 473.2L470.3 473.3L470.4 473.1L470.5 473.3L470.6 473.3L470.7 473.2L470.8 473.3L470.9 473.4L470.9 473.3L471 473.2L471.1 473.1L471.2 473.2L471.3 473.2L471.3 473.3L471.4 473.2L471.5 473.3L471.6 473.2L471.7 473.2L471.7 473.3L471.8 473.2L471.9 473.3L472 473.3L472.1 473.1L472.1 473.2L472.2 473.3L472.3 473.3L472.4 473.2L472.5 473.2L472.6 473.1L472.7 473.2L472.8 473.3L472.9 473.1L472.9 473.2L473 473.2L473.1 473.2L473.2 473.3L473.3 473.3L473.4 473.2L473.5 473.3L473.6 473.3L473.7 473.1L473.7 473.2L473.8 473.3L473.9 473.1L474 473.3L474.1 473.2L474.1 473.3L474.2 473.2L474.3 473.3L474.4 473.3L474.5 473.2L474.5 473.3L474.6 473.2L474.7 473.3L474.8 473.2L474.9 473.3L475 473.2L475.1 473.2L475.2 473.4L475.3 473.2L475.4 473.3L475.5 473.3L475.6 473.2L475.7 473.3L475.8 473.1L475.9 473.3L476 473.3L476.1 473.4L476.1 473.3L476.2 473.3L476.3 473.1L476.4 473.2L476.5 473.3L476.5 473.1L476.6 473.2L476.7 473.3L476.8 473.2L476.9 473.2L476.9 473.3L477 473.4L477.1 473.3L477.2 473.2L477.3 473.3L477.4 473.2L477.5 473.3L477.6 473.2L477.7 473.3L477.7 473.2L477.8 473.3L477.9 473.2L478 473.3L478.1 473.4L478.1 473.2L478.2 473.2L478.3 473.2L478.4 473.2L478.5 473.3L478.6 473.3L478.6 473.4L478.7 473.3L478.8 473.2L478.9 473.2L479 473.2L479.1 473.2L479.2 473.2L479.3 473.4L479.4 473.3L479.4 473.2L479.5 473.2L479.6 473.2L479.7 473.3L479.8 473.3L479.9 473.3L480 473.4L480.1 473.2L480.2 473.3L480.3 473.1L480.4 473.2L480.5 473.3L480.6 473.2L480.6 473.3L480.7 473.2L480.8 473.2L480.9 473.3L481 473.2L481.1 473.3L481.2 473.3L481.3 473.1L481.4 473.2L481.5 473.3L481.6 473.2L481.7 473.3L481.8 473.2L481.8 473.3L481.9 473.3L482 473.2L482.1 473.2L482.2 473.4L482.2 473.3L482.3 473.3L482.4 473.3L482.5 473.3L482.6 473.3L482.6 473.2L482.7 473.3L482.8 473.4L482.9 473.3L483 473.2L483 473.3L483.1 473.2L483.2 473.2L483.3 473.3L483.4 473.2L483.4 473.3L483.5 473.3L483.6 473.3L483.7 473.2L483.8 473.2L483.8 473.3L483.9 473.2L484 473.4L484.1 473.3L484.2 473.3L484.2 473.1L484.3 473.3L484.4 473.2L484.5 473.4L484.6 473.2L484.7 473.2L484.8 473.4L484.9 473.2L485 473.2L485.1 473.2L485.2 473.3L485.3 473.3L485.4 473.2L485.4 473.3L485.5 473.2L485.6 473.3L485.7 473.2L485.8 473.2L485.8 473.3L485.9 473.1L486 473.2L486.1 473.2L486.2 473.3L486.2 473.2L486.3 473.3L486.4 473.3L486.5 473.3L486.6 473.2L486.6 473.3L486.7 473.4L486.8 473.4L486.9 473.3L487 473.3L487 473.2L487.1 473.3L487.2 473.2L487.3 473.3L487.4 473.3L487.5 473.2L487.6 473.2L487.7 473.2L487.8 473.3L487.9 473.3L488 473.3L488.1 473.3L488.2 473.3L488.2 473.2L488.3 473.2L488.4 473.2L488.5 473.2L488.6 473.2L488.7 473.2L488.8 473.2L488.9 473.2L489 473.3L489.1 473.3L489.2 473.1L489.3 473.2L489.4 473.2L489.4 473.3L489.5 473.3L489.6 473.1L489.7 473.3L489.8 473.3L489.9 473.3L490 473.3L490.1 473.3L490.2 473.3L490.3 473.2L490.4 473.3L490.5 473.2L490.6 473.2L490.7 473.3L490.8 473.4L490.9 473.2L491 473.2L491 473.3L491.1 473.2L491.2 473.3L491.3 473.2L491.4 473.3L491.4 473.2L491.5 473.3L491.6 473.3L491.7 473.2L491.8 473.2L491.8 473.3L491.9 473.2L492 473.2L492.1 473.3L492.2 473.3L492.2 473.2L492.3 473.3L492.4 473.2L492.5 473.2L492.6 473.3L492.6 473.1L492.7 473.3L492.8 473.3L492.9 473.1L493 473.1L493 473.2L493.1 473.3L493.2 473.3L493.3 473.2L493.4 473.2L493.4 473.3L493.5 473.2L493.6 473.2L493.7 473.2L493.8 473.1L493.8 473.2L493.9 473.2L494 473.3L494.1 473.2L494.2 473.2L494.3 473.2L494.4 473.2L494.5 473.2L494.6 473.2L494.6 473.3L494.7 473.3L494.8 473.2L494.9 473.2L495 473.3L495 473.2L495.1 473.3L495.2 473.4L495.3 473.3L495.4 473.3L495.5 473.2L495.5 473.3L495.6 473.2L495.7 473.3L495.8 473.2L495.9 473.3L496 473.3L496.1 473.2L496.2 473.2L496.3 473.3L496.3 473.2L496.4 473.3L496.5 473.3L496.6 473.2L496.7 473.2L496.7 473.3L496.8 473.3L496.9 473.3L497 473.1L497.1 473.3L497.1 473.2L497.2 473.3L497.3 473.2L497.4 473.3L497.5 473.3L497.6 473.1L497.7 473.3L497.8 473.2L497.9 473.3L498 473.2L498.1 473.2L498.2 473.1L498.3 473.3L498.4 473.3L498.5 473.3L498.6 473.3L498.7 473.2L498.7 473.4L498.8 473.2L498.9 473.2L499 473.3L499.1 473.3L499.2 473.3L499.3 473.2L499.4 473.3L499.5 473.3L499.6 473.3L499.7 473.3L499.8 473.4L499.9 473.3L500 473.3L500.1 473.2L500.2 473.1L500.3 473.2L500.4 473.1L500.5 473.3L500.6 473.3L500.7 473.1L500.7 473.3L500.8 473.3L500.9 473.3L501 473.2L501.1 473.3L501.1 473.2L501.2 473.3L501.3 473.3L501.4 473.2L501.5 473.2L501.5 473.3L501.6 473.3L501.7 473.3L501.8 473.2L501.9 473.2L502 473.2L502.1 473.3L502.2 473.2L502.3 473.3L502.4 473.3L502.5 473.2L502.6 473.3L502.7 473.2L502.7 473.4L502.8 473.3L502.9 473.2L503 473.3L503.1 473.2L503.1 473.3L503.2 473.3L503.3 473.2L503.4 473.3L503.5 473.2L503.5 473.3L503.6 473.3L503.7 473.3L503.8 473.3L503.9 473.3L503.9 473.2L504 473.4L504.1 473.2L504.2 473.2L504.3 473.2L504.3 473.3L504.4 473.4L504.5 473.3L504.6 473.3L504.7 473.2L504.7 473.3L504.8 473.3L504.9 473.2L505 473.3L505.1 473.2L505.1 473.3L505.2 473.2L505.3 473.2L505.4 473.3L505.5 473.3L505.5 473.2L505.6 473.3L505.7 473.2L505.8 473.2L505.9 473.2L506 473.3L506.1 473.3L506.2 473.2L506.3 473.2L506.4 473.3L506.5 473.3L506.6 473.2L506.7 473.2L506.8 473.3L506.9 473.3L507 473.2L507.1 473.2L507.1 473.3L507.2 473.2L507.3 473.3L507.4 473.2L507.5 473.3L507.5 473.2L507.6 473.3L507.7 473.2L507.8 473.2L507.9 473.3L508 473.3L508.1 473.3L508.2 473.3L508.3 473.3L508.3 473.2L508.4 473.2L508.5 473.3L508.6 473.3L508.7 473.2L508.7 473.3L508.8 473.3L508.9 473.2L509 473.2L509.1 473.3L509.2 473.2L509.3 473.3L509.4 473.3L509.5 473.3L509.6 473.3L509.7 473.3L509.8 473.2L509.9 473.3L510 473.4L510.1 473.2L510.2 473.3L510.3 473.2L510.3 473.3L510.4 473.3L510.5 473.2L510.6 473.3L510.7 473.3L510.8 473.2L510.9 473.2L511 473.3L511.1 473.2L511.1 473.3L511.2 473.2L511.3 473.4L511.4 473.4L511.5 473.1L511.5 473.2L511.6 473.2L511.7 473.4L511.8 473.2L511.9 473.2L511.9 473.3L512 473.2L512.1 473.3L512.2 473.3L512.3 473.3L512.4 473.2L512.5 473.3L512.6 473.3L512.7 473.3L512.8 473.3L512.8 473.2L512.9 473.2L513 473.2L513.1 473.3L513.2 473.3L513.2 473.2L513.3 473.3L513.4 473.3L513.5 473.3L513.6 473.2L513.6 473.3L513.7 473.3L513.8 473.2L513.9 473.2L514 473.2L514.1 473.2L514.2 473.3L514.3 473.3L514.4 473.3L514.5 473.2L514.6 473.3L514.7 473.3L514.8 473.2L514.8 473.3L514.9 473.3L515 473.3L515.1 473.3L515.2 473.4L515.2 473.3L515.3 473.3L515.4 473.3L515.5 473.3L515.6 473.2L515.6 473.3L515.7 473.2L515.8 473.3L515.9 473.3L516 473.2L516.1 473.3L516.2 473.3L516.3 473.3L516.4 473.3L516.5 473.3L516.6 473.2L516.7 473.2L516.8 473.2L516.9 473.3L517 473.1L517.1 473.2L517.2 473.1L517.2 473.2L517.3 473.2L517.4 473.2L517.5 473.3L517.6 473.2L517.6 473.3L517.7 473.2L517.8 473.3L517.9 473.2L518 473.3L518 473.4L518.1 473.2L518.2 473.2L518.3 473.3L518.4 473.3L518.5 473.3L518.6 473.4L518.7 473.2L518.8 473.2L518.8 473.3L518.9 473.4L519 473.2L519.1 473.2L519.2 473.2L519.3 473.3L519.4 473.3L519.5 473.3L519.6 473.2L519.7 473.4L519.8 473.4L519.9 473.2L520 473.3L520.1 473.2L520.2 473.2L520.3 473.2L520.4 473.4L520.4 473.3L520.5 473.3L520.6 473.3L520.7 473.2L520.8 473.3L520.9 473.3L521 473.3L521.1 473.2L521.2 473.3L521.2 473.2L521.3 473.3L521.4 473.2L521.5 473.3L521.6 473.3L521.7 473.3L521.8 473.4L521.9 473.1L522 473.3L522.1 473.3L522.2 473.3L522.3 473.2L522.4 473.3L522.5 473.3L522.6 473.3L522.7 473.3L522.8 473.2L522.8 473.3L522.9 473.3L523 473.3L523.1 473.2L523.2 473.4L523.2 473.3L523.3 473.3L523.4 473.2L523.5 473.3L523.6 473.4L523.6 473.3L523.7 473.2L523.8 473.3L523.9 473.2L524 473.3L524.1 473.2L524.2 473.3L524.3 473.3L524.4 473.3L524.5 473.2L524.6 473.3L524.7 473.3L524.8 473.2L524.9 473.3L525 473.3L525.1 473.2L525.2 473.1L525.2 473.3L525.3 473.4L525.4 473.3L525.5 473.3L525.6 473.3L525.7 473.2L525.8 473.2L525.9 473.2L526 473.2L526 473.3L526.1 473.2L526.2 473.3L526.3 473.3L526.4 473.3L526.4 473.2L526.5 473.2L526.6 473.3L526.7 473.3L526.8 473.3L526.9 473.2L527 473.3L527.1 473.2L527.2 473.3L527.3 473.4L527.4 473.2L527.5 473.2L527.6 473.2L527.7 473.2L527.8 473.2L527.9 473.4L528 473.3L528 473.4L528.1 473.3L528.2 473.3L528.3 473.3L528.4 473.3L528.5 473.3L528.6 473.3L528.7 473.3L528.8 473.3L528.8 473.4L528.9 473.3L529 473.2L529.1 473.3L529.2 473.3L529.3 473.3L529.4 473.3L529.5 473.2L529.6 473.3L529.7 473.3L529.8 473.2L529.9 473.3L530 473.3L530.1 473.2L530.1 473.3L530.2 473.3L530.3 473.4L530.4 473.3L530.5 473.3L530.6 473.2L530.7 473.3L530.8 473.3L530.9 473.3L530.9 473.4L531 473.3L531.1 473.4L531.2 473.2L531.3 473.2L531.3 473.3L531.4 473.4L531.5 473.3L531.6 473.3L531.7 473.3L531.8 473.3L531.9 473.3L532 473.2L532.1 473.2L532.1 473.3L532.2 473.2L532.3 473.3L532.4 473.3L532.5 473.2L532.5 473.3L532.6 473.3L532.7 473.3L532.8 473.3L532.9 473.3L532.9 473.2L533 473.2L533.1 473.3L533.2 473.2L533.3 473.2L533.3 473.3L533.4 473.2L533.5 473.3L533.6 473.2L533.7 473.3L533.7 473.1L533.8 473.3L533.9 473.2L534 473.3L534.1 473.3L534.1 473.2L534.2 473.3L534.3 473.3L534.4 473.3L534.5 473.3L534.5 473.2L534.6 473.2L534.7 473.2L534.8 473.3L534.9 473.3L535 473.3L535.1 473.2L535.2 473.3L535.3 473.3L535.3 473.2L535.4 473.2L535.5 473.2L535.6 473.4L535.7 473.3L535.8 473.3L535.9 473.3L536 473.3L536.1 473.4L536.1 473.3L536.2 473.3L536.3 473.2L536.4 473.3L536.5 473.3L536.5 473.4L536.6 473.3L536.7 473.3L536.8 473.3L536.9 473.3L537 473.4L537.1 473.3L537.2 473.4L537.3 473.4L537.3 473.2L537.4 473.3L537.5 473.3L537.6 473.3L537.7 473.3L537.7 473.2L537.8 473.3L537.9 473.2L538 473.3L538.1 473.4L538.1 473.2L538.2 473.2L538.3 473.3L538.4 473.2L538.5 473.3L538.6 473.4L538.7 473.2L538.8 473.3L538.9 473.3L539 473.3L539.1 473.2L539.2 473.3L539.3 473.3L539.4 473.3L539.5 473.2L539.6 473.3L539.7 473.3L539.8 473.2L539.9 473.3L540 473.3L540.1 473.2L540.1 473.3L540.2 473.4L540.3 473.3L540.4 473.3L540.5 473.2L540.5 473.3L540.6 473.3L540.7 473.2L540.8 473.2L540.9 473.3L540.9 473.2L541 473.2L541.1 473.3L541.2 473.4L541.3 473.3L541.3 473.2L541.4 473.3L541.5 473.2L541.6 473.3L541.7 473.3L541.7 473.2L541.8 473.3L541.9 473.2L542 473.3L542.1 473.2L542.1 473.3L542.2 473.3L542.3 473.3L542.4 473.3L542.5 473.3L542.6 473.3L542.7 473.3L542.8 473.3L542.9 473.2L543 473.2L543.1 473.3L543.2 473.3L543.3 473.4L543.3 473.3L543.4 473.3L543.5 473.4L543.6 473.2L543.7 473.4L543.7 473.3L543.8 473.3L543.9 473.3L544 473.1L544.1 473.3L544.2 473.2L544.3 473.3L544.4 473.3L544.5 473.3L544.6 473.3L544.7 473.3L544.8 473.4L544.9 473.3L544.9 473.2L545 473.3L545.1 473.3L545.2 473.2L545.3 473.2L545.3 473.3L545.4 473.3L545.5 473.3L545.6 473.2L545.7 473.2L545.7 473.4L545.8 473.4L545.9 473.3L546 473.4L546.1 473.3L546.2 473.2L546.3 473.2L546.4 473.3L546.5 473.2L546.5 473.3L546.6 473.3L546.7 473.3L546.8 473.2L546.9 473.4L547 473.2L547.1 473.3L547.2 473.3L547.3 473.3L547.4 473.3L547.4 473.2L547.5 473.3L547.6 473.2L547.7 473.2L547.8 473.2L547.8 473.4L547.9 473.4L548 473.2L548.1 473.3L548.2 473.3L548.3 473.3L548.4 473.3L548.5 473.3L548.6 473.3L548.7 473.3L548.8 473.2L548.9 473.4L549 473.2L549 473.3L549.1 473.3L549.2 473.2L549.3 473.3L549.4 473.2L549.4 473.3L549.5 473.4L549.6 473.3L549.7 473.2L549.8 473.3L549.8 473.4L549.9 473.3L550 473.3L550.1 473.3L550.2 473.2L550.2 473.3L550.3 473.3L550.4 473.4L550.5 473.2L550.6 473.3L550.6 473.2L550.7 473.3L550.8 473.3L550.9 473.3L551 473.2L551.1 473.3L551.2 473.2L551.3 473.3L551.4 473.3L551.5 473.2L551.6 473.3L551.7 473.2L551.8 473.2L551.8 473.4L551.9 473.2L552 473.3L552.1 473.3L552.2 473.4L552.2 473.3L552.3 473.4L552.4 473.3L552.5 473.3L552.6 473.2L552.6 473.3L552.7 473.2L552.8 473.2L552.9 473.2L553 473.3L553 473.2L553.1 473.4L553.2 473.3L553.3 473.3L553.4 473.3L553.5 473.3L553.6 473.2L553.7 473.3L553.8 473.3L553.9 473.2L554 473.2L554.1 473.3L554.2 473.3L554.2 473.2L554.3 473.3L554.4 473.3L554.5 473.3L554.6 473.3L554.6 473.2L554.7 473.3L554.8 473.1L554.9 473.3L555 473.3L555 473.2L555.1 473.3L555.2 473.3L555.3 473.3L555.4 473.3L555.5 473.3L555.6 473.3L555.7 473.4L555.8 473.3L555.9 473.3L556 473.3L556.1 473.4L556.2 473.2L556.2 473.3L556.3 473.3L556.4 473.2L556.5 473.2L556.6 473.3L556.7 473.3L556.8 473.2L556.9 473.3L557 473.3L557.1 473.3L557.2 473.3L557.3 473.3L557.4 473.2L557.4 473.3L557.5 473.2L557.6 473.3L557.7 473.3L557.8 473.3L557.9 473.3L558 473.2L558.1 473.3L558.2 473.3L558.3 473.2L558.4 473.3L558.5 473.3L558.6 473.2L558.6 473.3L558.7 473.3L558.8 473.3L558.9 473.3L559 473.3L559 473.2L559.1 473.2L559.2 473.3L559.3 473.3L559.4 473.3L559.4 473.2L559.5 473.3L559.6 473.3L559.7 473.3L559.8 473.2L559.8 473.3L559.9 473.3L560 473.2L560.1 473.4L560.2 473.4L560.2 473.2L560.3 473.2L560.4 473.4L560.5 473.3L560.6 473.3L560.7 473.3L560.8 473.3L560.9 473.3L561 473.3L561.1 473.2L561.2 473.3L561.3 473.4L561.4 473.3L561.4 473.2L561.5 473.3L561.6 473.2L561.7 473.3L561.8 473.3L561.9 473.2L562 473.4L562.1 473.2L562.2 473.4L562.3 473.3L562.4 473.3L562.5 473.3L562.6 473.3L562.7 473.3L562.8 473.3L562.9 473.3L563 473.3L563 473.2L563.1 473.3L563.2 473.3L563.3 473.3L563.4 473.3L563.5 473.3L563.6 473.2L563.7 473.3L563.8 473.3L563.9 473.3L564 473.3L564.1 473.3L564.2 473.3L564.3 473.3L564.3 473.2L564.4 473.4L564.5 473.3L564.6 473.2L564.7 473.2L564.7 473.3L564.8 473.3L564.9 473.3L565 473.3L565.1 473.3L565.2 473.3L565.3 473.3L565.4 473.3L565.5 473.3L565.6 473.3L565.7 473.3L565.8 473.2L565.9 473.3L566 473.2L566.1 473.3L566.2 473.3L566.3 473.2L566.3 473.3L566.4 473.3L566.5 473.3L566.6 473.3L566.7 473.3L566.8 473.3L566.9 473.3L567 473.3L567.1 473.4L567.1 473.2L567.2 473.3L567.3 473.4L567.4 473.4L567.5 473.3L567.5 473.2L567.6 473.3L567.7 473.3L567.8 473.3L567.9 473.3L567.9 473.4L568 473.3L568.1 473.4L568.2 473.3L568.3 473.4L568.3 473.3L568.4 473.3L568.5 473.3L568.6 473.3L568.7 473.2L568.7 473.3L568.8 473.3L568.9 473.3L569 473.2L569.1 473.3L569.2 473.3L569.3 473.3L569.4 473.3L569.5 473.3L569.6 473.2L569.7 473.3L569.8 473.2L569.9 473.2L569.9 473.3L570 473.3L570.1 473.4L570.2 473.2L570.3 473.3L570.4 473.4L570.5 473.2L570.6 473.3L570.7 473.3L570.7 473.2L570.8 473.3L570.9 473.3L571 473.3L571.1 473.3L571.2 473.3L571.3 473.2L571.4 473.3L571.5 473.2L571.5 473.3L571.6 473.2L571.7 473.3L571.8 473.2L571.9 473.3L572 473.3L572.1 473.3L572.2 473.3L572.3 473.3L572.4 473.3L572.5 473.2L572.6 473.3L572.7 473.2L572.7 473.3L572.8 473.3L572.9 473.3L573 473.3L573.1 473.2L573.1 473.3L573.2 473.3L573.3 473.4L573.4 473.3L573.5 473.3L573.6 473.2L573.7 473.3L573.8 473.3L573.9 473.3L573.9 473.2L574 473.3L574.1 473.3L574.2 473.3L574.3 473.3L574.3 473.4L574.4 473.4L574.5 473.3L574.6 473.3L574.7 473.4L574.7 473.3L574.8 473.3L574.9 473.3L575 473.3L575.1 473.2L575.1 473.3L575.2 473.3L575.3 473.3L575.4 473.3L575.5 473.3L575.6 473.3L575.7 473.3L575.8 473.3L575.9 473.3L575.9 473.2L576 473.3L576.1 473.3L576.2 473.2L576.3 473.3L576.3 473.2L576.4 473.2L576.5 473.3L576.6 473.4L576.7 473.2L576.7 473.3L576.8 473.3L576.9 473.2L577 473.3L577.1 473.2L577.1 473.3L577.2 473.3L577.3 473.3L577.4 473.3L577.5 473.3L577.6 473.3L577.7 473.3L577.8 473.3L577.9 473.2L577.9 473.3L578 473.4L578.1 473.3L578.2 473.3L578.3 473.3L578.3 473.2L578.4 473.3L578.5 473.3L578.6 473.3L578.7 473.4L578.7 473.2L578.8 473.3L578.9 473.3L579 473.3L579.1 473.3L579.2 473.3L579.3 473.4L579.4 473.3L579.5 473.3L579.5 473.2L579.6 473.3L579.7 473.3L579.8 473.3L579.9 473.3L580 473.3L580.1 473.3L580.2 473.3L580.3 473.3L580.4 473.3L580.5 473.3L580.6 473.3L580.7 473.3L580.8 473.3L580.9 473.3L581 473.3L581.1 473.3L581.2 473.4L581.2 473.3L581.3 473.3L581.4 473.3L581.5 473.2L581.6 473.2L581.6 473.3L581.7 473.3L581.8 473.4L581.9 473.3L582 473.3L582.1 473.3L582.2 473.3L582.3 473.2L582.4 473.3L582.5 473.3L582.6 473.3L582.7 473.3L582.8 473.3L582.8 473.4L582.9 473.2L583 473.3L583.1 473.4L583.2 473.3L583.2 473.4L583.3 473.2L583.4 473.3L583.5 473.2L583.6 473.2L583.6 473.3L583.7 473.3L583.8 473.3L583.9 473.3L584 473.3L584.1 473.3L584.2 473.2L584.3 473.3L584.4 473.3L584.4 473.4L584.5 473.3L584.6 473.3L584.7 473.3L584.8 473.4L584.8 473.3L584.9 473.3L585 473.4L585.1 473.3L585.2 473.4L585.2 473.3L585.3 473.2L585.4 473.3L585.5 473.3L585.6 473.3L585.7 473.2L585.8 473.2L585.9 473.3L586 473.3L586.1 473.2L586.2 473.3L586.3 473.3L586.4 473.3L586.4 473.4L586.5 473.2L586.6 473.3L586.7 473.3L586.8 473.3L586.9 473.3L587 473.4L587.1 473.2L587.2 473.3L587.3 473.3L587.4 473.3L587.5 473.3L587.6 473.3L587.7 473.3L587.8 473.3L587.9 473.3L588 473.3L588.1 473.3L588.2 473.3L588.3 473.2L588.4 473.3L588.4 473.4L588.5 473.3L588.6 473.4L588.7 473.3L588.8 473.3L588.9 473.3L589 473.3L589.1 473.3L589.2 473.2L589.2 473.3L589.3 473.3L589.4 473.3L589.5 473.3L589.6 473.3L589.7 473.3L589.8 473.3L589.9 473.3L590 473.3L590.1 473.3L590.2 473.3L590.3 473.3L590.4 473.2L590.4 473.3L590.5 473.4L590.6 473.3L590.7 473.3L590.8 473.3L590.9 473.3L591 473.3L591.1 473.3L591.2 473.3L591.2 473.4L591.3 473.3L591.4 473.3L591.5 473.2L591.6 473.4L591.6 473.3L591.7 473.3L591.8 473.3L591.9 473.4L592 473.3L592 473.2L592.1 473.3L592.2 473.4L592.3 473.3L592.4 473.3L592.5 473.3L592.6 473.3L592.7 473.3L592.8 473.3L592.9 473.3L593 473.3L593.1 473.2L593.2 473.3L593.3 473.3L593.4 473.3L593.5 473.3L593.6 473.3L593.7 473.3L593.8 473.2L593.9 473.2L594 473.3L594 473.2L594.1 473.3L594.2 473.2L594.3 473.4L594.4 473.2L594.4 473.3L594.5 473.3L594.6 473.3L594.7 473.3L594.8 473.3L594.8 473.4L594.9 473.3L595 473.3L595.1 473.3L595.2 473.4L595.2 473.3L595.3 473.3L595.4 473.3L595.5 473.3L595.6 473.3L595.6 473.4L595.7 473.3L595.8 473.3L595.9 473.3L596 473.3L596.1 473.3L596.2 473.3L596.3 473.3L596.4 473.3L596.5 473.3L596.6 473.3L596.7 473.3L596.8 473.3L596.8 473.2L596.9 473.3L597 473.3L597.1 473.3L597.2 473.3L597.3 473.3L597.4 473.3L597.5 473.2L597.6 473.3L597.6 473.4L597.7 473.3L597.8 473.3L597.9 473.4L598 473.3L598.1 473.3L598.2 473.3L598.3 473.4L598.4 473.3L598.5 473.3L598.6 473.3L598.7 473.3L598.8 473.3L598.9 473.3L599 473.2L599.1 473.3L599.2 473.2L599.3 473.3L599.4 473.3L599.5 473.3L599.6 473.3L599.7 473.3L599.7 473.2L599.8 473.3L599.9 473.3L600 473.3L600.1 473.3L600.2 473.3L600.3 473.3L600.4 473.3L600.5 473.3L600.6 473.3L600.7 473.3L600.8 473.3L600.9 473.3L601 473.3L601.1 473.2L601.2 473.3L601.3 473.3L601.4 473.3L601.5 473.3L601.6 473.4L601.7 473.3L601.8 473.4L601.9 473.3L602 473.4L602.1 473.3L602.1 473.4L602.2 473.3L602.3 473.3L602.4 473.3L602.5 473.3L602.6 473.4L602.7 473.3L602.8 473.4L602.9 473.3L603 473.3L603.1 473.3L603.2 473.3L603.3 473.2L603.3 473.3L603.4 473.3L603.5 473.3L603.6 473.3L603.7 473.3L603.7 473.2L603.8 473.3L603.9 473.3L604 473.3L604.1 473.3L604.2 473.3L604.3 473.3L604.4 473.3L604.5 473.3L604.6 473.3L604.7 473.4L604.8 473.3L604.9 473.3L604.9 473.2L605 473.3L605.1 473.3L605.2 473.3L605.3 473.2L605.3 473.3L605.4 473.3L605.5 473.3L605.6 473.3L605.7 473.3L605.8 473.3L605.9 473.3L606 473.3L606.1 473.3L606.2 473.3L606.3 473.3L606.4 473.3L606.5 473.3L606.5 473.4L606.6 473.3L606.7 473.3L606.8 473.3L606.9 473.3L607 473.3L607.1 473.3L607.2 473.3L607.3 473.3L607.4 473.3L607.5 473.2L607.6 473.3L607.7 473.3L607.8 473.3L607.9 473.3L608 473.3L608.1 473.3L608.1 473.2L608.2 473.3L608.3 473.3L608.4 473.3L608.5 473.3L608.6 473.3L608.7 473.3L608.8 473.3L608.9 473.3L608.9 473.2L609 473.3L609.1 473.4L609.2 473.3L609.3 473.3L609.4 473.3L609.5 473.4L609.6 473.3L609.7 473.3L609.8 473.3L609.9 473.3L610 473.3L610.1 473.3L610.2 473.3L610.3 473.3L610.4 473.4L610.5 473.3L610.6 473.3L610.7 473.3L610.8 473.3L610.9 473.3L611 473.3L611.1 473.3L611.2 473.3L611.3 473.4L611.3 473.3L611.4 473.3L611.5 473.3L611.6 473.3L611.7 473.3L611.8 473.2L611.9 473.3L612 473.3L612.1 473.4L612.1 473.3L612.2 473.3L612.3 473.3L612.4 473.4L612.5 473.3L612.6 473.2L612.7 473.4L612.8 473.3L612.9 473.3L612.9 473.4L613 473.3L613.1 473.3L613.2 473.3L613.3 473.3L613.4 473.3L613.5 473.3L613.6 473.3L613.7 473.3L613.8 473.4L613.9 473.3L614 473.3L614.1 473.3L614.2 473.3L614.3 473.3L614.4 473.3L614.5 473.3L614.6 473.3L614.7 473.3L614.8 473.3L614.9 473.3L615 473.3L615.1 473.3L615.2 473.4L615.3 473.3L615.4 473.3L615.5 473.3L615.6 473.3L615.7 473.3L615.8 473.3L615.9 473.3L616 473.3L616.1 473.2L616.2 473.3L616.3 473.3L616.4 473.2L616.5 473.3L616.6 473.3L616.7 473.3L616.8 473.3L616.9 473.3L617 473.3L617 473.4L617.1 473.3L617.2 473.3L617.3 473.3L617.4 473.3L617.5 473.3L617.6 473.3L617.7 473.3L617.8 473.3L617.9 473.3L618 473.3L618.1 473.3L618.2 473.3L618.2 473.2L618.3 473.3L618.4 473.3L618.5 473.3L618.6 473.3L618.6 473.4L618.7 473.3L618.8 473.3L618.9 473.3L619 473.4L619 473.3L619.1 473.3L619.2 473.3L619.3 473.3L619.4 473.3L619.5 473.3L619.6 473.3L619.7 473.4L619.8 473.3L619.9 473.3L620 473.3L620.1 473.4L620.2 473.4L620.2 473.3L620.3 473.3L620.4 473.4L620.5 473.3L620.6 473.3L620.6 473.4L620.7 473.3L620.8 473.2L620.9 473.3L621 473.3L621.1 473.3L621.2 473.3L621.3 473.3L621.4 473.3L621.4 473.4L621.5 473.2L621.6 473.3L621.7 473.3L621.8 473.3L621.9 473.3L622 473.3L622.1 473.3L622.2 473.3L622.3 473.4L622.4 473.3L622.5 473.3L622.6 473.3L622.6 473.4L622.7 473.3L622.8 473.3L622.9 473.3L623 473.3L623.1 473.3L623.2 473.3L623.3 473.4L623.4 473.3L623.5 473.4L623.6 473.3" stroke="#0072bd" stroke-width="0.7" fill="none" stroke-linejoin="round"/>
<path d="M367.3 473.4v-2.5M367.3 390.5v2.5M431.4 473.4v-2.5M431.4 390.5v2.5M495.5 473.4v-2.5M495.5 390.5v2.5M559.5 473.4v-2.5M559.5 390.5v2.5M623.6 473.4v-2.5M623.6 390.5v2.5M367.3 473.4h2.5M623.6 473.4h-2.5M367.3 431.9h2.5M623.6 431.9h-2.5M367.3 390.5h2.5M623.6 390.5h-2.5" stroke="#777" stroke-width="0.7" fill="none"/>
<text x="364.4" y="490.0" font-size="14.2" textLength="5.9" lengthAdjust="spacingAndGlyphs">0</text>
<text x="428.4" y="490.0" font-size="14.2" textLength="5.9" lengthAdjust="spacingAndGlyphs">2</text>
<text x="492.5" y="490.0" font-size="14.2" textLength="5.9" lengthAdjust="spacingAndGlyphs">4</text>
<text x="556.6" y="490.0" font-size="14.2" textLength="5.9" lengthAdjust="spacingAndGlyphs">6</text>
<text x="620.7" y="490.0" font-size="14.2" textLength="5.9" lengthAdjust="spacingAndGlyphs">8</text>
<text x="358.1" y="478.1" font-size="14.2" textLength="5.9" lengthAdjust="spacingAndGlyphs">0</text>
<text x="352.2" y="436.6" font-size="14.2" textLength="11.8" lengthAdjust="spacingAndGlyphs">50</text>
<text x="346.3" y="395.2" font-size="14.2" textLength="17.7" lengthAdjust="spacingAndGlyphs">100</text>
<text x="427.2" y="385.1" font-size="14.2" textLength="137.0" lengthAdjust="spacingAndGlyphs">Short-Time Energy (STE)</text>
<text x="474.3" y="506.5" font-size="14.2" textLength="42.7" lengthAdjust="spacingAndGlyphs">Time (s)</text>
<path d="M431.4 531.2V613.8M495.5 531.2V613.8M559.5 531.2V613.8M367.3 573.9H623.6M367.3 534.0H623.6" stroke="#f2f2f2" stroke-width="0.8" fill="none"/>
<path d="M367.3 531.2V613.8M623.6 531.2V613.8" fill="none" stroke="#dadada" stroke-width="0.8"/>
<path d="M367.3 531.2H623.6M367.3 613.8H623.6" fill="none" stroke="#d2d2d2" stroke-width="0.9"/>
<path d="M367.3 601.4L367.4 612.8L367.5 613.4L367.5 604.4L367.6 610.1L367.7 611.2L367.8 612.8L367.9 605.1L367.9 613L368 609.5L368.1 607.9L368.2 613L368.3 604L368.3 611.3L368.4 610.8L368.5 610.7L368.6 608.8L368.7 613.4L368.7 603.7L368.8 613.2L368.9 602.1L369 610.8L369.1 612.3L369.1 609.8L369.2 611.8L369.3 611.1L369.4 611.9L369.5 605.5L369.5 612.4L369.6 613L369.7 607.4L369.8 608.9L369.9 610.3L369.9 613.4L370 613.6L370.1 607.2L370.2 605.6L370.3 604.2L370.3 611.5L370.4 610.3L370.5 613.6L370.6 608.6L370.7 612.5L370.7 613.4L370.8 610.8L370.9 613.1L371 610.8L371.1 608.7L371.1 612.9L371.2 612L371.3 612.5L371.4 606.4L371.5 613.5L371.5 610.1L371.6 607.5L371.7 612.3L371.8 611L371.9 612.7L371.9 610.5L372 612.2L372.1 612.1L372.2 611.5L372.3 608.2L372.3 606.7L372.4 608.3L372.5 608.8L372.6 610L372.7 609.4L372.7 612.9L372.8 610.2L372.9 613.6L373 606.8L373.1 612.4L373.1 607.8L373.2 608.9L373.3 610.7L373.4 612.5L373.5 611.1L373.5 609.3L373.6 612.8L373.7 613.4L373.8 608.6L373.9 613.3L373.9 613.2L374 611.9L374.1 612.2L374.2 613.2L374.3 611L374.3 613.5L374.4 613.7L374.5 611.1L374.6 611.6L374.7 612L374.7 613.7L374.8 613.2L374.9 607.6L375 613.4L375.1 609.8L375.1 610.8L375.2 613.3L375.3 612.3L375.4 610.4L375.5 608.6L375.5 610.8L375.6 607.5L375.7 612.3L375.8 611.2L375.9 611.3L376 609.5L376 612.4L376.1 611.7L376.2 610.9L376.3 606.5L376.4 611.6L376.4 611L376.5 613.1L376.6 604.6L376.7 606.8L376.8 613.5L376.8 610L376.9 605.6L377 613L377.1 607.3L377.2 606.3L377.2 611.1L377.3 613.2L377.4 611.4L377.5 610L377.6 611.3L377.6 611.8L377.7 602.9L377.8 611.5L377.9 612.3L378 612.1L378 611.7L378.1 613.5L378.2 610.7L378.3 610.5L378.4 611L378.4 602.4L378.5 607.9L378.6 608.6L378.7 608.3L378.8 609.7L378.8 611.4L378.9 609.6L379 613.5L379.1 610.2L379.2 607.7L379.2 612.9L379.3 610.5L379.4 612.3L379.5 607.3L379.6 611.2L379.6 613.2L379.7 609.1L379.8 606.1L379.9 611L380 612.7L380 609.4L380.1 609.1L380.2 604.7L380.3 613.8L380.4 611.8L380.4 607.4L380.5 600.9L380.6 608.9L380.7 613.6L380.8 609.8L380.8 612.7L380.9 613L381 610.6L381.1 610.3L381.2 605.5L381.2 613.7L381.3 600.6L381.4 608.9L381.5 612.1L381.6 610.4L381.6 610.3L381.7 612.5L381.8 611.1L381.9 605.7L382 610.8L382 612.2L382.1 603.7L382.2 613.3L382.3 613.3L382.4 608L382.4 612.5L382.5 611.8L382.6 613.4L382.7 613.4L382.8 613.2L382.8 612.4L382.9 611.2L383 613.4L383.1 610.4L383.2 610.7L383.2 611.9L383.3 607.3L383.4 612.2L383.5 612.7L383.6 611.9L383.6 610.8L383.7 609.4L383.8 611.8L383.9 612.6L384 606.2L384 612.9L384.1 604.8L384.2 613.6L384.3 613L384.4 611.9L384.4 609.3L384.5 612.5L384.6 613.5L384.7 613.5L384.8 607.2L384.8 609.7L384.9 605.7L385 603.6L385.1 611.4L385.2 610.6L385.2 607.1L385.3 611.4L385.4 605.6L385.5 607.7L385.6 613.7L385.6 602.1L385.7 612.6L385.8 610.3L385.9 612.7L386 611.4L386 612.6L386.1 610.6L386.2 605.6L386.3 611.3L386.4 598.6L386.4 613.2L386.5 611.1L386.6 610.7L386.7 610L386.8 610.9L386.8 610.4L386.9 608.2L387 608.2L387.1 608.6L387.2 613.7L387.2 611L387.3 612.3L387.4 613.5L387.5 609.9L387.6 609.3L387.6 610.1L387.7 611.2L387.8 609.1L387.9 612.4L388 604.7L388 613.2L388.1 612.1L388.2 609.6L388.3 603.5L388.4 613.7L388.4 609.3L388.5 610.3L388.6 607.5L388.7 612.9L388.8 612.8L388.8 608.5L388.9 612.1L389 608.7L389.1 608.2L389.2 611.8L389.2 612.7L389.3 613.7L389.4 607.6L389.5 601.4L389.6 604.6L389.6 613.2L389.7 613.8L389.8 613L389.9 613L390 613.1L390 612.6L390.1 613.7L390.2 610L390.3 607.1L390.4 603.5L390.4 611.6L390.5 600.1L390.6 613.5L390.7 613.4L390.8 609.8L390.8 611L390.9 608L391 611.7L391.1 612.6L391.2 613.2L391.2 612.7L391.3 602.2L391.4 607.5L391.5 610.7L391.6 608.2L391.6 612.5L391.7 612.7L391.8 601.5L391.9 608.6L392 604.4L392 613.1L392.1 607.4L392.2 607.3L392.3 612.3L392.4 613.7L392.4 600.4L392.5 612.8L392.6 613.6L392.7 600.7L392.8 613.3L392.8 611.7L392.9 613.5L393 613.6L393.1 609.6L393.2 610L393.3 606.2L393.3 603.2L393.4 611.4L393.5 613.3L393.6 600.1L393.7 601.2L393.7 609.3L393.8 612.1L393.9 607.6L394 613.8L394.1 613L394.1 602.5L394.2 613L394.3 613.3L394.4 612.1L394.5 605L394.5 612.9L394.6 602.9L394.7 610.8L394.8 611.4L394.9 612.1L394.9 607.8L395 609.7L395.1 611.2L395.2 612.9L395.3 610.9L395.3 604.5L395.4 603.7L395.5 611.6L395.6 612.9L395.7 610.3L395.7 609.5L395.8 608.2L395.9 611.8L396 613.3L396.1 611.8L396.1 607.1L396.2 602.3L396.3 609.2L396.4 608.9L396.5 611.8L396.5 611L396.6 612.9L396.7 608.5L396.8 605L396.9 613.3L396.9 610.6L397 612.3L397.1 612.5L397.2 611.4L397.3 612.2L397.3 610.7L397.4 612.4L397.5 603.6L397.6 605.7L397.7 613.4L397.7 606.8L397.8 612.6L397.9 606.3L398 610.9L398.1 611.7L398.1 612.6L398.2 613.3L398.3 606.3L398.4 610.6L398.5 611.7L398.5 612L398.6 607L398.7 602.8L398.8 610.8L398.9 611.4L398.9 611.6L399 609.6L399.1 609.7L399.2 604.7L399.3 612.3L399.3 612.6L399.4 613.1L399.5 613.7L399.6 607.9L399.7 606.8L399.7 613.4L399.8 613.1L399.9 613.4L400 594.8L400.1 608.6L400.1 605.6L400.2 612.1L400.3 606.5L400.4 611.9L400.5 613.4L400.5 609.9L400.6 609L400.7 613.1L400.8 612.9L400.9 610.5L400.9 604.8L401 602.4L401.1 613.6L401.2 611.4L401.3 613.6L401.3 611.1L401.4 613.6L401.5 607.2L401.6 613.5L401.7 613.1L401.7 611.9L401.8 613.5L401.9 613.3L402 610.4L402.1 613L402.1 611.5L402.2 605.9L402.3 609.2L402.4 611.1L402.5 607.7L402.5 613.2L402.6 612.7L402.7 599.2L402.8 612.2L402.9 612.5L402.9 612.7L403 608.8L403.1 611.6L403.2 606.8L403.3 611.9L403.3 610.4L403.4 613.5L403.5 611.1L403.6 610.8L403.7 608L403.7 609.3L403.8 613.2L403.9 611.9L404 612.9L404.1 613.3L404.1 613.4L404.2 607.1L404.3 612.9L404.4 607L404.5 610.6L404.5 593.4L404.6 610.3L404.7 609.3L404.8 611L404.9 612.4L404.9 608.2L405 613.2L405.1 612.3L405.2 613.8L405.3 606.6L405.3 612.6L405.4 610.9L405.5 609.9L405.6 606.1L405.7 612.6L405.7 602.3L405.8 612.1L405.9 611.9L406 613.6L406.1 609L406.1 612.4L406.2 604.9L406.3 612.4L406.4 609.9L406.5 611L406.5 613.8L406.6 611.9L406.7 612.9L406.8 613.4L406.9 613.5L406.9 612.7L407 609.6L407.1 606.2L407.2 613.2L407.3 611L407.3 611.2L407.4 613.8L407.5 612.4L407.6 609.7L407.7 608L407.7 610.4L407.8 605.7L407.9 610.3L408 610.3L408.1 613.5L408.1 613.7L408.2 609.5L408.3 612.2L408.4 607L408.5 602.2L408.5 603.4L408.6 610.6L408.7 613.2L408.8 608.2L408.9 608L408.9 600.4L409 612.5L409.1 612.2L409.2 613.7L409.3 606.5L409.3 608.1L409.4 612L409.5 612.7L409.6 613.4L409.7 611.5L409.7 610.8L409.8 610.6L409.9 613.1L410 612.7L410.1 612.3L410.2 612.5L410.2 612.9L410.3 611.2L410.4 603.7L410.5 613.6L410.6 607.4L410.6 609.1L410.7 607.9L410.8 610.6L410.9 609.7L411 613.6L411 608.4L411.1 603.6L411.2 535.9L411.3 536.2L411.4 537.8L411.4 531.9L411.5 543L411.6 541.5L411.7 546.9L411.8 569.5L411.8 561.9L411.9 569.6L412 579L412.1 578.6L412.2 578.3L412.2 568.7L412.3 577L412.4 579L412.5 579L412.6 582.9L412.6 579.6L412.7 581.5L412.8 588.5L412.9 584.7L413 570L413 581.4L413.1 584.9L413.2 582.7L413.3 589.3L413.4 586.2L413.4 584.2L413.5 593.2L413.6 590.9L413.7 590.4L413.8 590.7L413.8 591.8L413.9 589.9L414 588.2L414.1 590.6L414.2 589.2L414.2 589.6L414.3 594.5L414.4 592.6L414.5 594.7L414.6 592.6L414.6 595.5L414.7 595.5L414.8 591.6L414.9 596.4L415 599.9L415 596.6L415.1 596.7L415.2 598.8L415.3 598L415.4 596.6L415.4 599.7L415.5 599.2L415.6 600.3L415.7 598.4L415.8 599.4L415.8 600.9L415.9 599.6L416 596.1L416.1 602.6L416.2 602.1L416.2 599.1L416.3 602.3L416.4 596.5L416.5 602.6L416.6 602.4L416.6 601.1L416.7 598.5L416.8 599L416.9 599.5L417 600.1L417 598.6L417.1 603.8L417.2 600.5L417.3 598.7L417.4 602.8L417.4 600.7L417.5 599.4L417.6 599.4L417.7 601.7L417.8 598.7L417.8 600.9L417.9 600.2L418 603.5L418.1 603.1L418.2 603.2L418.2 599.6L418.3 605.7L418.4 605.1L418.5 601.4L418.6 602.4L418.6 606.8L418.7 603.2L418.8 603.1L418.9 601L419 605.4L419 603.4L419.1 601.2L419.2 601.7L419.3 604L419.4 603.2L419.4 604.8L419.5 600.9L419.6 603.4L419.7 601L419.8 601.7L419.8 604.1L419.9 603.1L420 602L420.1 602.3L420.2 600.8L420.2 601.4L420.3 602.5L420.4 602L420.5 603.9L420.6 603.8L420.6 602.2L420.7 602.5L420.8 604.5L420.9 603.1L421 604.1L421 603.8L421.1 601.3L421.2 604.4L421.3 604L421.4 602.4L421.4 603L421.5 602.9L421.6 605.1L421.7 603.2L421.8 603.7L421.8 604.3L421.9 604L422 603.6L422.1 602.1L422.2 600.8L422.2 603.1L422.3 601.3L422.4 603.2L422.5 605.3L422.6 603.3L422.6 601.7L422.7 601.5L422.8 604.5L422.9 600.5L423 604.4L423.1 604.1L423.2 601.6L423.3 602.9L423.4 602.3L423.4 606.4L423.5 603.6L423.6 603.7L423.7 602.6L423.8 604.2L423.8 602L423.9 604.5L424 605.4L424.1 605.7L424.2 602L424.2 602.7L424.3 604.6L424.4 602.3L424.5 603.9L424.6 603.8L424.6 605.6L424.7 604.4L424.8 603.6L424.9 603.5L425 604.5L425 602.5L425.1 602L425.2 604.8L425.3 603.3L425.4 605.7L425.4 603.3L425.5 605L425.6 604L425.7 603.6L425.8 604.2L425.8 602.6L425.9 604.8L426 604.5L426.1 603.5L426.2 604L426.2 603.6L426.3 604.2L426.4 604.9L426.5 603.1L426.6 603.9L426.6 602.9L426.7 602.3L426.8 604.4L426.9 604.9L427 604.6L427 604.8L427.1 606.5L427.2 602L427.3 603.5L427.4 601.2L427.5 604.7L427.5 603.4L427.6 603.8L427.7 604.2L427.8 602.9L427.9 604.1L427.9 604.2L428 603.9L428.1 606.8L428.2 605L428.3 605L428.3 602.2L428.4 603.5L428.5 603.3L428.6 603.5L428.7 604.4L428.7 602.3L428.8 604.5L428.9 605.9L429 603.5L429.1 602.9L429.1 604.1L429.2 603.9L429.3 603.2L429.4 602.5L429.5 603.6L429.5 602.3L429.6 604L429.7 601.9L429.8 606L429.9 603.3L429.9 604L430 604.2L430.1 605.9L430.2 603.1L430.3 604.6L430.3 605.6L430.4 605.2L430.5 604.7L430.6 604.3L430.7 605.5L430.8 604L430.9 604.6L431 602.2L431.1 605L431.1 603.7L431.2 602.5L431.3 604.8L431.4 603.4L431.5 604.2L431.5 604.5L431.6 602.7L431.7 605.7L431.8 582.2L431.9 590.8L431.9 588.5L432 588.5L432.1 594.4L432.2 593.9L432.3 599L432.3 596.7L432.4 600.1L432.5 601.5L432.6 599L432.7 602.1L432.7 601.8L432.8 602.8L432.9 602.3L433 603.4L433.1 605.2L433.1 603.6L433.2 603.5L433.3 603.7L433.4 604.5L433.5 602.2L433.5 605.2L433.6 604.3L433.7 604.2L433.8 605.8L433.9 605.9L433.9 603.8L434 603.8L434.1 604.4L434.2 606.4L434.3 605L434.3 604.4L434.4 603.9L434.5 603.3L434.6 604.2L434.7 603.6L434.7 602.8L434.8 607.3L434.9 603.6L435 605.2L435.1 604.2L435.1 604.5L435.2 605.9L435.3 605.7L435.4 604.2L435.5 604.9L435.5 603.9L435.6 605.2L435.7 602.3L435.8 605L435.9 602.4L435.9 605.6L436 604.1L436.1 603.5L436.2 606.2L436.3 605.8L436.3 604.3L436.4 603.5L436.5 603.2L436.6 604.2L436.7 603.6L436.7 606.1L436.8 605.3L436.9 603.2L437 605.4L437.1 605.1L437.1 606.7L437.2 605L437.3 606.6L437.4 604.4L437.5 603.2L437.5 604.5L437.6 604.6L437.7 605.3L437.8 604.2L437.9 606.1L437.9 605.3L438 602.4L438.1 606.3L438.2 605.5L438.3 606.4L438.3 603.5L438.4 605.1L438.5 606.3L438.6 606.3L438.7 603.6L438.7 604.1L438.8 604L438.9 605L439 603.9L439.1 603.4L439.1 604.2L439.2 606.7L439.3 607.1L439.4 606.5L439.5 604.6L439.5 606.6L439.6 606.1L439.7 604.9L439.8 605.9L439.9 606.3L439.9 603.9L440 604.4L440.1 604.1L440.2 603.9L440.3 603.4L440.3 605L440.4 605.2L440.5 606.9L440.6 605.2L440.7 605.6L440.7 603.8L440.8 604.3L440.9 603.4L441 603.8L441.1 603.7L441.1 604.4L441.2 604.8L441.3 605.3L441.4 604.9L441.5 605.9L441.5 604.4L441.6 604.9L441.7 607.1L441.8 607.8L441.9 605.5L441.9 560.9L442 571.8L442.1 573.9L442.2 588.3L442.3 594.7L442.3 593.8L442.4 595.3L442.5 596.2L442.6 602.3L442.7 602L442.7 603L442.8 600.8L442.9 569.8L443 579.2L443.1 581.3L443.1 589L443.2 591.5L443.3 593.6L443.4 596.6L443.5 597.6L443.5 597.8L443.6 599.1L443.7 597.9L443.8 599.7L443.9 601.7L443.9 605.3L444 604.5L444.1 603.4L444.2 603.4L444.3 604.8L444.4 603.7L444.4 603.2L444.5 604.2L444.6 603.7L444.7 603.6L444.8 604.4L444.8 604.7L444.9 603.7L445 603.2L445.1 604.9L445.2 597.9L445.2 597.1L445.3 595.7L445.4 601.4L445.5 597.8L445.6 601.3L445.6 600.8L445.7 602.7L445.8 601.1L445.9 602.2L446 602L446 605.4L446.1 588.8L446.2 597.8L446.3 596.5L446.4 596.3L446.4 599L446.5 598.8L446.6 600.1L446.7 600.9L446.8 602.7L446.8 600.3L446.9 600.4L447 603L447.1 603.7L447.2 602.2L447.2 603.7L447.3 602.5L447.4 601.6L447.5 601.8L447.6 600.7L447.6 602.1L447.7 604.2L447.8 603.9L447.9 602L448 600.1L448 603.2L448.1 603.9L448.2 600.7L448.3 602.8L448.4 601.7L448.4 601.1L448.5 603.9L448.6 603L448.7 603.3L448.8 601.8L448.8 595.1L448.9 599L449 598.2L449.1 603.1L449.2 600.1L449.2 600.5L449.3 601.4L449.4 603.8L449.5 601.9L449.6 603.5L449.6 599.8L449.7 602.4L449.8 602.3L449.9 602.2L450 601.2L450 601.9L450.1 601.2L450.2 603.3L450.3 600.4L450.4 602.7L450.4 600.8L450.5 601.6L450.6 600.3L450.7 602L450.8 604.1L450.8 603.6L450.9 602.3L451 600L451.1 581.9L451.2 584.1L451.2 583.7L451.3 592.1L451.4 591.9L451.5 593.8L451.6 597.3L451.6 596.7L451.7 596.1L451.8 597L451.9 600.2L452 595.2L452 600L452.1 601.4L452.2 602.3L452.3 603L452.4 600.5L452.4 606.1L452.5 602.2L452.6 604.1L452.7 602.5L452.8 602.4L452.8 604.2L452.9 603.8L453 600.8L453.1 603.3L453.2 602.6L453.2 603.1L453.3 601.6L453.4 601.1L453.5 601.6L453.6 602.1L453.7 604.5L453.8 601.2L453.9 603.7L454 604.2L454 603.5L454.1 604.1L454.2 602.5L454.3 602.2L454.4 601.5L454.4 584.4L454.5 592.3L454.6 595.6L454.7 600.1L454.8 600.9L454.8 597.8L454.9 602.9L455 603L455.1 580.4L455.2 586.7L455.2 589L455.3 596L455.4 598.4L455.5 595.1L455.6 600.3L455.6 600.2L455.7 600.5L455.8 604.3L455.9 602.3L456 603.3L456 602L456.1 603.4L456.2 606.1L456.3 602.3L456.4 599.9L456.4 596.7L456.5 599L456.6 600.1L456.7 600.1L456.8 599.5L456.8 603L456.9 603.1L457 601.6L457.1 602.3L457.2 602.3L457.2 603L457.3 603.9L457.4 604.3L457.5 604.4L457.6 602.9L457.6 602.2L457.7 601.7L457.8 605.4L457.9 604.5L458 604.2L458 604.5L458.1 605.6L458.2 601.8L458.3 602.7L458.4 604.6L458.4 605L458.5 604.5L458.6 605.9L458.7 604.9L458.8 603.7L458.8 602.7L458.9 603.6L459 603.2L459.1 605.9L459.2 608.3L459.2 603.2L459.3 604.6L459.4 604.9L459.5 603L459.6 605.9L459.7 605.7L459.8 603.2L459.9 603.9L460 606.9L460 603.2L460.1 605L460.2 604.6L460.3 605.9L460.4 603.1L460.4 604.7L460.5 603.8L460.6 606.3L460.7 604.6L460.8 605.2L460.8 605.6L460.9 606.3L461 606.2L461.1 606.7L461.2 606.2L461.2 605.6L461.3 605L461.4 607.2L461.5 606.7L461.6 606.4L461.7 607.4L461.7 606.1L461.8 606.1L461.9 606.1L462 605.5L462.1 605.1L462.1 605.2L462.2 605.8L462.3 605.5L462.4 606.9L462.5 607.1L462.5 605.6L462.6 605.7L462.7 604.3L462.8 606.5L462.9 607.3L462.9 606.1L463 606.9L463.1 607.3L463.2 605.3L463.3 604.8L463.3 606.3L463.4 607.2L463.5 606.5L463.6 606.8L463.7 608L463.7 606L463.8 606.6L463.9 605.8L464 607.3L464.1 607L464.1 607.1L464.2 608.5L464.3 605L464.4 608.9L464.5 608.2L464.5 607.4L464.6 608.6L464.7 607L464.8 607.7L464.9 607.3L465 607.4L465.1 607.5L465.2 607.7L465.3 607.3L465.3 607.1L465.4 607.9L465.5 608.1L465.6 607.9L465.7 607.6L465.7 608.1L465.8 608L465.9 609L466 606.6L466.1 608.9L466.1 606.4L466.2 607.5L466.3 606.8L466.4 608L466.5 607.8L466.5 608.1L466.6 607.1L466.7 607.8L466.8 607.3L466.9 609.1L466.9 608L467 607.4L467.1 607.6L467.2 608L467.3 608.4L467.3 608.5L467.4 608.5L467.5 610.1L467.6 608.2L467.7 609.8L467.7 606.9L467.8 607.8L467.9 609L468 608.6L468.1 608.2L468.1 609.3L468.2 609.1L468.3 608.9L468.4 609.6L468.5 608.7L468.5 608.5L468.6 608.6L468.7 608.6L468.8 608.6L468.9 608.9L468.9 608.6L469 609.4L469.1 609.2L469.2 608.7L469.3 608.2L469.3 609.7L469.4 608.1L469.5 608.5L469.6 609L469.7 608.7L469.7 608.9L469.8 609.6L469.9 610.1L470 610.3L470.1 609.1L470.1 609.4L470.2 609.8L470.3 610.5L470.4 609.8L470.5 610.3L470.5 609.1L470.6 610.9L470.7 610L470.8 609.4L470.9 610.4L470.9 610.2L471 609.3L471.1 605.3L471.2 610.1L471.3 610.7L471.3 610.6L471.4 609.5L471.5 610.5L471.6 608.8L471.7 607.7L471.7 610.2L471.8 611L471.9 610.2L472 610.8L472.1 611.1L472.1 610.6L472.2 611.1L472.3 610.9L472.4 610.5L472.5 610.4L472.5 609.8L472.6 610.2L472.7 610.4L472.8 611.5L472.9 605.7L472.9 610.4L473 611L473.1 607.1L473.2 610.4L473.3 608.9L473.3 611.5L473.4 611.1L473.5 610.7L473.6 611.4L473.7 611.5L473.7 610.9L473.8 611.3L473.9 610.4L474 607.9L474.1 611L474.2 609.8L474.3 611.4L474.4 611.2L474.5 611.5L474.5 610.3L474.6 611.2L474.7 611.3L474.8 609.5L474.9 611.5L474.9 611.7L475 611.6L475.1 611.1L475.2 610.9L475.3 610.9L475.3 612L475.4 608.3L475.5 607.5L475.6 607.6L475.7 606.9L475.7 610.7L475.8 611.9L475.9 611.4L476 611.2L476.1 612L476.1 610.9L476.2 611.7L476.3 607.3L476.4 606.9L476.5 611.9L476.5 612.1L476.6 605.7L476.7 611.4L476.8 612.1L476.9 611.8L476.9 611.9L477 610.7L477.1 612L477.2 611.4L477.3 611.7L477.3 612L477.4 611.9L477.5 605.7L477.6 611.3L477.7 610.6L477.7 609.4L477.8 611.9L477.9 611L478 608.3L478.1 612.1L478.1 611.1L478.2 611.9L478.3 612.1L478.4 606.3L478.5 611.8L478.6 612.7L478.6 611.8L478.7 612.1L478.8 610.7L478.9 612.1L479 611L479 612.3L479.1 608.5L479.2 612.1L479.3 611.8L479.4 612L479.4 613.3L479.5 606.6L479.6 610.1L479.7 613.3L479.8 613.1L479.8 612L479.9 610.6L480 609.4L480.1 611.8L480.2 612L480.2 611.3L480.3 613.2L480.4 603.1L480.5 613.4L480.6 612.9L480.6 602.4L480.7 611.8L480.8 613.6L480.9 609.3L481 612.4L481 602.6L481.1 604.1L481.2 611.7L481.3 613.1L481.4 606.9L481.4 611.3L481.5 611.5L481.6 612.6L481.7 612.8L481.8 608.7L481.8 612.7L481.9 604.8L482 606.5L482.1 606.6L482.2 613.6L482.2 612.8L482.3 613.2L482.4 609.3L482.5 611.8L482.6 605.4L482.6 610.8L482.7 611.2L482.8 611.6L482.9 605.9L483 606.4L483 611.7L483.1 611.6L483.2 612.2L483.3 609.1L483.4 611.5L483.4 613.7L483.5 610.3L483.6 613.2L483.7 613.7L483.8 613.6L483.8 611.6L483.9 609.3L484 607.8L484.1 610.9L484.2 613.5L484.2 609L484.3 613.4L484.4 609.1L484.5 613.6L484.6 612.1L484.7 613.5L484.8 607.2L484.9 609L485 612.7L485 613.4L485.1 613.2L485.2 609.6L485.3 612L485.4 603.2L485.4 606.5L485.5 611.1L485.6 608.4L485.7 612.7L485.8 613L485.8 611.1L485.9 603.3L486 612.9L486.1 613L486.2 613.8L486.2 609.1L486.3 612.9L486.4 613.6L486.5 608.5L486.6 610.1L486.6 607L486.7 608.8L486.8 611.9L486.9 611.8L487 596.5L487 611.8L487.1 610.6L487.2 612.7L487.3 612.1L487.4 611L487.4 611.1L487.5 613.1L487.6 606.1L487.7 607.3L487.8 601.6L487.8 613.1L487.9 609L488 605.6L488.1 612.9L488.2 606.2L488.2 612.5L488.3 612.8L488.4 611.4L488.5 612.5L488.6 611L488.6 610.9L488.7 612.7L488.8 612.9L488.9 604.5L489 612L489 613L489.1 613.7L489.2 613.1L489.3 613.1L489.4 613.6L489.4 607.1L489.5 612.9L489.6 609.5L489.7 612.2L489.8 604.7L489.8 612.7L489.9 612.4L490 607.9L490.1 611.6L490.2 608.2L490.2 608.7L490.3 613.2L490.4 611.3L490.5 609.4L490.6 610.8L490.6 612.7L490.7 612.2L490.8 597.1L490.9 612.8L491 609.1L491 611.7L491.1 607.2L491.2 599.5L491.3 612.8L491.4 598.5L491.4 610.5L491.5 611.9L491.6 609.5L491.7 605.1L491.8 613L491.8 613.7L491.9 613.1L492 612.9L492.1 611.8L492.2 613.1L492.2 613.6L492.3 612.8L492.4 606.5L492.5 608.3L492.6 612.9L492.6 605.5L492.7 613.4L492.8 613.4L492.9 610L493 610.8L493 608.2L493.1 609.7L493.2 611.4L493.3 611L493.4 612.6L493.4 602.8L493.5 612.2L493.6 603.4L493.7 608.8L493.8 612L493.8 605.6L493.9 612.8L494 609.7L494.1 598L494.2 611.8L494.2 607.3L494.3 606.2L494.4 606.3L494.5 610.1L494.6 611.4L494.6 601.3L494.7 609.9L494.8 611.2L494.9 610.2L495 609.1L495 600.9L495.1 602.6L495.2 610.2L495.3 607.8L495.4 613.6L495.5 605.5L495.5 612.7L495.6 607.6L495.7 610.9L495.8 592L495.9 609.4L495.9 608.4L496 609.3L496.1 611.9L496.2 606.6L496.3 610.2L496.3 611.6L496.4 612.9L496.5 611.5L496.6 612.8L496.7 611.4L496.7 608.5L496.8 610.8L496.9 605.9L497 610.6L497.1 612.4L497.1 612.8L497.2 612.5L497.3 608L497.4 612.5L497.5 609.6L497.5 612.9L497.6 613L497.7 609.1L497.8 611.4L497.9 609.9L497.9 612L498 611.4L498.1 613.5L498.2 609.9L498.3 610L498.3 613.1L498.4 611.6L498.5 601.9L498.6 613.8L498.7 613L498.7 594.7L498.8 605.2L498.9 613.2L499 612.1L499.1 604.8L499.1 612.1L499.2 608.5L499.3 613.2L499.4 612.5L499.5 608L499.5 608.9L499.6 611.2L499.7 612.3L499.8 610.4L499.9 612.2L499.9 612.3L500 607L500.1 607.1L500.2 612.3L500.3 611L500.3 610.4L500.4 613.2L500.5 607.1L500.6 613L500.7 612.6L500.7 613.6L500.8 612.7L500.9 613.1L501 612L501.1 613.5L501.1 609.6L501.2 610.2L501.3 612.9L501.4 607.5L501.5 609.5L501.5 611.7L501.6 613.2L501.7 609.3L501.8 610.4L501.9 613.3L501.9 612.6L502 605.4L502.1 612.8L502.2 610.2L502.3 610.9L502.3 611.6L502.4 613.8L502.5 613.7L502.6 606.5L502.7 607.1L502.7 613.1L502.8 609.8L502.9 610.2L503 611.1L503.1 608.9L503.1 606L503.2 610.6L503.3 598.7L503.4 612.8L503.5 612L503.5 609.7L503.6 606L503.7 609.9L503.8 609.2L503.9 593.8L503.9 609.9L504 612.8L504.1 613.1L504.2 611.3L504.3 609.7L504.3 613.6L504.4 602.7L504.5 611.6L504.6 611.9L504.7 604.4L504.7 610.1L504.8 610L504.9 605.1L505 612.3L505.1 610.6L505.1 609.5L505.2 598.2L505.3 609.7L505.4 611.2L505.5 602.8L505.5 609.5L505.6 610.1L505.7 611.4L505.8 612.3L505.9 612.9L505.9 610.9L506 613.4L506.1 612.6L506.2 599.3L506.3 610.1L506.3 601.6L506.4 605.4L506.5 606.7L506.6 607.7L506.7 609.3L506.7 599.3L506.8 613.7L506.9 608.6L507 613L507.1 613.4L507.1 607.7L507.2 612.1L507.3 609.4L507.4 608.5L507.5 613.8L507.5 609.8L507.6 613.6L507.7 610.8L507.8 612L507.9 611.6L507.9 608.1L508 605.2L508.1 608.9L508.2 611.7L508.3 606.1L508.3 612.8L508.4 609.1L508.5 605.3L508.6 610.4L508.7 611.4L508.7 613.7L508.8 608.8L508.9 613.5L509 610.4L509.1 609.8L509.1 610.5L509.2 610.2L509.3 612.2L509.4 606.2L509.5 610.1L509.5 612.1L509.6 610.6L509.7 612.7L509.8 612.6L509.9 610.3L509.9 609.9L510 613.7L510.1 610.5L510.2 612.5L510.3 610.3L510.3 612.7L510.4 613.5L510.5 609.2L510.6 613.3L510.7 612.7L510.7 607.5L510.8 610.9L510.9 608.1L511 612L511.1 613.7L511.1 613.5L511.2 612.1L511.3 612.2L511.4 609.4L511.5 612.5L511.5 613.8L511.6 610.6L511.7 603.7L511.8 591.7L511.9 607.7L511.9 606.9L512 612.3L512.1 611.1L512.2 609.1L512.3 613.1L512.3 612.9L512.4 611.1L512.5 613.3L512.6 611.1L512.7 613.5L512.8 612L512.8 612.1L512.9 610.6L513 609.1L513.1 608.4L513.2 613.4L513.3 609.8L513.4 611.4L513.5 610.9L513.6 606.1L513.6 613.1L513.7 610.9L513.8 600.3L513.9 613.1L514 609.8L514 612.7L514.1 612.7L514.2 612.2L514.3 607.6L514.4 609.6L514.4 608.7L514.5 609.3L514.6 612.4L514.7 594.8L514.8 605.9L514.8 606.9L514.9 608.5L515 601.8L515.1 594.9L515.2 601.1L515.2 607.3L515.3 612.3L515.4 610.8L515.5 613.8L515.6 609.5L515.6 600.3L515.7 613L515.8 611L515.9 612.8L516 609.3L516 608.6L516.1 612.5L516.2 612.7L516.3 610.8L516.4 613.5L516.4 609.5L516.5 613.4L516.6 602.1L516.7 612.4L516.8 610.6L516.8 609.9L516.9 608.3L517 612.8L517.1 609.8L517.2 603.8L517.2 610.6L517.3 607.6L517.4 611.2L517.5 609.5L517.6 613.5L517.6 611.8L517.7 611.8L517.8 588.1L517.9 613.7L518 612.9L518 612L518.1 612.4L518.2 608L518.3 608.8L518.4 613.5L518.4 607.1L518.5 607.9L518.6 611.2L518.7 610.1L518.8 602.8L518.8 611.6L518.9 599.4L519 613.1L519.1 605.8L519.2 608.6L519.2 611.1L519.3 613.5L519.4 612L519.5 611.4L519.6 602L519.6 609.5L519.7 606.4L519.8 612.7L519.9 607L520 611.8L520 610.6L520.1 612.1L520.2 612.1L520.3 612.7L520.4 613.2L520.4 593.6L520.5 602.9L520.6 613.1L520.7 613.3L520.8 609.5L520.8 600.9L520.9 606.6L521 611.2L521.1 612.5L521.2 606.3L521.2 613.4L521.3 609.6L521.4 611.4L521.5 611.5L521.6 610.5L521.6 611.9L521.7 609.8L521.8 611.6L521.9 612.1L522 608.1L522 609.3L522.1 611L522.2 610.3L522.3 609.9L522.4 606.9L522.4 611.8L522.5 613.5L522.6 612.8L522.7 607.8L522.8 612.2L522.8 610L522.9 609.8L523 612.4L523.1 611.4L523.2 610.5L523.2 609.6L523.3 611.1L523.4 606.5L523.5 604.9L523.6 612.3L523.6 603L523.7 613.6L523.8 602.2L523.9 608.9L524 613.7L524 612.5L524.1 613.3L524.2 602.8L524.3 601.5L524.4 611.5L524.4 607.7L524.5 609.8L524.6 594.7L524.7 611.8L524.8 612.8L524.8 608.5L524.9 612.3L525 611.4L525.1 608.3L525.2 612.6L525.3 611.5L525.4 611.7L525.5 613.2L525.6 613.4L525.6 610.1L525.7 613.4L525.8 613.6L525.9 606.5L526 612.9L526 611.9L526.1 612.6L526.2 612.7L526.3 607.1L526.4 613.1L526.4 613.2L526.5 606L526.6 613.8L526.7 602.3L526.8 610.1L526.8 612.1L526.9 610.3L527 608.2L527.1 613.5L527.2 613.6L527.2 604.5L527.3 613.4L527.4 613.2L527.5 598.7L527.6 612.6L527.6 611.8L527.7 610.9L527.8 604.9L527.9 610.1L528 607.7L528 609.5L528.1 613.1L528.2 613.7L528.3 612.2L528.4 610.3L528.4 606.8L528.5 603.6L528.6 609.4L528.7 610.1L528.8 611.4L528.8 612.7L528.9 613.4L529 613.5L529.1 603L529.2 608.2L529.2 608.4L529.3 607.7L529.4 613.1L529.5 607.4L529.6 612.3L529.7 611.8L529.7 606.7L529.8 611.7L529.9 611.3L530 612.4L530.1 601.2L530.1 594.6L530.2 613.4L530.3 597.6L530.4 611L530.5 610.3L530.5 610.6L530.6 609.5L530.7 612.7L530.8 612L530.9 611.6L530.9 607.5L531 607L531.1 609.4L531.2 612.4L531.3 612.5L531.3 613.1L531.4 612.6L531.5 613.5L531.6 611.7L531.7 611.5L531.7 613.6L531.8 613.6L531.9 611.5L532 605.4L532.1 612.6L532.1 600.3L532.2 611.9L532.3 613.2L532.4 606.4L532.5 612.1L532.5 607.5L532.6 613L532.7 613.6L532.8 608L532.9 613.5L532.9 612.4L533 613.1L533.1 613.1L533.2 612.6L533.3 607.9L533.3 612.8L533.4 609.6L533.5 612.1L533.6 611.3L533.7 613.8L533.7 613.6L533.8 613.3L533.9 612.5L534 608.9L534.1 605.5L534.1 611.4L534.2 607.5L534.3 612.4L534.4 612.3L534.5 609.7L534.5 606.4L534.6 610.4L534.7 611.6L534.8 613L534.9 613.4L534.9 609.5L535 609.3L535.1 608.3L535.2 612.4L535.3 612.4L535.3 608.6L535.4 609.2L535.5 609.3L535.6 609.2L535.7 611.7L535.7 608.7L535.8 612.5L535.9 607.5L536 611L536.1 612.5L536.1 612.4L536.2 613.5L536.3 613L536.4 607.6L536.5 612.5L536.5 612.4L536.6 612.2L536.7 612.5L536.8 613.7L536.9 613.8L536.9 611.9L537 611.6L537.1 595.8L537.2 610.8L537.3 604.1L537.3 609.1L537.4 612.1L537.5 612.2L537.6 611.7L537.7 613.7L537.7 609.7L537.8 612.6L537.9 606.9L538 613.3L538.1 613L538.1 610.2L538.2 607.9L538.3 612.8L538.4 609.7L538.5 599.4L538.5 613.2L538.6 610.1L538.7 606.5L538.8 613.5L538.9 607.3L538.9 608.6L539 611.6L539.1 612.2L539.2 609.3L539.3 605.5L539.3 610.7L539.4 612.8L539.5 611.6L539.6 609.5L539.7 613.6L539.7 613.7L539.8 611.4L539.9 608.1L540 611.1L540.1 611.8L540.1 611.3L540.2 612.9L540.3 612.3L540.4 605.9L540.5 609L540.5 613.5L540.6 611L540.7 612.8L540.8 592.8L540.9 611.4L540.9 608.7L541 600.3L541.1 612.7L541.2 611.4L541.3 609.4L541.3 609.3L541.4 611.8L541.5 611.5L541.6 612.2L541.7 613.6L541.7 613.5L541.8 612.7L541.9 611.8L542 613.3L542.1 604.6L542.1 608.8L542.2 607.9L542.3 611.9L542.4 605.9L542.5 610.2L542.5 613.4L542.6 612.8L542.7 613L542.8 607.8L542.9 598.8L542.9 612.5L543 612.1L543.1 612.2L543.2 608.9L543.3 599.7L543.3 613.6L543.4 609.8L543.5 609.3L543.6 613.7L543.7 613.5L543.7 611.9L543.8 609.9L543.9 605L544 604.4L544.1 612.3L544.1 607.2L544.2 607.3L544.3 610.5L544.4 611.5L544.5 611.5L544.5 611.8L544.6 613.3L544.7 609.9L544.8 613.5L544.9 610.8L544.9 609L545 610.7L545.1 611.3L545.2 611.5L545.3 613.5L545.3 609.3L545.4 608.1L545.5 611.3L545.6 609.8L545.7 604.9L545.7 611.3L545.8 613.7L545.9 610.7L546 613.1L546.1 609.3L546.1 610.5L546.2 609.4L546.3 613.1L546.4 613.3L546.5 611.7L546.5 607.1L546.6 612.3L546.7 606.7L546.8 612.7L546.9 613.7L547 612.3L547 613.3L547.1 612.3L547.2 611.1L547.3 612L547.4 609.4L547.4 605.6L547.5 613.4L547.6 613.7L547.7 613.2L547.8 613.6L547.8 612.9L547.9 612.7L548 607.5L548.1 609.7L548.2 610.7L548.2 612.5L548.3 603.2L548.4 610L548.5 613.7L548.6 612.8L548.6 613.8L548.7 612.9L548.8 612.1L548.9 606.9L549 610.3L549 612.2L549.1 612.5L549.2 604.3L549.3 612.8L549.4 607.3L549.4 610.7L549.5 612.8L549.6 608.4L549.7 612.4L549.8 611.5L549.8 608.3L549.9 613.6L550 606.9L550.1 609.6L550.2 613.6L550.2 611.7L550.3 609L550.4 607.1L550.5 613.1L550.6 606.4L550.6 611.1L550.7 611.1L550.8 613L550.9 600.8L551 607.5L551 609.4L551.1 609.5L551.2 613.4L551.3 609.6L551.4 611.7L551.4 613.1L551.5 611.2L551.6 608.7L551.7 612.7L551.8 612.7L551.8 612.4L551.9 607.8L552 608.6L552.1 613.4L552.2 610.8L552.2 608.6L552.3 611.9L552.4 608.9L552.5 606.5L552.6 610.6L552.6 611.7L552.7 610.2L552.8 610.1L552.9 611L553 612.1L553 609.3L553.1 606.6L553.2 612.3L553.3 613.8L553.4 612.4L553.4 613L553.5 612L553.6 612.1L553.7 611.3L553.8 600.8L553.8 612.5L553.9 610L554 605.7L554.1 609.2L554.2 613L554.2 611.5L554.3 610L554.4 612.9L554.5 608.8L554.6 613.6L554.6 609.2L554.7 611.6L554.8 613.1L554.9 613.6L555 610.2L555 613.1L555.1 612.4L555.2 611.8L555.3 610.1L555.4 609.8L555.4 612L555.5 610.5L555.6 608.6L555.7 611.6L555.8 613.6L555.8 609.1L555.9 610.9L556 611.8L556.1 613.5L556.2 613.2L556.2 611.6L556.3 610.8L556.4 611.9L556.5 610.8L556.6 609.8L556.6 608.7L556.7 606.8L556.8 609L556.9 601.9L557 613.4L557 613.1L557.1 613.6L557.2 612.1L557.3 611.7L557.4 608.4L557.4 613.6L557.5 613.3L557.6 599.9L557.7 613L557.8 613.7L557.8 610.5L557.9 610.9L558 612.8L558.1 607.2L558.2 608.4L558.2 608L558.3 601.2L558.4 608.2L558.5 611.3L558.6 613.4L558.6 613L558.7 598.4L558.8 613L558.9 612.1L559 612.5L559 600.5L559.1 612.5L559.2 612.3L559.3 611.4L559.4 612.6L559.4 603.1L559.5 607.8L559.6 606.6L559.7 613.7L559.8 610.7L559.8 612.4L559.9 611.9L560 611.3L560.1 610.1L560.2 613.2L560.2 613.8L560.3 608.5L560.4 612.4L560.5 607.1L560.6 612.5L560.6 613.5L560.7 613.6L560.8 610.4L560.9 608.7L561 610.9L561 604.6L561.1 613L561.2 613.7L561.3 610.3L561.4 604.1L561.4 610.1L561.5 611.4L561.6 608.7L561.7 612.6L561.8 608.7L561.8 613.7L561.9 613L562 610.7L562.1 613.6L562.2 608.4L562.2 607L562.3 608.9L562.4 611.9L562.5 608.7L562.6 612L562.6 610.8L562.7 613.8L562.8 612.4L562.9 613.3L563 612.1L563 605.4L563.1 609.4L563.2 612.4L563.3 604.1L563.4 611L563.4 610.7L563.5 611.6L563.6 611L563.7 611.5L563.8 608.4L563.9 611.1L563.9 613.2L564 612L564.1 612.5L564.2 611.7L564.3 611.3L564.3 609.9L564.4 612.4L564.5 613.4L564.6 612.5L564.7 611L564.7 611.6L564.8 613L564.9 612.2L565 612.3L565.1 613.1L565.1 613.2L565.2 612.9L565.3 606.9L565.4 609.4L565.5 611.8L565.5 612L565.6 612.3L565.7 613L565.8 613.3L565.9 607.7L565.9 612.7L566 612.1L566.1 613.6L566.2 613.1L566.3 610.5L566.3 608.5L566.4 612.9L566.5 612.7L566.6 613.3L566.7 609.8L566.7 612L566.8 613.7L566.9 608.4L567 611.4L567.1 613.5L567.1 612.8L567.2 608.3L567.3 613.1L567.4 613.3L567.5 611.4L567.5 613.8L567.6 607.2L567.7 612.5L567.8 611.8L567.9 613.1L567.9 613L568 613.6L568.1 613.8L568.2 612.9L568.3 613.6L568.4 613.6L568.5 612.4L568.6 612.3L568.7 613.1L568.7 613.8L568.8 613.7L568.9 613.6L569 613.2L569.1 613.7L569.1 612.9L569.2 613.4L569.3 613.6L569.4 613.4L569.5 613.8L569.5 612.6L569.6 612.9L569.7 613.8L569.8 613.2L569.9 612.8L569.9 613.5L570 611.8L570.1 613.2L570.2 613.4L570.3 611.9L570.3 613.3L570.4 612.8L570.5 612.1L570.6 612.8L570.7 611L570.7 613.4L570.8 613.8L570.9 613L571 612.3L571.1 613.8L571.1 611.2L571.2 609.8L571.3 611.2L571.4 612.4L571.5 612.3L571.5 613.6L571.6 613.8L571.7 612.4L571.8 613.1L571.9 610.7L571.9 612.7L572 612.6L572.1 613.2L572.2 610.5L572.3 613.7L572.3 612.8L572.4 612.9L572.5 612.5L572.6 613.5L572.7 613.1L572.7 613.8L572.8 613.5L572.9 607.8L573 613.1L573.1 612L573.1 613.8L573.2 611.5L573.3 613.6L573.4 613.6L573.5 613.7L573.5 612.1L573.6 611.9L573.7 613.6L573.8 611.5L573.9 612.9L573.9 613.3L574 611.1L574.1 613.4L574.2 613.8L574.3 613.2L574.3 613.6L574.4 611.1L574.5 613.6L574.6 613.8L574.7 612.6L574.7 613.6L574.8 613.1L574.9 612.5L575 613.8L575.1 612.3L575.1 612.8L575.2 613.4L575.3 613.7L575.4 613.3L575.5 613.7L575.5 613.5L575.6 611.9L575.7 612.8L575.8 613.7L575.9 611L575.9 612.1L576 612.5L576.1 613L576.2 611.8L576.3 611.6L576.3 611.4L576.4 612.2L576.5 606.4L576.6 613.6L576.7 613.7L576.7 613.2L576.8 613.7L576.9 613.5L577 612.7L577.1 613L577.1 611.9L577.2 613.7L577.3 613.8L577.4 613.7L577.5 613.3L577.6 613.7L577.7 610.7L577.8 613.4L577.9 611.5L577.9 613.4L578 613.3L578.1 613.1L578.2 611.7L578.3 612.7L578.3 611.9L578.4 613.8L578.5 613L578.6 612.8L578.7 613.5L578.7 611.4L578.8 612.6L578.9 612L579 611.8L579.1 612.3L579.1 613.6L579.2 612.6L579.3 612.3L579.4 612.3L579.5 611.7L579.5 611.6L579.6 610.9L579.7 613.4L579.8 609.3L579.9 613.7L579.9 611.9L580 613.2L580.1 613.3L580.2 613.5L580.3 613.2L580.3 613L580.4 613.7L580.5 610.5L580.6 612.6L580.7 613.6L580.7 611.5L580.8 613L580.9 611.7L581 612.5L581.1 611.8L581.2 612.5L581.2 611.5L581.3 613.4L581.4 612.3L581.5 613.3L581.6 613.7L581.6 613L581.7 609.6L581.8 613.2L581.9 610.1L582 611.8L582 612.4L582.1 609.6L582.2 611.6L582.3 611.9L582.4 612.1L582.4 613L582.5 611.5L582.6 612.9L582.7 613.3L582.8 613.6L582.8 612.2L582.9 613.8L583 613.7L583.1 610.6L583.2 604.9L583.2 613.7L583.3 610.8L583.4 609.7L583.5 609.6L583.6 606.4L583.6 611.3L583.7 607.5L583.8 613L583.9 611L584 609.8L584 609L584.1 613.6L584.2 613.8L584.3 609L584.4 607.5L584.4 613.5L584.5 613.6L584.6 608.8L584.7 612.2L584.8 612.9L584.8 608.8L584.9 612.8L585 613.7L585.1 612.1L585.2 609.8L585.2 613.6L585.3 613.7L585.4 612.4L585.5 613.7L585.6 612.4L585.6 613L585.7 612.4L585.8 612L585.9 611.4L586 613.7L586 610.7L586.1 610.5L586.2 612.7L586.3 613.2L586.4 612.1L586.4 613.2L586.5 613.1L586.6 610L586.7 608.9L586.8 609.1L586.8 605.6L586.9 612.5L587 612.1L587.1 613.8L587.2 612.1L587.2 613.7L587.3 613.4L587.4 598.8L587.5 609.8L587.6 612L587.6 612.2L587.7 610.9L587.8 609.4L587.9 609L588 612.5L588 613.8L588.1 609.5L588.2 605.8L588.3 608.4L588.4 610.4L588.4 611L588.5 612.3L588.6 613.4L588.7 604.7L588.8 612.7L588.8 609.5L588.9 612.7L589 611.7L589.1 607.2L589.2 606.8L589.2 612.2L589.3 605.3L589.4 606.4L589.5 598.2L589.6 610L589.6 603.4L589.7 609.1L589.8 613.7L589.9 604.3L590 611.5L590 613L590.1 611.8L590.2 603.2L590.3 606.7L590.4 609.7L590.4 608.8L590.5 612.4L590.6 610.1L590.7 609.5L590.8 609.1L590.8 604.4L590.9 612.9L591 612.4L591.1 607.3L591.2 613.6L591.2 612.6L591.3 611.8L591.4 612.6L591.5 613.7L591.6 610.2L591.6 613.6L591.7 610.3L591.8 606.7L591.9 609.9L592 607.6L592 613.7L592.1 606.8L592.2 608.8L592.3 608.9L592.4 609L592.4 604.9L592.5 613.6L592.6 613.5L592.7 591.4L592.8 611.3L592.8 608.4L592.9 610.3L593 613.1L593.1 611.9L593.2 612.2L593.2 613.1L593.3 609.7L593.4 611.7L593.5 607.2L593.6 612.2L593.6 608.7L593.7 612.5L593.8 613.4L593.9 606.1L594 612.8L594 599.5L594.1 610.3L594.2 612.3L594.3 612L594.4 606.3L594.4 604.2L594.5 612.3L594.6 612L594.7 611.6L594.8 612.1L594.8 599.9L594.9 608.3L595 612.3L595.1 610.7L595.2 611.8L595.2 607.8L595.3 599.2L595.4 613L595.5 610.5L595.6 612.4L595.6 613.7L595.7 606L595.8 609.5L595.9 613L596 609.8L596 602.1L596.1 611.3L596.2 612.2L596.3 612.5L596.4 607.7L596.4 612.3L596.5 613.7L596.6 607.4L596.7 608.9L596.8 610.5L596.8 612.8L596.9 610.5L597 610.6L597.1 607.8L597.2 609.9L597.2 612.4L597.3 613.3L597.4 606.8L597.5 610.6L597.6 613.5L597.6 613L597.7 611L597.8 613.1L597.9 612.4L598 612.7L598.1 608.8L598.1 610L598.2 589.7L598.3 612.4L598.4 602.1L598.5 606.9L598.5 612.1L598.6 612.4L598.7 613.6L598.8 611.6L598.9 605.3L598.9 613.7L599 610.3L599.1 610.5L599.2 613.3L599.3 612L599.3 612.6L599.4 610.8L599.5 601.5L599.6 609.7L599.7 612L599.7 613.1L599.8 611.7L599.9 611L600 611.9L600.1 609.6L600.1 611.7L600.2 612.1L600.3 613L600.4 613.6L600.5 612.1L600.5 613.5L600.6 613.4L600.7 608.1L600.8 608.9L600.9 606.2L600.9 613.2L601 612.7L601.1 613.1L601.2 613.5L601.3 610.5L601.3 612.9L601.4 611.2L601.5 610.6L601.6 608.5L601.7 612.9L601.7 610.1L601.8 612.6L601.9 611.1L602 612L602.1 613.3L602.1 613.1L602.2 606.7L602.3 611.9L602.4 609.2L602.5 610.5L602.5 613.1L602.6 606.8L602.7 609.7L602.8 611.2L602.9 613.3L602.9 609.2L603 604.5L603.1 609.7L603.2 601.9L603.3 612.4L603.3 612.7L603.4 613.1L603.5 597.5L603.6 613.2L603.7 593.1L603.7 609.2L603.8 611.4L603.9 607.6L604 613.1L604.1 589.5L604.1 608.5L604.2 612.6L604.3 609.3L604.4 613.8L604.5 606.4L604.5 612.6L604.6 613.4L604.7 608.6L604.8 612L604.9 609.3L604.9 611.7L605 609.9L605.1 612.2L605.2 604.7L605.3 609.8L605.3 612.4L605.4 605.3L605.5 610.1L605.6 612.6L605.7 608.9L605.7 600.6L605.8 601.6L605.9 592.6L606 609.8L606.1 605.4L606.1 609.8L606.2 607.6L606.3 609.6L606.4 613.1L606.5 612.5L606.5 613.6L606.6 609.7L606.7 610.7L606.8 613.2L606.9 598.5L606.9 613.1L607 612.4L607.1 610.5L607.2 610L607.3 611.3L607.3 612L607.4 608.2L607.5 603.9L607.6 612.8L607.7 612.7L607.7 603.9L607.8 611.7L607.9 604.2L608 608.7L608.1 610.3L608.1 611.7L608.2 610.8L608.3 613.6L608.4 610.5L608.5 613.5L608.5 613.1L608.6 610.8L608.7 610.6L608.8 607L608.9 612.7L608.9 608.3L609 612.5L609.1 612.9L609.2 613.5L609.3 611.9L609.3 612.3L609.4 612.2L609.5 605.4L609.6 613.5L609.7 602.7L609.7 611.8L609.8 612.9L609.9 601.2L610 610.6L610.1 612.8L610.1 610L610.2 613.1L610.3 593.4L610.4 598.1L610.5 613.5L610.5 613.3L610.6 608.5L610.7 609L610.8 611.1L610.9 603.2L610.9 610.6L611 610.5L611.1 606.4L611.2 599.7L611.3 608.1L611.3 607.1L611.4 604.7L611.5 608.8L611.6 610.9L611.7 613.4L611.7 610.9L611.8 613.8L611.9 611.9L612 611.9L612.1 612.6L612.1 582.4L612.2 609.7L612.3 610.7L612.4 608.8L612.5 613.5L612.5 610.7L612.6 607.4L612.7 607.9L612.8 612.3L612.9 610.1L612.9 607.7L613 610.2L613.1 612.2L613.2 595.3L613.3 609L613.3 607.8L613.4 606.5L613.5 599.3L613.6 601.2L613.7 605.5L613.7 604.9L613.8 610.9L613.9 608.9L614 612.6L614.1 611.3L614.1 609.3L614.2 613.3L614.3 613.1L614.4 605.7L614.5 611.8L614.5 606.4L614.6 611.9L614.7 610.6L614.8 608.3L614.9 612.2L614.9 613.3L615 612.5L615.1 611.3L615.2 613L615.3 611.6L615.4 605.9L615.4 604.2L615.5 603.6L615.6 613.3L615.7 609.2L615.8 600.4L615.8 610.1L615.9 613L616 603.7L616.1 611.4L616.2 609.3L616.2 610.2L616.3 613.5L616.4 612.4L616.5 606.5L616.6 609.5L616.6 611.7L616.7 610.4L616.8 609.2L616.9 613.2L617 609.6L617 610L617.1 609.2L617.2 611L617.3 613L617.4 612.2L617.4 599.3L617.5 612L617.6 611.2L617.7 611.3L617.8 606.9L617.8 605.1L617.9 613.3L618 612.3L618.1 613.2L618.2 604.4L618.2 612.7L618.3 609.4L618.4 612.8L618.5 611.5L618.6 610.9L618.7 597.3L618.8 605.9L618.9 608.3L619 591.4L619 612.1L619.1 607.5L619.2 604.1L619.3 612.2L619.4 610.7L619.4 607L619.5 611.7L619.6 613.7L619.7 611.5L619.8 611.9L619.8 609.7L619.9 606.1L620 612.6L620.1 609.9L620.2 613.6L620.2 608.3L620.3 607.4L620.4 612.2L620.5 611.2L620.6 611L620.6 600.8L620.7 607.7L620.8 610.7L620.9 601.6L621 612.8L621 611.3L621.1 613.3L621.2 612.7L621.3 612L621.4 602L621.4 611.9L621.5 613.6L621.6 611.7L621.7 610.7L621.8 612.2L621.8 609L621.9 609.9L622 610.6L622.1 612.2L622.2 608.5L622.2 608.6L622.3 598L622.4 613.3L622.5 611.4L622.6 602L622.6 611.1L622.7 612.6L622.8 612.9L622.9 610.5L623 609.2L623 610.8L623.1 610.4L623.2 613.7L623.3 608L623.4 607.5L623.4 610L623.5 611.9L623.6 612" stroke="#0072bd" stroke-width="0.7" fill="none" stroke-linejoin="round"/>
<path d="M367.3 613.8v-2.5M367.3 531.2v2.5M431.4 613.8v-2.5M431.4 531.2v2.5M495.5 613.8v-2.5M495.5 531.2v2.5M559.5 613.8v-2.5M559.5 531.2v2.5M623.6 613.8v-2.5M623.6 531.2v2.5M367.3 613.8h2.5M623.6 613.8h-2.5M367.3 573.9h2.5M623.6 573.9h-2.5M367.3 534.0h2.5M623.6 534.0h-2.5" stroke="#777" stroke-width="0.7" fill="none"/>
<text x="364.4" y="630.6" font-size="14.2" textLength="5.9" lengthAdjust="spacingAndGlyphs">0</text>
<text x="428.4" y="630.6" font-size="14.2" textLength="5.9" lengthAdjust="spacingAndGlyphs">2</text>
<text x="492.5" y="630.6" font-size="14.2" textLength="5.9" lengthAdjust="spacingAndGlyphs">4</text>
<text x="556.6" y="630.6" font-size="14.2" textLength="5.9" lengthAdjust="spacingAndGlyphs">6</text>
<text x="620.7" y="630.6" font-size="14.2" textLength="5.9" lengthAdjust="spacingAndGlyphs">8</text>
<text x="358.1" y="618.5" font-size="14.2" textLength="5.9" lengthAdjust="spacingAndGlyphs">0</text>
<text x="346.3" y="578.6" font-size="14.2" textLength="17.7" lengthAdjust="spacingAndGlyphs">100</text>
<text x="346.3" y="538.7" font-size="14.2" textLength="17.7" lengthAdjust="spacingAndGlyphs">200</text>
<text x="385.9" y="525.5" font-size="14.2" textLength="220.0" lengthAdjust="spacingAndGlyphs">Short-Time Zero-Crossing Rate (STZCR)</text>
<text x="474.5" y="647.6" font-size="14.2" textLength="42.7" lengthAdjust="spacingAndGlyphs">Time (s)</text>
<text x="261.2" y="564.0" font-size="14.2" textLength="147.6" lengthAdjust="spacingAndGlyphs" transform="rotate(-90 335.0 564.0)">Zero-Crossing Rate (Hz)</text>
<text x="272.4" y="436.0" font-size="14.2" textLength="150.0" lengthAdjust="spacingAndGlyphs" transform="rotate(-90 347.4 436.0)">Short-Time Energy (a.u.)</text>
<text x="484.1" y="690.9" font-size="16.6" textLength="18.4" lengthAdjust="spacingAndGlyphs">(e)</text>
<path d="M767.5 381.5V463.5M793.2 381.5V463.5M818.9 381.5V463.5M844.6 381.5V463.5M870.3 381.5V463.5M896.0 381.5V463.5M921.7 381.5V463.5M947.4 381.5V463.5M973.1 381.5V463.5M998.8 381.5V463.5M1024.5 381.5V463.5M1050.2 381.5V463.5M1075.9 381.5V463.5M1101.6 381.5V463.5M1127.3 381.5V463.5M1153.0 381.5V463.5M1178.7 381.5V463.5M1204.4 381.5V463.5M1230.1 381.5V463.5M741.8 422.5H1255.8" stroke="#f2f2f2" stroke-width="0.8" fill="none"/>
<path d="M741.8 381.5V463.5M1255.8 381.5V463.5" fill="none" stroke="#dcdcdc" stroke-width="0.8"/>
<path d="M741.8 381.5H1255.8M741.8 463.5H1255.8" fill="none" stroke="#c4c4c4" stroke-width="0.9"/>
<path d="M741.8 463.5L742.4 463.5L743.1 463.5L743.7 463.5L744.4 463.5L745 463.5L745.7 463.5L746.3 463.5L746.9 463.5L747.6 463.5L748.2 463.5L748.9 463.5L749.5 463.5L750.2 463.5L750.8 463.5L751.4 463.5L752.1 463.5L752.7 463.5L753.4 463.5L754 463.5L754.6 463.5L755.3 463.5L755.9 463.5L756.6 463.5L757.2 463.5L757.9 463.5L758.5 463.5L759.1 463.5L759.8 463.5L760.4 463.5L761.1 463.5L761.7 463.5L762.4 463.5L763 463.5L763.6 463.5L764.3 463.5L764.9 463.5L765.6 463.5L766.2 463.5L766.9 463.5L767.5 463.5L768.1 463.5L768.8 463.5L769.4 463.5L770.1 463.5L770.7 463.5L771.4 463.5L772 463.5L772.6 463.5L773.3 463.5L773.9 463.5L774.6 463.5L775.2 463.5L775.9 463.5L776.5 463.5L777.1 463.5L777.8 463.5L778.4 463.5L779.1 463.5L779.7 463.5L780.4 463.5L781 463.5L781.6 463.5L782.3 463.5L782.9 463.5L783.6 463.5L784.2 463.5L784.8 463.5L785.5 463.5L786.1 463.5L786.8 463.5L787.4 463.5L788.1 463.5L788.7 463.5L789.3 463.5L790 463.5L790.6 463.5L791.3 463.5L791.9 463.5L792.6 463.5L793.2 463.5L793.8 463.5L794.5 463.5L795.1 463.5L795.8 463.5L796.4 463.5L797.1 463.5L797.7 463.5L798.3 463.5L799 463.5L799.6 463.5L800.3 463.5L800.9 463.5L801.6 463.5L802.2 463.5L802.8 463.5L803.5 463.5L804.1 463.5L804.8 463.5L805.4 463.5L806 463.5L806.7 463.5L807.3 463.5L808 463.5L808.6 463.5L809.3 463.5L809.9 463.5L810.5 463.5L811.2 463.5L811.8 463.5L812.5 463.5L813.1 463.5L813.8 463.5L814.4 463.5L815 463.5L815.7 463.5L816.3 463.5L817 463.5L817.6 463.5L818.3 463.5L818.9 463.5L819.5 463.5L820.2 463.5L820.8 463.5L821.5 463.5L822.1 463.5L822.8 463.5L823.4 463.5L824 463.5L824.7 463.5L825.3 463.5L826 463.5L826.6 463.5L827.3 463.5L827.9 463.5L828.5 463.5L829.2 463.5L829.8 463.5L830.5 463.5L831.1 463.5L831.8 463.5L832.4 463.5L833 463.5L833.7 463.5L834.3 463.5L835 463.5L835.6 463.5L836.2 463.5L836.9 447.9L837.5 437.1L838.2 428.9L838.8 425.2L839.5 419L840.1 418.6L840.7 416.9L841.4 411.9L842 410.9L842.7 407.9L843.3 405.4L844 407.7L844.6 403.5L845.2 407.9L845.9 404.9L846.5 417L847.2 405.7L847.8 406.4L848.5 406L849.1 404.2L849.7 409.2L850.4 404.8L851 406.7L851.7 410.5L852.3 403.8L853 405.3L853.6 405.2L854.2 406.7L854.9 403L855.5 405.5L856.2 403L856.8 406.9L857.4 400.7L858.1 405.7L858.7 400.9L859.4 404.3L860 402L860.7 403.4L861.3 401.4L861.9 402.8L862.6 399.9L863.2 401.1L863.9 400.9L864.5 398.6L865.2 403.7L865.8 399.2L866.4 401.8L867.1 405.1L867.7 400.6L868.4 402L869 397.7L869.7 402.4L870.3 401.1L870.9 400.5L871.6 405.2L872.2 399.7L872.9 402.9L873.5 415.9L874.2 422.1L874.8 413L875.4 403.8L876.1 399.7L876.7 399.6L877.4 398.2L878 400.4L878.7 402.3L879.3 399.8L879.9 401.5L880.6 395.1L881.2 400.7L881.9 400.5L882.5 399L883.1 401.6L883.8 399.6L884.4 398.8L885.1 399.5L885.7 398.8L886.4 395.2L887 397L887.6 401L888.3 398.8L888.9 395.9L889.6 399L890.2 397.2L890.9 397.3L891.5 395.9L892.1 397.4L892.8 397.2L893.4 398.8L894.1 395.8L894.7 398.7L895.4 392.2L896 396.3L896.6 396.8L897.3 394.7L897.9 396.6L898.6 396.3L899.2 396.7L899.9 398.3L900.5 398.8L901.1 398.4L901.8 394.3L902.4 398.4L903.1 397.9L903.7 398.1L904.4 395.5L905 392.6L905.6 399.5L906.3 396L906.9 397.1L907.6 398.2L908.2 396.3L908.9 400.8L909.5 395.6L910.1 397.2L910.8 400.4L911.4 393.8L912.1 395.8L912.7 395L913.3 401.9L914 398.9L914.6 399.6L915.3 396.6L915.9 394.7L916.6 403.6L917.2 398.5L917.8 398.9L918.5 395.9L919.1 398.8L919.8 402.4L920.4 399.4L921.1 401.9L921.7 401.2L922.3 398.9L923 400.5L923.6 398.4L924.3 403.7L924.9 392.5L925.6 395.7L926.2 397.3L926.8 403.4L927.5 406.1L928.1 402.3L928.8 400.5L929.4 392.9L930.1 395.8L930.7 401.6L931.3 396.2L932 396.2L932.6 400.1L933.3 396.3L933.9 399.2L934.5 402.5L935.2 404.3L935.8 401L936.5 397.4L937.1 405.2L937.8 406.2L938.4 399.1L939 410.1L939.7 395L940.3 402.7L941 398.8L941.6 395.1L942.3 406.5L942.9 405.2L943.5 394L944.2 402.8L944.8 402.3L945.5 401.2L946.1 398.4L946.8 397.5L947.4 401.9L948 403.6L948.7 402.6L949.3 401.5L950 397.9L950.6 402.3L951.3 396.2L951.9 406.1L952.5 401.1L953.2 396.7L953.8 398.5L954.5 402.1L955.1 406.7L955.8 406.2L956.4 404.2L957 402.5L957.7 404.7L958.3 409.4L959 406.8L959.6 402.1L960.2 401L960.9 409.7L961.5 405.8L962.2 411L962.8 406.8L963.5 390.8L964.1 404.5L964.7 406.2L965.4 407.3L966 409.8L966.7 412.5L967.3 405.4L968 406.4L968.6 399.5L969.2 412.1L969.9 403.9L970.5 400.3L971.2 413.8L971.8 403.2L972.5 412.6L973.1 404L973.7 400.2L974.4 406.5L975 405.5L975.7 409.8L976.3 405.9L977 402.5L977.6 408.3L978.2 408.3L978.9 406.2L979.5 404.5L980.2 415.6L980.8 408.3L981.5 411.8L982.1 406.7L982.7 404.5L983.4 408L984 403.7L984.7 414.3L985.3 411.9L985.9 414.8L986.6 410.1L987.2 410.2L987.9 411.7L988.5 416.7L989.2 411.6L989.8 413.5L990.4 408.7L991.1 413.1L991.7 406.4L992.4 411.1L993 421.5L993.7 413.5L994.3 419.9L994.9 408.3L995.6 406.2L996.2 413.6L996.9 411.5L997.5 421.1L998.2 425.4L998.8 417.1L999.4 415.8L1000.1 422.4L1000.7 414.6L1001.4 413.7L1002 412.2L1002.7 407.9L1003.3 411.9L1003.9 418.1L1004.6 416L1005.2 413.7L1005.9 422.4L1006.5 410.4L1007.2 412.8L1007.8 418.9L1008.4 421.3L1009.1 398.5L1009.7 414.1L1010.4 413.8L1011 409.6L1011.6 414.1L1012.3 418.4L1012.9 416L1013.6 424.7L1014.2 416.4L1014.9 428.5L1015.5 418.5L1016.1 418L1016.8 429.3L1017.4 411.3L1018.1 427.7L1018.7 416.4L1019.4 424.9L1020 420.7L1020.6 426.1L1021.3 409.8L1021.9 417.7L1022.6 413.9L1023.2 419.5L1023.9 420.2L1024.5 423.3L1025.1 425.6L1025.8 421.5L1026.4 424.1L1027.1 426.1L1027.7 432.7L1028.4 427.5L1029 423.1L1029.6 428.9L1030.3 425L1030.9 427.8L1031.6 432.7L1032.2 432.3L1032.9 431.8L1033.5 429.8L1034.1 430L1034.8 423.3L1035.4 434.7L1036.1 439.7L1036.7 426.5L1037.3 432.4L1038 431.1L1038.6 418.3L1039.3 424L1039.9 428.5L1040.6 427.1L1041.2 431.4L1041.8 427.7L1042.5 435.5L1043.1 436.3L1043.8 435.4L1044.4 426.1L1045.1 426.6L1045.7 437L1046.3 429.1L1047 435.5L1047.6 430.2L1048.3 436.8L1048.9 431.4L1049.6 436.5L1050.2 437.6L1050.8 436.7L1051.5 436.1L1052.1 439.7L1052.8 443.4L1053.4 430.2L1054.1 439.6L1054.7 446.1L1055.3 448.3L1056 450.8L1056.6 441.6L1057.3 433.4L1057.9 446.5L1058.6 441.1L1059.2 447.8L1059.8 435.7L1060.5 439L1061.1 439.5L1061.8 435.5L1062.4 434.6L1063 437.4L1063.7 444.2L1064.3 447.5L1065 446.6L1065.6 449.7L1066.3 435.8L1066.9 444L1067.5 443L1068.2 443L1068.8 436.2L1069.5 446.4L1070.1 440.1L1070.8 443.7L1071.4 445.7L1072 452.4L1072.7 442.3L1073.3 448.6L1074 447.8L1074.6 445.6L1075.3 446.4L1075.9 443L1076.5 449.5L1077.2 446.8L1077.8 446.6L1078.5 447.7L1079.1 445.7L1079.8 449L1080.4 444.4L1081 450.9L1081.7 453.5L1082.3 449.1L1083 445.4L1083.6 451.1L1084.3 451.6L1084.9 450.9L1085.5 449.5L1086.2 450.8L1086.8 449.5L1087.5 455.8L1088.1 446.5L1088.8 449.4L1089.4 453.8L1090 447.6L1090.7 450.4L1091.3 447.8L1092 455.3L1092.6 447.8L1093.2 452.4L1093.9 458.1L1094.5 451L1095.2 453.9L1095.8 455.9L1096.5 454.1L1097.1 458.5L1097.7 452.6L1098.4 454.7L1099 455L1099.7 451.4L1100.3 454.7L1101 456.4L1101.6 457.2L1102.2 455.5L1102.9 453.2L1103.5 456.8L1104.2 457.8L1104.8 453.9L1105.5 455.8L1106.1 456.1L1106.7 452L1107.4 458.6L1108 456L1108.7 459.8L1109.3 457.1L1110 455.6L1110.6 454.7L1111.2 459.2L1111.9 455.5L1112.5 455.8L1113.2 457.5L1113.8 453.1L1114.5 457.5L1115.1 459.1L1115.7 457L1116.4 460.8L1117 455.5L1117.7 456.5L1118.3 458.8L1118.9 457.4L1119.6 457.6L1120.2 455.7L1120.9 459.5L1121.5 460.5L1122.2 461.6L1122.8 459.4L1123.4 461.1L1124.1 459.4L1124.7 458.8L1125.4 460L1126 460.7L1126.7 458.3L1127.3 460L1127.9 459.6L1128.6 458.8L1129.2 461.4L1129.9 461L1130.5 457.4L1131.2 460.2L1131.8 461.2L1132.4 460.4L1133.1 460.8L1133.7 461.5L1134.4 460.7L1135 460.4L1135.7 460.5L1136.3 460L1136.9 462.1L1137.6 462L1138.2 459.9L1138.9 461.1L1139.5 459.7L1140.2 460.5L1140.8 462L1141.4 460.5L1142.1 461.8L1142.7 460.8L1143.4 460.1L1144 459.5L1144.6 461.2L1145.3 460.7L1145.9 461.1L1146.6 460.8L1147.2 463.1L1147.9 461.7L1148.5 461.3L1149.1 461.2L1149.8 462L1150.4 461.1L1151.1 461L1151.7 461.7L1152.4 461.9L1153 462L1153.6 461.8L1154.3 461.3L1154.9 461.1L1155.6 462.2L1156.2 462.4L1156.9 462.4L1157.5 461.5L1158.1 461.9L1158.8 461.9L1159.4 461.9L1160.1 461.9L1160.7 462.2L1161.4 462.6L1162 462.5L1162.6 462.2L1163.3 462.1L1163.9 462.4L1164.6 462.5L1165.2 461.8L1165.8 462.5L1166.5 462.3L1167.1 462.5L1167.8 462.7L1168.4 463L1169.1 462.6L1169.7 462.8L1170.3 462.2L1171 462.9L1171.6 462.7L1172.3 462.4L1172.9 462.6L1173.6 462.5L1174.2 462.4L1174.8 463.1L1175.5 462.8L1176.1 463L1176.8 462.4L1177.4 462.8L1178.1 462.7L1178.7 462.4L1179.3 462.9L1180 462.8L1180.6 462.8L1181.3 462.9L1181.9 462.6L1182.6 462.7L1183.2 462.7L1183.8 462.9L1184.5 463L1185.1 463L1185.8 463L1186.4 463.3L1187.1 462.9L1187.7 462.8L1188.3 463L1189 463.1L1189.6 463L1190.3 462.9L1190.9 462.9L1191.5 462.7L1192.2 463.2L1192.8 463L1193.5 462.9L1194.1 463L1194.8 463.1L1195.4 463.2L1196 463.2L1196.7 463L1197.3 462.9L1198 463.2L1198.6 463L1199.3 463L1199.9 463L1200.5 463.1L1201.2 463.1L1201.8 463L1202.5 463.3L1203.1 463.1L1203.8 463.4L1204.4 463.4L1205 463.3L1205.7 463.4L1206.3 463.1L1207 463.1L1207.6 463.2L1208.3 463.2L1208.9 463.2L1209.5 463.3L1210.2 463.2L1210.8 463.2L1211.5 463.3L1212.1 463.3L1212.8 463.3L1213.4 463.2L1214 463.3L1214.7 463.2L1215.3 463.3L1216 463.2L1216.6 463.4L1217.2 463.4L1217.9 463.3L1218.5 463.3L1219.2 463.3L1219.8 463.2L1220.5 463.3L1221.1 463.3L1221.7 463.4L1222.4 463.2L1223 463.3L1223.7 463.3L1224.3 463.4L1225 463.3L1225.6 463.4L1226.2 463.3L1226.9 463.3L1227.5 463.4L1228.2 463.3L1228.8 463.3L1229.5 463.3L1230.1 463.4L1230.7 463.4L1231.4 463.4L1232 463.4L1232.7 463.3L1233.3 463.3L1234 463.4L1234.6 463.3L1235.2 463.4L1235.9 463.5L1236.5 463.3L1237.2 463.3L1237.8 463.4L1238.5 463.4L1239.1 463.3L1239.7 463.4L1240.4 463.4L1241 463.4L1241.7 463.4L1242.3 463.4L1243 463.3L1243.6 463.4L1244.2 463.4L1244.9 463.3L1245.5 463.4L1246.2 463.2L1246.8 463.4L1247.4 463.3L1248.1 463.3L1248.7 463.3L1249.4 463.3L1250 463.3L1250.7 463.4L1251.3 463.3L1251.9 463.3L1252.6 463.4L1253.2 463.4L1253.9 463.3L1254.5 463.4L1255.2 463.4L1255.8 463.4" stroke="#0072bd" stroke-width="1.0" fill="none" stroke-linejoin="round"/>
<path d="M741.8 463.5v-2.5M741.8 381.5v2.5M767.5 463.5v-2.5M767.5 381.5v2.5M793.2 463.5v-2.5M793.2 381.5v2.5M818.9 463.5v-2.5M818.9 381.5v2.5M844.6 463.5v-2.5M844.6 381.5v2.5M870.3 463.5v-2.5M870.3 381.5v2.5M896.0 463.5v-2.5M896.0 381.5v2.5M921.7 463.5v-2.5M921.7 381.5v2.5M947.4 463.5v-2.5M947.4 381.5v2.5M973.1 463.5v-2.5M973.1 381.5v2.5M998.8 463.5v-2.5M998.8 381.5v2.5M1024.5 463.5v-2.5M1024.5 381.5v2.5M1050.2 463.5v-2.5M1050.2 381.5v2.5M1075.9 463.5v-2.5M1075.9 381.5v2.5M1101.6 463.5v-2.5M1101.6 381.5v2.5M1127.3 463.5v-2.5M1127.3 381.5v2.5M1153.0 463.5v-2.5M1153.0 381.5v2.5M1178.7 463.5v-2.5M1178.7 381.5v2.5M1204.4 463.5v-2.5M1204.4 381.5v2.5M1230.1 463.5v-2.5M1230.1 381.5v2.5M1255.8 463.5v-2.5M1255.8 381.5v2.5M741.8 463.5h2.5M1255.8 463.5h-2.5M741.8 422.5h2.5M1255.8 422.5h-2.5M741.8 381.5h2.5M1255.8 381.5h-2.5" stroke="#777" stroke-width="0.7" fill="none"/>
<text x="738.8" y="482.0" font-size="14" textLength="6.1" lengthAdjust="spacingAndGlyphs">1</text>
<text x="759.9" y="482.0" font-size="14" textLength="15.2" lengthAdjust="spacingAndGlyphs">1.1</text>
<text x="785.6" y="482.0" font-size="14" textLength="15.2" lengthAdjust="spacingAndGlyphs">1.2</text>
<text x="811.3" y="482.0" font-size="14" textLength="15.2" lengthAdjust="spacingAndGlyphs">1.3</text>
<text x="837.0" y="482.0" font-size="14" textLength="15.2" lengthAdjust="spacingAndGlyphs">1.4</text>
<text x="862.7" y="482.0" font-size="14" textLength="15.2" lengthAdjust="spacingAndGlyphs">1.5</text>
<text x="888.4" y="482.0" font-size="14" textLength="15.2" lengthAdjust="spacingAndGlyphs">1.6</text>
<text x="914.1" y="482.0" font-size="14" textLength="15.2" lengthAdjust="spacingAndGlyphs">1.7</text>
<text x="939.8" y="482.0" font-size="14" textLength="15.2" lengthAdjust="spacingAndGlyphs">1.8</text>
<text x="965.5" y="482.0" font-size="14" textLength="15.2" lengthAdjust="spacingAndGlyphs">1.9</text>
<text x="995.8" y="482.0" font-size="14" textLength="6.1" lengthAdjust="spacingAndGlyphs">2</text>
<text x="1016.9" y="482.0" font-size="14" textLength="15.2" lengthAdjust="spacingAndGlyphs">2.1</text>
<text x="1042.6" y="482.0" font-size="14" textLength="15.2" lengthAdjust="spacingAndGlyphs">2.2</text>
<text x="1068.3" y="482.0" font-size="14" textLength="15.2" lengthAdjust="spacingAndGlyphs">2.3</text>
<text x="1094.0" y="482.0" font-size="14" textLength="15.2" lengthAdjust="spacingAndGlyphs">2.4</text>
<text x="1119.7" y="482.0" font-size="14" textLength="15.2" lengthAdjust="spacingAndGlyphs">2.5</text>
<text x="1145.4" y="482.0" font-size="14" textLength="15.2" lengthAdjust="spacingAndGlyphs">2.6</text>
<text x="1171.1" y="482.0" font-size="14" textLength="15.2" lengthAdjust="spacingAndGlyphs">2.7</text>
<text x="1196.8" y="482.0" font-size="14" textLength="15.2" lengthAdjust="spacingAndGlyphs">2.8</text>
<text x="1222.5" y="482.0" font-size="14" textLength="15.2" lengthAdjust="spacingAndGlyphs">2.9</text>
<text x="1252.8" y="482.0" font-size="14" textLength="6.1" lengthAdjust="spacingAndGlyphs">3</text>
<text x="731.8" y="468.1" font-size="14" textLength="6.1" lengthAdjust="spacingAndGlyphs">0</text>
<text x="725.7" y="427.1" font-size="14" textLength="12.2" lengthAdjust="spacingAndGlyphs">50</text>
<text x="719.6" y="386.1" font-size="14" textLength="18.3" lengthAdjust="spacingAndGlyphs">100</text>
<text x="923.2" y="376.0" font-size="15.6" textLength="151.5" lengthAdjust="spacingAndGlyphs">Short-Time Energy (STE)</text>
<text x="974.9" y="500.4" font-size="15.6" textLength="48.2" lengthAdjust="spacingAndGlyphs">Time (s)</text>
<path d="M767.5 527.5V609.0M793.2 527.5V609.0M818.9 527.5V609.0M844.6 527.5V609.0M870.3 527.5V609.0M896.0 527.5V609.0M921.7 527.5V609.0M947.4 527.5V609.0M973.1 527.5V609.0M998.8 527.5V609.0M1024.5 527.5V609.0M1050.2 527.5V609.0M1075.9 527.5V609.0M1101.6 527.5V609.0M1127.3 527.5V609.0M1153.0 527.5V609.0M1178.7 527.5V609.0M1204.4 527.5V609.0M1230.1 527.5V609.0M741.8 569.4H1255.8M741.8 529.9H1255.8" stroke="#f2f2f2" stroke-width="0.8" fill="none"/>
<path d="M741.8 527.5V609.0M1255.8 527.5V609.0" fill="none" stroke="#dcdcdc" stroke-width="0.8"/>
<path d="M741.8 527.5H1255.8M741.8 609.0H1255.8" fill="none" stroke="#c4c4c4" stroke-width="0.9"/>
<path d="M741.8 607.8L742.4 608.3L743.1 608.9L743.7 603.1L744.4 602.1L745 608.6L745.7 608.3L746.3 608.6L746.9 590.2L747.6 603.8L748.2 600.9L748.9 607.3L749.5 601.8L750.2 607.2L750.8 608.6L751.4 605.1L752.1 604.3L752.7 608.3L753.4 608.2L754 605.7L754.6 600L755.3 597.7L755.9 608.8L756.6 606.6L757.2 608.8L757.9 606.3L758.5 608.8L759.1 602.5L759.8 608.7L760.4 608.3L761.1 607.1L761.7 608.7L762.4 608.5L763 605.6L763.6 608.2L764.3 606.7L764.9 601.2L765.6 604.4L766.2 606.3L766.9 603L767.5 608.4L768.1 607.9L768.8 594.5L769.4 607.4L770.1 607.7L770.7 607.9L771.4 604.1L772 606.8L772.6 602L773.3 607.1L773.9 605.6L774.6 608.8L775.2 606.3L775.9 606L776.5 603.3L777.1 604.6L777.8 608.4L778.4 607.1L779.1 608.1L779.7 608.5L780.4 608.6L781 602.4L781.6 608.1L782.3 602.3L782.9 605.8L783.6 588.8L784.2 605.5L784.8 604.6L785.5 606.2L786.1 607.6L786.8 603.4L787.4 608.4L788.1 607.6L788.7 609L789.3 601.9L790 607.8L790.6 606.2L791.3 605.1L791.9 601.3L792.6 607.8L793.2 597.6L793.8 607.3L794.5 607.1L795.1 608.8L795.8 604.3L796.4 607.6L797.1 600.2L797.7 607.6L798.3 605.1L799 606.2L799.6 609L800.3 607.2L800.9 608.2L801.6 608.6L802.2 608.7L802.8 608L803.5 604.8L804.1 601.4L804.8 608.5L805.4 606.2L806 606.4L806.7 609L807.3 607.6L808 605L808.6 603.2L809.3 605.6L809.9 601L810.5 605.5L811.2 605.6L811.8 608.7L812.5 608.9L813.1 604.8L813.8 607.4L814.4 602.3L815 597.5L815.7 598.7L816.3 605.8L817 608.4L817.6 603.4L818.3 603.3L818.9 595.7L819.5 607.7L820.2 607.4L820.8 608.9L821.5 601.7L822.1 603.3L822.8 607.2L823.4 607.9L824 608.6L824.7 606.7L825.3 606L826 605.8L826.6 608.3L827.3 607.9L827.9 607.5L828.5 607.7L829.2 608.1L829.8 606.4L830.5 599L831.1 608.8L831.8 602.6L832.4 604.4L833 603.1L833.7 605.9L834.3 604.9L835 608.8L835.6 603.6L836.2 598.9L836.9 531.7L837.5 532.1L838.2 533.7L838.8 527.8L839.5 538.8L840.1 537.4L840.7 542.7L841.4 565.1L842 557.6L842.7 565.2L843.3 574.5L844 574.1L844.6 573.8L845.2 564.2L845.9 572.5L846.5 574.5L847.2 574.5L847.8 578.4L848.5 575.1L849.1 577L849.7 583.9L850.4 580.1L851 565.6L851.7 576.9L852.3 580.3L853 578.2L853.6 584.7L854.2 581.6L854.9 579.6L855.5 588.5L856.2 586.3L856.8 585.8L857.4 586.1L858.1 587.2L858.7 585.3L859.4 583.6L860 586L860.7 584.6L861.3 585L861.9 589.9L862.6 588L863.2 590.1L863.9 588L864.5 590.9L865.2 590.9L865.8 587L866.4 591.7L867.1 595.2L867.7 592L868.4 592L869 594.1L869.7 593.4L870.3 592L870.9 595L871.6 594.5L872.2 595.6L872.9 593.7L873.5 594.7L874.2 596.2L874.8 594.9L875.4 591.4L876.1 597.9L876.7 597.4L877.4 594.4L878 597.6L878.7 591.8L879.3 597.9L879.9 597.7L880.6 596.4L881.2 593.8L881.9 594.4L882.5 594.9L883.1 595.4L883.8 593.9L884.4 599.1L885.1 595.8L885.7 594L886.4 598.1L887 596L887.6 594.7L888.3 594.8L888.9 597L889.6 594.1L890.2 596.2L890.9 595.5L891.5 598.8L892.1 598.4L892.8 598.5L893.4 594.9L894.1 601L894.7 600.3L895.4 596.7L896 597.7L896.6 602.1L897.3 598.5L897.9 598.4L898.6 596.3L899.2 600.6L899.9 598.7L900.5 596.5L901.1 597L901.8 599.3L902.4 598.4L903.1 600.1L903.7 596.2L904.4 598.7L905 596.4L905.6 597L906.3 599.4L906.9 598.3L907.6 597.3L908.2 597.6L908.9 596.1L909.5 596.7L910.1 597.8L910.8 597.3L911.4 599.2L912.1 599.1L912.7 597.5L913.3 597.8L914 599.8L914.6 598.4L915.3 599.4L915.9 599.1L916.6 596.6L917.2 599.6L917.8 599.3L918.5 597.7L919.1 598.3L919.8 598.2L920.4 600.4L921.1 598.5L921.7 599L922.3 599.6L923 599.2L923.6 598.9L924.3 597.4L924.9 596.1L925.6 598.4L926.2 596.6L926.8 598.4L927.5 600.5L928.1 598.5L928.8 597L929.4 596.8L930.1 599.8L930.7 595.8L931.3 599.6L932 599.7L932.6 599.4L933.3 596.9L933.9 598.2L934.5 597.6L935.2 601.6L935.8 598.9L936.5 599L937.1 597.9L937.8 599.4L938.4 597.3L939 599.7L939.7 600.6L940.3 601L941 597.3L941.6 598L942.3 599.9L942.9 597.6L943.5 599.2L944.2 599.1L944.8 600.8L945.5 599.7L946.1 598.9L946.8 598.8L947.4 599.8L948 597.8L948.7 597.3L949.3 600.1L950 598.6L950.6 601L951.3 598.6L951.9 600.3L952.5 599.3L953.2 598.9L953.8 599.4L954.5 597.9L955.1 600.1L955.8 599.8L956.4 598.8L957 599.2L957.7 598.9L958.3 599.5L959 600.2L959.6 598.4L960.2 599.1L960.9 598.2L961.5 597.6L962.2 599.7L962.8 600.2L963.5 599.8L964.1 600.1L964.7 601.7L965.4 597.3L966 598.8L966.7 596.5L967.3 600L968 598.6L968.6 599L969.2 599.5L969.9 598.2L970.5 599.4L971.2 599.5L971.8 599.2L972.5 602.1L973.1 600.3L973.7 600.3L974.4 597.5L975 598.8L975.7 598.5L976.3 598.7L977 599.7L977.6 597.6L978.2 599.8L978.9 601.2L979.5 598.8L980.2 598.2L980.8 599.4L981.5 599.1L982.1 598.4L982.7 597.8L983.4 598.9L984 597.6L984.7 599.3L985.3 597.2L985.9 601.2L986.6 598.5L987.2 599.3L987.9 599.5L988.5 601.2L989.2 598.4L989.8 599.9L990.4 600.8L991.1 600.4L991.7 600L992.4 599.6L993 600.8L993.7 600.8L994.3 599.3L994.9 599.8L995.6 597.5L996.2 600.3L996.9 598.9L997.5 597.8L998.2 600L998.8 598.7L999.4 599.5L1000.1 599.8L1000.7 598L1001.4 601L1002 577.7L1002.7 586.2L1003.3 583.9L1003.9 583.9L1004.6 589.7L1005.2 589.3L1005.9 594.3L1006.5 592L1007.2 595.4L1007.8 596.8L1008.4 594.3L1009.1 597.4L1009.7 597.1L1010.4 598.1L1011 597.6L1011.6 598.7L1012.3 600.5L1012.9 598.8L1013.6 598.8L1014.2 599L1014.9 599.8L1015.5 597.5L1016.1 600.5L1016.8 599.6L1017.4 599.5L1018.1 601L1018.7 601.2L1019.4 599.1L1020 599.1L1020.6 599.7L1021.3 601.7L1021.9 600.2L1022.6 599.7L1023.2 599.2L1023.9 598.6L1024.5 599.4L1025.1 598.9L1025.8 598.1L1026.4 602.6L1027.1 598.9L1027.7 600.5L1028.4 599.4L1029 599.7L1029.6 601.1L1030.3 601L1030.9 599.5L1031.6 600.2L1032.2 599.2L1032.9 600.4L1033.5 597.6L1034.1 600.3L1034.8 597.7L1035.4 600.9L1036.1 599.4L1036.7 598.8L1037.3 601.5L1038 601.1L1038.6 599.6L1039.3 598.8L1039.9 598.5L1040.6 599.4L1041.2 598.9L1041.8 601.3L1042.5 600.5L1043.1 598.5L1043.8 600.7L1044.4 600.3L1045.1 602L1045.7 600.3L1046.3 601.8L1047 599.7L1047.6 598.5L1048.3 599.7L1048.9 599.9L1049.6 600.5L1050.2 599.5L1050.8 601.3L1051.5 600.6L1052.1 597.7L1052.8 601.6L1053.4 600.7L1054.1 601.7L1054.7 598.8L1055.3 600.4L1056 601.5L1056.6 601.5L1057.3 598.9L1057.9 599.4L1058.6 599.3L1059.2 600.2L1059.8 599.2L1060.5 598.7L1061.1 599.4L1061.8 601.9L1062.4 602.3L1063 601.8L1063.7 599.9L1064.3 601.8L1065 601.4L1065.6 600.2L1066.3 601.2L1066.9 601.6L1067.5 599.2L1068.2 599.7L1068.8 599.4L1069.5 599.2L1070.1 598.7L1070.8 600.3L1071.4 600.4L1072 602.2L1072.7 600.5L1073.3 600.9L1074 599.1L1074.6 599.5L1075.3 598.7L1075.9 599.1L1076.5 599L1077.2 599.7L1077.8 600L1078.5 600.6L1079.1 600.2L1079.8 601.2L1080.4 599.7L1081 600.2L1081.7 602.3L1082.3 603L1083 600.8L1083.6 556.5L1084.3 567.4L1084.9 569.4L1085.5 583.8L1086.2 590.1L1086.8 589.2L1087.5 590.6L1088.1 591.6L1088.8 597.6L1089.4 597.3L1090 598.3L1090.7 596.2L1091.3 565.4L1092 574.7L1092.6 576.8L1093.2 584.4L1093.9 586.9L1094.5 588.9L1095.2 592L1095.8 593L1096.5 593.1L1097.1 594.4L1097.7 593.2L1098.4 595L1099 597L1099.7 600.5L1100.3 599.8L1101 598.7L1101.6 598.7L1102.2 600.1L1102.9 599L1103.5 598.5L1104.2 599.5L1104.8 598.9L1105.5 598.9L1106.1 599.7L1106.7 599.9L1107.4 599L1108 598.5L1108.7 600.2L1109.3 593.2L1110 592.5L1110.6 591.1L1111.2 596.7L1111.9 593.1L1112.5 596.6L1113.2 596.1L1113.8 598L1114.5 596.4L1115.1 597.5L1115.7 597.3L1116.4 600.6L1117 584.2L1117.7 593.2L1118.3 591.8L1118.9 591.7L1119.6 594.4L1120.2 594.1L1120.9 595.5L1121.5 596.2L1122.2 598L1122.8 595.6L1123.4 595.8L1124.1 598.3L1124.7 599L1125.4 597.5L1126 599L1126.7 597.8L1127.3 596.9L1127.9 597.1L1128.6 596L1129.2 597.4L1129.9 599.5L1130.5 599.2L1131.2 597.3L1131.8 595.4L1132.4 598.5L1133.1 599.2L1133.7 596L1134.4 598.1L1135 597L1135.7 596.4L1136.3 599.2L1136.9 598.3L1137.6 598.6L1138.2 597.1L1138.9 590.5L1139.5 594.4L1140.2 593.6L1140.8 598.4L1141.4 595.4L1142.1 595.9L1142.7 596.7L1143.4 599.1L1144 597.2L1144.6 598.7L1145.3 595.1L1145.9 597.7L1146.6 597.6L1147.2 597.5L1147.9 596.5L1148.5 597.2L1149.1 596.5L1149.8 598.6L1150.4 595.7L1151.1 598L1151.7 596.1L1152.4 596.9L1153 595.6L1153.6 597.3L1154.3 599.4L1154.9 598.9L1155.6 597.6L1156.2 595.3L1156.9 577.4L1157.5 579.6L1158.1 579.1L1158.8 587.4L1159.4 587.3L1160.1 589.2L1160.7 592.6L1161.4 592L1162 591.5L1162.6 592.4L1163.3 595.5L1163.9 590.6L1164.6 595.3L1165.2 596.7L1165.8 597.6L1166.5 598.3L1167.1 595.8L1167.8 601.4L1168.4 597.5L1169.1 599.4L1169.7 597.8L1170.3 597.7L1171 599.5L1171.6 599.1L1172.3 596.1L1172.9 598.6L1173.6 597.9L1174.2 598.4L1174.8 596.9L1175.5 596.4L1176.1 596.9L1176.8 597.4L1177.4 597.4L1178.1 599.8L1178.7 596.5L1179.3 599L1180 599.4L1180.6 598.8L1181.3 599.4L1181.9 597.8L1182.6 597.5L1183.2 596.8L1183.8 579.9L1184.5 587.7L1185.1 590.9L1185.8 595.4L1186.4 596.2L1187.1 593.1L1187.7 598.2L1188.3 598.3L1189 575.9L1189.6 582.1L1190.3 584.4L1190.9 591.3L1191.5 593.7L1192.2 590.5L1192.8 595.6L1193.5 595.6L1194.1 595.8L1194.8 599.6L1195.4 597.6L1196 598.6L1196.7 597.3L1197.3 598.6L1198 601.3L1198.6 597.6L1199.3 595.2L1199.9 592.1L1200.5 594.3L1201.2 595.4L1201.8 595.5L1202.5 594.8L1203.1 598.2L1203.8 598.4L1204.4 596.9L1205 597.6L1205.7 597.6L1206.3 598.3L1207 599.2L1207.6 599.6L1208.3 599.7L1208.9 598.1L1209.5 597.5L1210.2 597L1210.8 600.7L1211.5 599.8L1212.1 599.5L1212.8 599.8L1213.4 600.9L1214 597.1L1214.7 598L1215.3 599.9L1216 600.3L1216.6 599.8L1217.2 601.2L1217.9 600.2L1218.5 599L1219.2 598L1219.8 598.9L1220.5 598.5L1221.1 601.1L1221.7 603.6L1222.4 598.5L1223 599.8L1223.7 600.2L1224.3 598.3L1225 601.2L1225.6 601.2L1226.2 601L1226.9 598.5L1227.5 599.2L1228.2 602.2L1228.8 598.5L1229.5 600.3L1230.1 599.9L1230.7 601.2L1231.4 598.4L1232 600L1232.7 599.1L1233.3 601.6L1234 599.8L1234.6 600.5L1235.2 600.9L1235.9 601.5L1236.5 601.4L1237.2 602L1237.8 601.5L1238.5 600.9L1239.1 600.3L1239.7 602.5L1240.4 602L1241 601.6L1241.7 602.7L1242.3 601.4L1243 601.4L1243.6 601.4L1244.2 600.8L1244.9 600.3L1245.5 600.5L1246.2 601.1L1246.8 600.8L1247.4 602.2L1248.1 602.3L1248.7 600.9L1249.4 601L1250 599.5L1250.7 601.8L1251.3 602.5L1251.9 601.4L1252.6 602.1L1253.2 602.6L1253.9 600.6L1254.5 600.1L1255.2 601.5L1255.8 602.5" stroke="#0072bd" stroke-width="1.0" fill="none" stroke-linejoin="round"/>
<path d="M741.8 609.0v-2.5M741.8 527.5v2.5M767.5 609.0v-2.5M767.5 527.5v2.5M793.2 609.0v-2.5M793.2 527.5v2.5M818.9 609.0v-2.5M818.9 527.5v2.5M844.6 609.0v-2.5M844.6 527.5v2.5M870.3 609.0v-2.5M870.3 527.5v2.5M896.0 609.0v-2.5M896.0 527.5v2.5M921.7 609.0v-2.5M921.7 527.5v2.5M947.4 609.0v-2.5M947.4 527.5v2.5M973.1 609.0v-2.5M973.1 527.5v2.5M998.8 609.0v-2.5M998.8 527.5v2.5M1024.5 609.0v-2.5M1024.5 527.5v2.5M1050.2 609.0v-2.5M1050.2 527.5v2.5M1075.9 609.0v-2.5M1075.9 527.5v2.5M1101.6 609.0v-2.5M1101.6 527.5v2.5M1127.3 609.0v-2.5M1127.3 527.5v2.5M1153.0 609.0v-2.5M1153.0 527.5v2.5M1178.7 609.0v-2.5M1178.7 527.5v2.5M1204.4 609.0v-2.5M1204.4 527.5v2.5M1230.1 609.0v-2.5M1230.1 527.5v2.5M1255.8 609.0v-2.5M1255.8 527.5v2.5M741.8 609.0h2.5M1255.8 609.0h-2.5M741.8 569.4h2.5M1255.8 569.4h-2.5M741.8 529.9h2.5M1255.8 529.9h-2.5" stroke="#777" stroke-width="0.7" fill="none"/>
<text x="738.8" y="627.2" font-size="14" textLength="6.1" lengthAdjust="spacingAndGlyphs">1</text>
<text x="759.9" y="627.2" font-size="14" textLength="15.2" lengthAdjust="spacingAndGlyphs">1.1</text>
<text x="785.6" y="627.2" font-size="14" textLength="15.2" lengthAdjust="spacingAndGlyphs">1.2</text>
<text x="811.3" y="627.2" font-size="14" textLength="15.2" lengthAdjust="spacingAndGlyphs">1.3</text>
<text x="837.0" y="627.2" font-size="14" textLength="15.2" lengthAdjust="spacingAndGlyphs">1.4</text>
<text x="862.7" y="627.2" font-size="14" textLength="15.2" lengthAdjust="spacingAndGlyphs">1.5</text>
<text x="888.4" y="627.2" font-size="14" textLength="15.2" lengthAdjust="spacingAndGlyphs">1.6</text>
<text x="914.1" y="627.2" font-size="14" textLength="15.2" lengthAdjust="spacingAndGlyphs">1.7</text>
<text x="939.8" y="627.2" font-size="14" textLength="15.2" lengthAdjust="spacingAndGlyphs">1.8</text>
<text x="965.5" y="627.2" font-size="14" textLength="15.2" lengthAdjust="spacingAndGlyphs">1.9</text>
<text x="995.8" y="627.2" font-size="14" textLength="6.1" lengthAdjust="spacingAndGlyphs">2</text>
<text x="1016.9" y="627.2" font-size="14" textLength="15.2" lengthAdjust="spacingAndGlyphs">2.1</text>
<text x="1042.6" y="627.2" font-size="14" textLength="15.2" lengthAdjust="spacingAndGlyphs">2.2</text>
<text x="1068.3" y="627.2" font-size="14" textLength="15.2" lengthAdjust="spacingAndGlyphs">2.3</text>
<text x="1094.0" y="627.2" font-size="14" textLength="15.2" lengthAdjust="spacingAndGlyphs">2.4</text>
<text x="1119.7" y="627.2" font-size="14" textLength="15.2" lengthAdjust="spacingAndGlyphs">2.5</text>
<text x="1145.4" y="627.2" font-size="14" textLength="15.2" lengthAdjust="spacingAndGlyphs">2.6</text>
<text x="1171.1" y="627.2" font-size="14" textLength="15.2" lengthAdjust="spacingAndGlyphs">2.7</text>
<text x="1196.8" y="627.2" font-size="14" textLength="15.2" lengthAdjust="spacingAndGlyphs">2.8</text>
<text x="1222.5" y="627.2" font-size="14" textLength="15.2" lengthAdjust="spacingAndGlyphs">2.9</text>
<text x="1252.8" y="627.2" font-size="14" textLength="6.1" lengthAdjust="spacingAndGlyphs">3</text>
<text x="731.8" y="613.6" font-size="14" textLength="6.1" lengthAdjust="spacingAndGlyphs">0</text>
<text x="719.6" y="574.1" font-size="14" textLength="18.3" lengthAdjust="spacingAndGlyphs">100</text>
<text x="719.6" y="534.5" font-size="14" textLength="18.3" lengthAdjust="spacingAndGlyphs">200</text>
<text x="877.5" y="521.9" font-size="15.6" textLength="243.1" lengthAdjust="spacingAndGlyphs">Short-Time Zero-Crossing Rate (STZCR)</text>
<text x="974.9" y="646.0" font-size="15.6" textLength="48.2" lengthAdjust="spacingAndGlyphs">Time (s)</text>
<text x="987.6" y="692.0" font-size="16.6" textLength="16.6" lengthAdjust="spacingAndGlyphs">(f)</text>
</svg></body></html>
